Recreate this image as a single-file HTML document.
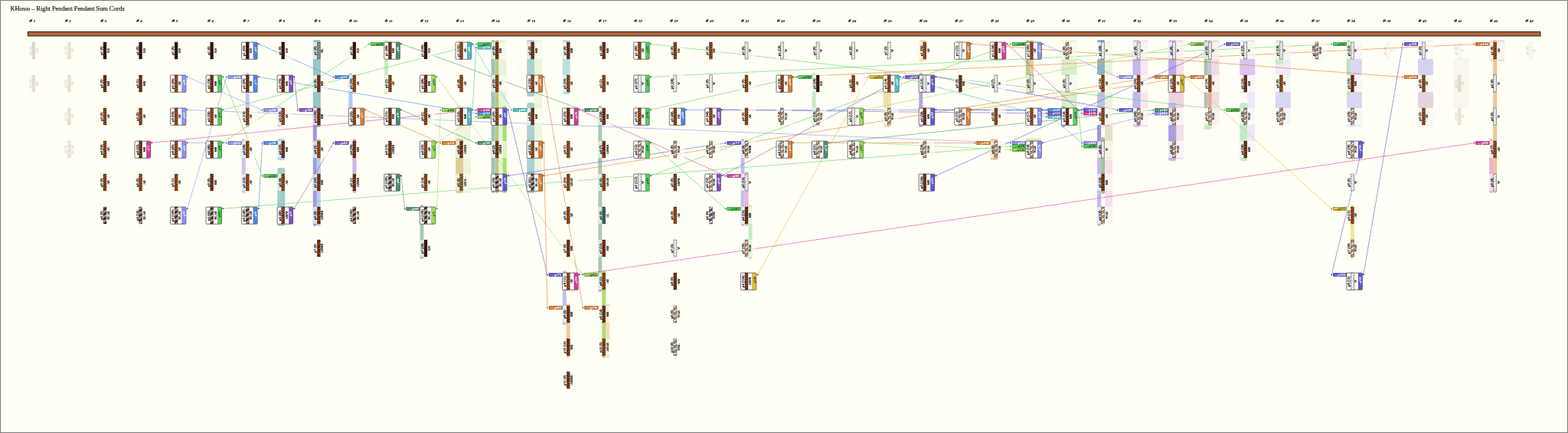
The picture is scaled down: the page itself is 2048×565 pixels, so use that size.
<!DOCTYPE html><html><head><meta charset="utf-8"><style>html,body{margin:0;padding:0;background:#fffff5;}svg{display:block}</style></head><body>
<svg width="2048" height="565" viewBox="0 0 2048 565" font-family="Liberation Serif, serif">
<defs>
<pattern id="pKB" patternUnits="userSpaceOnUse" width="4" height="6.2" patternTransform="skewY(-32)"><rect width="4" height="6.2" fill="#5e1c12"/><rect y="3.1" width="4" height="3.1" fill="#5e1c12"/><rect y="0" width="4" height="1.7" fill="#1a0806"/><rect y="3.1" width="4" height="1.7" fill="#1a0806"/></pattern>
<pattern id="pMB" patternUnits="userSpaceOnUse" width="4" height="6.2" patternTransform="skewY(-32)"><rect width="4" height="6.2" fill="#9a4418"/><rect y="3.1" width="4" height="3.1" fill="#9a4418"/><rect y="0" width="4" height="1.27" fill="#2a0c06"/><rect y="3.1" width="4" height="1.27" fill="#2a0c06"/></pattern>
<pattern id="pNB" patternUnits="userSpaceOnUse" width="4" height="6.2" patternTransform="skewY(-32)"><rect width="4" height="6.2" fill="#b8581c"/><rect y="3.1" width="4" height="3.1" fill="#b8581c"/><rect y="0" width="4" height="1.27" fill="#3a1606"/><rect y="3.1" width="4" height="1.27" fill="#3a1606"/></pattern>
<pattern id="pAB" patternUnits="userSpaceOnUse" width="4" height="6.2" patternTransform="skewY(-32)"><rect width="4" height="6.2" fill="#c4601c"/><rect y="3.1" width="4" height="3.1" fill="#c4601c"/><rect y="0" width="4" height="1.27" fill="#3a1606"/><rect y="3.1" width="4" height="1.27" fill="#3a1606"/></pattern>
<pattern id="pABAB" patternUnits="userSpaceOnUse" width="4" height="6.2" patternTransform="skewY(-32)"><rect width="4" height="6.2" fill="#c4601c"/><rect y="3.1" width="4" height="3.1" fill="#b0561a"/><rect y="0" width="4" height="1.27" fill="#3a1606"/><rect y="3.1" width="4" height="1.27" fill="#3a1606"/></pattern>
<pattern id="pW" patternUnits="userSpaceOnUse" width="4" height="6.2" patternTransform="skewY(-32)"><rect width="4" height="6.2" fill="#ffffff"/><rect y="3.1" width="4" height="3.1" fill="#ffffff"/><rect y="0" width="4" height="0.68" fill="#8a8a8a"/><rect y="3.1" width="4" height="0.68" fill="#8a8a8a"/></pattern>
<pattern id="pWAB" patternUnits="userSpaceOnUse" width="4" height="6.2" patternTransform="skewY(-32)"><rect width="4" height="6.2" fill="#ffffff"/><rect y="3.1" width="4" height="3.1" fill="#d88a58"/><rect y="0" width="4" height="0.85" fill="#555555"/><rect y="3.1" width="4" height="0.85" fill="#555555"/></pattern>
<pattern id="pWMB" patternUnits="userSpaceOnUse" width="4" height="6.2" patternTransform="skewY(-32)"><rect width="4" height="6.2" fill="#ffffff"/><rect y="3.1" width="4" height="3.1" fill="#b07050"/><rect y="0" width="4" height="0.77" fill="#444444"/><rect y="3.1" width="4" height="0.77" fill="#444444"/></pattern>
<pattern id="pWBL" patternUnits="userSpaceOnUse" width="4" height="6.2" patternTransform="skewY(-32)"><rect width="4" height="6.2" fill="#ffffff"/><rect y="3.1" width="4" height="3.1" fill="#9a9a9a"/><rect y="0" width="4" height="0.77" fill="#333333"/><rect y="3.1" width="4" height="0.77" fill="#333333"/></pattern>
<pattern id="pWPB" patternUnits="userSpaceOnUse" width="4" height="6.2" patternTransform="skewY(-32)"><rect width="4" height="6.2" fill="#ffffff"/><rect y="3.1" width="4" height="3.1" fill="#6a4a6a"/><rect y="0" width="4" height="0.77" fill="#333333"/><rect y="3.1" width="4" height="0.77" fill="#333333"/></pattern>
<pattern id="pBLAB" patternUnits="userSpaceOnUse" width="4" height="6.2" patternTransform="skewY(-32)"><rect width="4" height="6.2" fill="#a0aab6"/><rect y="3.1" width="4" height="3.1" fill="#262226"/><rect y="0" width="4" height="0.77" fill="#c4601c"/><rect y="3.1" width="4" height="0.77" fill="#c4601c"/></pattern>
<pattern id="pABMB" patternUnits="userSpaceOnUse" width="4" height="6.2" patternTransform="skewY(-32)"><rect width="4" height="6.2" fill="#c4601c"/><rect y="3.1" width="4" height="3.1" fill="#8a3414"/><rect y="0" width="4" height="1.27" fill="#2a0c06"/><rect y="3.1" width="4" height="1.27" fill="#2a0c06"/></pattern>
<pattern id="pABPB" patternUnits="userSpaceOnUse" width="4" height="6.2" patternTransform="skewY(-32)"><rect width="4" height="6.2" fill="#c4601c"/><rect y="3.1" width="4" height="3.1" fill="#8a5a6a"/><rect y="0" width="4" height="1.19" fill="#2a0c06"/><rect y="3.1" width="4" height="1.19" fill="#2a0c06"/></pattern>
<pattern id="pABGL" patternUnits="userSpaceOnUse" width="4" height="6.2" patternTransform="skewY(-32)"><rect width="4" height="6.2" fill="#c8641e"/><rect y="3.1" width="4" height="3.1" fill="#8a9a50"/><rect y="0" width="4" height="0.94" fill="#2a0c06"/><rect y="3.1" width="4" height="0.94" fill="#2a0c06"/></pattern>
<pattern id="pBL" patternUnits="userSpaceOnUse" width="4" height="6.2" patternTransform="skewY(-32)"><rect width="4" height="6.2" fill="#a4a4a4"/><rect y="3.1" width="4" height="3.1" fill="#a4a4a4"/><rect y="0" width="4" height="0.94" fill="#404040"/><rect y="3.1" width="4" height="0.94" fill="#404040"/></pattern>
<pattern id="pCL" patternUnits="userSpaceOnUse" width="4" height="6.2" patternTransform="skewY(-32)"><rect width="4" height="6.2" fill="#3a7a80"/><rect y="3.1" width="4" height="3.1" fill="#3a7a80"/><rect y="0" width="4" height="1.1" fill="#103038"/><rect y="3.1" width="4" height="1.1" fill="#103038"/></pattern>
<pattern id="pF" patternUnits="userSpaceOnUse" width="4" height="6.2" patternTransform="skewY(-32)"><rect width="4" height="6.2" fill="#c8a890"/><rect y="3.1" width="4" height="3.1" fill="#c8a890"/><rect y="0" width="4" height="0.85" fill="#a08070"/><rect y="3.1" width="4" height="0.85" fill="#a08070"/></pattern>
</defs>
<rect x="0.5" y="0.5" width="2047" height="564" fill="#fffff5" stroke="#7c7c7a" stroke-width="1"/>
<rect x="1.5" y="1.5" width="2045" height="562" fill="none" stroke="#ffffff" stroke-width="1"/>
<text x="13.4" y="13.7" font-size="8.3" fill="#111" stroke="#111" stroke-width="0.18">KH<tspan font-size="6.9">0500</tspan> – Right Pendant Pendant Sum Cords</text>
<text x="42.3" y="29.4" font-weight="bold" font-style="italic" text-anchor="middle" fill="#1a1a1a" stroke="#1a1a1a" stroke-width="0.15"><tspan font-size="7.0">#</tspan><tspan font-size="5.0" dx="1.7">1</tspan></text>
<text x="88.9" y="29.4" font-weight="bold" font-style="italic" text-anchor="middle" fill="#1a1a1a" stroke="#1a1a1a" stroke-width="0.15"><tspan font-size="7.0">#</tspan><tspan font-size="5.0" dx="1.7">2</tspan></text>
<text x="135.4" y="29.4" font-weight="bold" font-style="italic" text-anchor="middle" fill="#1a1a1a" stroke="#1a1a1a" stroke-width="0.15"><tspan font-size="7.0">#</tspan><tspan font-size="5.0" dx="1.7">3</tspan></text>
<text x="182.0" y="29.4" font-weight="bold" font-style="italic" text-anchor="middle" fill="#1a1a1a" stroke="#1a1a1a" stroke-width="0.15"><tspan font-size="7.0">#</tspan><tspan font-size="5.0" dx="1.7">4</tspan></text>
<text x="228.5" y="29.4" font-weight="bold" font-style="italic" text-anchor="middle" fill="#1a1a1a" stroke="#1a1a1a" stroke-width="0.15"><tspan font-size="7.0">#</tspan><tspan font-size="5.0" dx="1.7">5</tspan></text>
<text x="275.1" y="29.4" font-weight="bold" font-style="italic" text-anchor="middle" fill="#1a1a1a" stroke="#1a1a1a" stroke-width="0.15"><tspan font-size="7.0">#</tspan><tspan font-size="5.0" dx="1.7">6</tspan></text>
<text x="321.6" y="29.4" font-weight="bold" font-style="italic" text-anchor="middle" fill="#1a1a1a" stroke="#1a1a1a" stroke-width="0.15"><tspan font-size="7.0">#</tspan><tspan font-size="5.0" dx="1.7">7</tspan></text>
<text x="368.2" y="29.4" font-weight="bold" font-style="italic" text-anchor="middle" fill="#1a1a1a" stroke="#1a1a1a" stroke-width="0.15"><tspan font-size="7.0">#</tspan><tspan font-size="5.0" dx="1.7">8</tspan></text>
<text x="414.7" y="29.4" font-weight="bold" font-style="italic" text-anchor="middle" fill="#1a1a1a" stroke="#1a1a1a" stroke-width="0.15"><tspan font-size="7.0">#</tspan><tspan font-size="5.0" dx="1.7">9</tspan></text>
<text x="461.3" y="29.4" font-weight="bold" font-style="italic" text-anchor="middle" fill="#1a1a1a" stroke="#1a1a1a" stroke-width="0.15"><tspan font-size="7.0">#</tspan><tspan font-size="5.0" dx="1.7">10</tspan></text>
<text x="507.8" y="29.4" font-weight="bold" font-style="italic" text-anchor="middle" fill="#1a1a1a" stroke="#1a1a1a" stroke-width="0.15"><tspan font-size="7.0">#</tspan><tspan font-size="5.0" dx="1.7">11</tspan></text>
<text x="554.4" y="29.4" font-weight="bold" font-style="italic" text-anchor="middle" fill="#1a1a1a" stroke="#1a1a1a" stroke-width="0.15"><tspan font-size="7.0">#</tspan><tspan font-size="5.0" dx="1.7">12</tspan></text>
<text x="601.0" y="29.4" font-weight="bold" font-style="italic" text-anchor="middle" fill="#1a1a1a" stroke="#1a1a1a" stroke-width="0.15"><tspan font-size="7.0">#</tspan><tspan font-size="5.0" dx="1.7">13</tspan></text>
<text x="647.5" y="29.4" font-weight="bold" font-style="italic" text-anchor="middle" fill="#1a1a1a" stroke="#1a1a1a" stroke-width="0.15"><tspan font-size="7.0">#</tspan><tspan font-size="5.0" dx="1.7">14</tspan></text>
<text x="694.1" y="29.4" font-weight="bold" font-style="italic" text-anchor="middle" fill="#1a1a1a" stroke="#1a1a1a" stroke-width="0.15"><tspan font-size="7.0">#</tspan><tspan font-size="5.0" dx="1.7">15</tspan></text>
<text x="740.6" y="29.4" font-weight="bold" font-style="italic" text-anchor="middle" fill="#1a1a1a" stroke="#1a1a1a" stroke-width="0.15"><tspan font-size="7.0">#</tspan><tspan font-size="5.0" dx="1.7">16</tspan></text>
<text x="787.2" y="29.4" font-weight="bold" font-style="italic" text-anchor="middle" fill="#1a1a1a" stroke="#1a1a1a" stroke-width="0.15"><tspan font-size="7.0">#</tspan><tspan font-size="5.0" dx="1.7">17</tspan></text>
<text x="833.7" y="29.4" font-weight="bold" font-style="italic" text-anchor="middle" fill="#1a1a1a" stroke="#1a1a1a" stroke-width="0.15"><tspan font-size="7.0">#</tspan><tspan font-size="5.0" dx="1.7">18</tspan></text>
<text x="880.3" y="29.4" font-weight="bold" font-style="italic" text-anchor="middle" fill="#1a1a1a" stroke="#1a1a1a" stroke-width="0.15"><tspan font-size="7.0">#</tspan><tspan font-size="5.0" dx="1.7">19</tspan></text>
<text x="926.8" y="29.4" font-weight="bold" font-style="italic" text-anchor="middle" fill="#1a1a1a" stroke="#1a1a1a" stroke-width="0.15"><tspan font-size="7.0">#</tspan><tspan font-size="5.0" dx="1.7">20</tspan></text>
<text x="973.4" y="29.4" font-weight="bold" font-style="italic" text-anchor="middle" fill="#1a1a1a" stroke="#1a1a1a" stroke-width="0.15"><tspan font-size="7.0">#</tspan><tspan font-size="5.0" dx="1.7">21</tspan></text>
<text x="1020.0" y="29.4" font-weight="bold" font-style="italic" text-anchor="middle" fill="#1a1a1a" stroke="#1a1a1a" stroke-width="0.15"><tspan font-size="7.0">#</tspan><tspan font-size="5.0" dx="1.7">22</tspan></text>
<text x="1066.5" y="29.4" font-weight="bold" font-style="italic" text-anchor="middle" fill="#1a1a1a" stroke="#1a1a1a" stroke-width="0.15"><tspan font-size="7.0">#</tspan><tspan font-size="5.0" dx="1.7">23</tspan></text>
<text x="1113.1" y="29.4" font-weight="bold" font-style="italic" text-anchor="middle" fill="#1a1a1a" stroke="#1a1a1a" stroke-width="0.15"><tspan font-size="7.0">#</tspan><tspan font-size="5.0" dx="1.7">24</tspan></text>
<text x="1159.6" y="29.4" font-weight="bold" font-style="italic" text-anchor="middle" fill="#1a1a1a" stroke="#1a1a1a" stroke-width="0.15"><tspan font-size="7.0">#</tspan><tspan font-size="5.0" dx="1.7">25</tspan></text>
<text x="1206.2" y="29.4" font-weight="bold" font-style="italic" text-anchor="middle" fill="#1a1a1a" stroke="#1a1a1a" stroke-width="0.15"><tspan font-size="7.0">#</tspan><tspan font-size="5.0" dx="1.7">26</tspan></text>
<text x="1252.7" y="29.4" font-weight="bold" font-style="italic" text-anchor="middle" fill="#1a1a1a" stroke="#1a1a1a" stroke-width="0.15"><tspan font-size="7.0">#</tspan><tspan font-size="5.0" dx="1.7">27</tspan></text>
<text x="1299.3" y="29.4" font-weight="bold" font-style="italic" text-anchor="middle" fill="#1a1a1a" stroke="#1a1a1a" stroke-width="0.15"><tspan font-size="7.0">#</tspan><tspan font-size="5.0" dx="1.7">28</tspan></text>
<text x="1345.8" y="29.4" font-weight="bold" font-style="italic" text-anchor="middle" fill="#1a1a1a" stroke="#1a1a1a" stroke-width="0.15"><tspan font-size="7.0">#</tspan><tspan font-size="5.0" dx="1.7">29</tspan></text>
<text x="1392.4" y="29.4" font-weight="bold" font-style="italic" text-anchor="middle" fill="#1a1a1a" stroke="#1a1a1a" stroke-width="0.15"><tspan font-size="7.0">#</tspan><tspan font-size="5.0" dx="1.7">30</tspan></text>
<text x="1439.0" y="29.4" font-weight="bold" font-style="italic" text-anchor="middle" fill="#1a1a1a" stroke="#1a1a1a" stroke-width="0.15"><tspan font-size="7.0">#</tspan><tspan font-size="5.0" dx="1.7">31</tspan></text>
<text x="1485.5" y="29.4" font-weight="bold" font-style="italic" text-anchor="middle" fill="#1a1a1a" stroke="#1a1a1a" stroke-width="0.15"><tspan font-size="7.0">#</tspan><tspan font-size="5.0" dx="1.7">32</tspan></text>
<text x="1532.1" y="29.4" font-weight="bold" font-style="italic" text-anchor="middle" fill="#1a1a1a" stroke="#1a1a1a" stroke-width="0.15"><tspan font-size="7.0">#</tspan><tspan font-size="5.0" dx="1.7">33</tspan></text>
<text x="1578.6" y="29.4" font-weight="bold" font-style="italic" text-anchor="middle" fill="#1a1a1a" stroke="#1a1a1a" stroke-width="0.15"><tspan font-size="7.0">#</tspan><tspan font-size="5.0" dx="1.7">34</tspan></text>
<text x="1625.2" y="29.4" font-weight="bold" font-style="italic" text-anchor="middle" fill="#1a1a1a" stroke="#1a1a1a" stroke-width="0.15"><tspan font-size="7.0">#</tspan><tspan font-size="5.0" dx="1.7">35</tspan></text>
<text x="1671.7" y="29.4" font-weight="bold" font-style="italic" text-anchor="middle" fill="#1a1a1a" stroke="#1a1a1a" stroke-width="0.15"><tspan font-size="7.0">#</tspan><tspan font-size="5.0" dx="1.7">36</tspan></text>
<text x="1718.3" y="29.4" font-weight="bold" font-style="italic" text-anchor="middle" fill="#1a1a1a" stroke="#1a1a1a" stroke-width="0.15"><tspan font-size="7.0">#</tspan><tspan font-size="5.0" dx="1.7">37</tspan></text>
<text x="1764.8" y="29.4" font-weight="bold" font-style="italic" text-anchor="middle" fill="#1a1a1a" stroke="#1a1a1a" stroke-width="0.15"><tspan font-size="7.0">#</tspan><tspan font-size="5.0" dx="1.7">38</tspan></text>
<text x="1811.4" y="29.4" font-weight="bold" font-style="italic" text-anchor="middle" fill="#1a1a1a" stroke="#1a1a1a" stroke-width="0.15"><tspan font-size="7.0">#</tspan><tspan font-size="5.0" dx="1.7">39</tspan></text>
<text x="1857.9" y="29.4" font-weight="bold" font-style="italic" text-anchor="middle" fill="#1a1a1a" stroke="#1a1a1a" stroke-width="0.15"><tspan font-size="7.0">#</tspan><tspan font-size="5.0" dx="1.7">40</tspan></text>
<text x="1904.5" y="29.4" font-weight="bold" font-style="italic" text-anchor="middle" fill="#1a1a1a" stroke="#1a1a1a" stroke-width="0.15"><tspan font-size="7.0">#</tspan><tspan font-size="5.0" dx="1.7">41</tspan></text>
<text x="1951.1" y="29.4" font-weight="bold" font-style="italic" text-anchor="middle" fill="#1a1a1a" stroke="#1a1a1a" stroke-width="0.15"><tspan font-size="7.0">#</tspan><tspan font-size="5.0" dx="1.7">42</tspan></text>
<text x="1997.6" y="29.4" font-weight="bold" font-style="italic" text-anchor="middle" fill="#1a1a1a" stroke="#1a1a1a" stroke-width="0.15"><tspan font-size="7.0">#</tspan><tspan font-size="5.0" dx="1.7">43</tspan></text>
<rect x="36.5" y="41.5" width="1975.5" height="5.5" fill="#a9673e" stroke="#3a1c0c" stroke-width="1"/>
<rect x="320.7" y="95" width="5.0" height="71" rx="2.5" fill="#c6c6f3" fill-opacity="1"/>
<rect x="315.7" y="181" width="5.0" height="71" rx="2.5" fill="#c6c6f3" fill-opacity="1"/>
<rect x="362.3" y="138" width="5.0" height="28" rx="2.5" fill="#d2d2f6" fill-opacity="1"/>
<rect x="362.3" y="181" width="10.0" height="28" rx="2.5" fill="#b9d0f4" fill-opacity="1"/>
<rect x="362.3" y="219" width="10.0" height="76" rx="2.5" fill="#9dcfcb" fill-opacity="1"/>
<rect x="408.8" y="52" width="10.0" height="114" rx="2.5" fill="#96c8c8" fill-opacity="1"/>
<rect x="408.8" y="138" width="5.0" height="157" rx="2.5" fill="#a29ade" fill-opacity="1"/>
<rect x="413.8" y="181" width="5.0" height="114" rx="2.5" fill="#b9d0f2" fill-opacity="1"/>
<rect x="455.4" y="95" width="5.0" height="71" rx="2.5" fill="#b1c9f1" fill-opacity="1"/>
<rect x="460.4" y="181" width="5.0" height="71" rx="2.5" fill="#c9b4e9" fill-opacity="1"/>
<rect x="501.9" y="52" width="5.0" height="71" rx="2.5" fill="#c5ecc5" fill-opacity="1"/>
<rect x="548.5" y="267" width="5.0" height="71" rx="2.5" fill="#a9c9b9" fill-opacity="1"/>
<rect x="595.1" y="138" width="20.0" height="114" rx="2.5" fill="#eef6dc" fill-opacity="1"/>
<rect x="595.1" y="181" width="10.0" height="71" rx="2.5" fill="#d9cd99" fill-opacity="1"/>
<rect x="641.6" y="52" width="5.0" height="200" rx="2.5" fill="#9cc4bc" fill-opacity="1"/>
<rect x="646.6" y="52" width="5.0" height="200" rx="2.5" fill="#b9c981" fill-opacity="1"/>
<rect x="651.6" y="52" width="10.0" height="200" rx="2.5" fill="#eaf4d8" fill-opacity="1"/>
<rect x="656.6" y="138" width="5.0" height="114" rx="2.5" fill="#a9e071" fill-opacity="1"/>
<rect x="688.2" y="52" width="10.0" height="74" rx="2.5" fill="#a9d1cd" fill-opacity="1"/>
<rect x="688.2" y="134" width="10.0" height="118" rx="2.5" fill="#a9d1cd" fill-opacity="1"/>
<rect x="688.17" y="52" width="10.0" height="3.5" rx="2.5" fill="#b8c8f0" fill-opacity="1"/>
<rect x="698.2" y="52" width="10.0" height="200" rx="2.5" fill="#eef6dc" fill-opacity="1"/>
<rect x="734.7" y="52" width="10.0" height="71" rx="2.5" fill="#b9e1e1" fill-opacity="1"/>
<rect x="734.7" y="353" width="5.0" height="71" rx="2.5" fill="#c1c1f1" fill-opacity="1"/>
<rect x="739.7" y="396" width="5.0" height="71" rx="2.5" fill="#f5c9a1" fill-opacity="1"/>
<rect x="781.3" y="138" width="5.0" height="243" rx="2.5" fill="#a9c9b9" fill-opacity="1"/>
<rect x="786.3" y="353" width="5.0" height="114" rx="2.5" fill="#a9e071" fill-opacity="1"/>
<rect x="791.3" y="396" width="5.0" height="71" rx="2.5" fill="#f9d9b9" fill-opacity="1"/>
<rect x="967.5" y="181" width="5.0" height="114" rx="2.5" fill="#c1c1f1" fill-opacity="1"/>
<rect x="972.5" y="224" width="5.0" height="71" rx="2.5" fill="#f1b1d1" fill-opacity="1"/>
<rect x="977.5" y="267" width="5.0" height="71" rx="2.5" fill="#c1f1c1" fill-opacity="1"/>
<rect x="1060.6" y="95" width="5.0" height="71" rx="2.5" fill="#c5ecc5" fill-opacity="1"/>
<rect x="1153.7" y="95" width="10.0" height="71" rx="2.5" fill="#f1e1a9" fill-opacity="1"/>
<rect x="1200.3" y="52" width="10.0" height="28" rx="2.5" fill="#f1e1a9" fill-opacity="1"/>
<rect x="1200.3" y="95" width="5.0" height="71" rx="2.5" fill="#b9a1e1" fill-opacity="1"/>
<rect x="1293.4" y="181" width="10.0" height="28" rx="2.5" fill="#f5c9a1" fill-opacity="1"/>
<rect x="1339.9" y="52" width="5.0" height="71" rx="2.5" fill="#b9c981" fill-opacity="1"/>
<rect x="1344.9" y="52" width="5.0" height="71" rx="2.5" fill="#e1c9a9" fill-opacity="1"/>
<rect x="1386.5" y="52" width="20.0" height="114" rx="2.5" fill="#eef6dc" fill-opacity="1"/>
<rect x="1386.5" y="77" width="20.0" height="21" rx="2.5" fill="#dcefc8" fill-opacity="1"/>
<rect x="1386.5" y="120" width="20.0" height="21" rx="2.5" fill="#dcefc8" fill-opacity="1"/>
<rect x="1386.5" y="138" width="5.0" height="28" rx="2.5" fill="#81c1c9" fill-opacity="1"/>
<rect x="1433.1" y="52" width="10.0" height="28" rx="2.5" fill="#d0e4ee" fill-opacity="1"/>
<rect x="1433.1" y="77" width="10.0" height="21" rx="2.5" fill="#8fb5bd" fill-opacity="1"/>
<rect x="1433.1" y="120" width="10.0" height="21" rx="2.5" fill="#bcc4dc" fill-opacity="1"/>
<rect x="1443.1" y="54" width="10.0" height="116" rx="2.5" fill="#e9f4dd" fill-opacity="1"/>
<rect x="1433.1" y="160" width="5.0" height="135" rx="2.5" fill="#c5b8ec" fill-opacity="1"/>
<rect x="1433.1" y="163" width="5.0" height="23" rx="2.5" fill="#a393da" fill-opacity="1"/>
<rect x="1438.1" y="179" width="5.0" height="74" rx="2.5" fill="#93c993" fill-opacity="1"/>
<rect x="1443.1" y="160" width="10.0" height="47" rx="2.5" fill="#e6e2c4" fill-opacity="1"/>
<rect x="1443.1" y="208" width="10.0" height="84" rx="2.5" fill="#f4e1e9" fill-opacity="1"/>
<rect x="1479.6" y="52" width="10.0" height="114" rx="2.5" fill="#d2caf2" fill-opacity="1"/>
<rect x="1489.6" y="52" width="10.0" height="114" rx="2.5" fill="#f6e8ee" fill-opacity="1"/>
<rect x="1479.6" y="77" width="10.0" height="21" rx="2.5" fill="#c4b6ec" fill-opacity="1"/>
<rect x="1479.6" y="120" width="10.0" height="21" rx="2.5" fill="#c4b6ec" fill-opacity="1"/>
<rect x="1536.2" y="52" width="10.0" height="156" rx="2.5" fill="#f3e0ea" fill-opacity="1"/>
<rect x="1526.2" y="52" width="10.0" height="74" rx="2.5" fill="#cbbdee" fill-opacity="1"/>
<rect x="1526.2" y="77" width="10.0" height="21" rx="2.5" fill="#bea8e6" fill-opacity="1"/>
<rect x="1526.2" y="120" width="20.0" height="21" rx="2.5" fill="#eed3df" fill-opacity="1"/>
<rect x="1526.2" y="134" width="10.0" height="76" rx="2.5" fill="#bcbcea" fill-opacity="1"/>
<rect x="1526.2" y="163" width="10.0" height="22" rx="2.5" fill="#a9a1dd" fill-opacity="1"/>
<rect x="1572.7" y="52" width="5.0" height="47" rx="2.5" fill="#a3c3a3" fill-opacity="1"/>
<rect x="1577.7" y="52" width="5.0" height="47" rx="2.5" fill="#c3c3ea" fill-opacity="1"/>
<rect x="1582.7" y="52" width="10.0" height="111" rx="2.5" fill="#f2dce4" fill-opacity="1"/>
<rect x="1572.7" y="120" width="5.0" height="21" rx="2.5" fill="#bcbcbc" fill-opacity="1"/>
<rect x="1577.7" y="120" width="5.0" height="21" rx="2.5" fill="#dab396" fill-opacity="1"/>
<rect x="1572.7" y="160" width="10.0" height="9" rx="2.5" fill="#c8ecc0" fill-opacity="1"/>
<rect x="1619.3" y="52" width="20.0" height="70" rx="2.5" fill="#f2e6f2" fill-opacity="1"/>
<rect x="1619.3" y="77" width="20.0" height="21" rx="2.5" fill="#dcc5ee" fill-opacity="1"/>
<rect x="1629.3" y="118" width="10.0" height="82" rx="2.5" fill="#ece8f6" fill-opacity="1"/>
<rect x="1619.3" y="134" width="10.0" height="76" rx="2.5" fill="#c5ebcb" fill-opacity="1"/>
<rect x="1665.8" y="56" width="20.0" height="106" rx="2.5" fill="#eeeaf8" fill-opacity="1"/>
<rect x="1665.8" y="120" width="20.0" height="21" rx="2.5" fill="#dcd6f2" fill-opacity="1"/>
<rect x="1665.8" y="52" width="10.0" height="32" rx="2.5" fill="#c9edc9" fill-opacity="1"/>
<rect x="1712.4" y="54.7" width="20.09999999999991" height="22.89999999999999" rx="2.5" fill="#f2f2ee" fill-opacity="1"/>
<rect x="1758.9" y="54.7" width="20.0" height="111.3" rx="2.5" fill="#eeeaf8" fill-opacity="1"/>
<rect x="1758.9" y="77" width="20.0" height="21" rx="2.5" fill="#dcd6f2" fill-opacity="1"/>
<rect x="1758.9" y="120" width="20.0" height="21" rx="2.5" fill="#dcd6f2" fill-opacity="1"/>
<rect x="1758.9" y="52" width="5.0" height="73" rx="2.5" fill="#b9e3b9" fill-opacity="1"/>
<rect x="1763.9" y="267" width="5.0" height="71" rx="2.5" fill="#f3e3a3" fill-opacity="1"/>
<rect x="1852.0" y="52" width="20.0" height="112" rx="2.5" fill="#f0f0f8" fill-opacity="1"/>
<rect x="1852.0" y="77" width="20.0" height="21" rx="2.5" fill="#d6d2f2" fill-opacity="1"/>
<rect x="1852.0" y="120" width="20.0" height="21" rx="2.5" fill="#e4d4dc" fill-opacity="1"/>
<rect x="1898.6" y="76" width="20.0" height="65" rx="2.5" fill="#f9f6ee" fill-opacity="1"/>
<rect x="1945.2" y="52" width="20.0" height="28" rx="2.5" fill="#f2e2e2" fill-opacity="1"/>
<rect x="1950.2" y="52" width="5.0" height="200" rx="2.5" fill="#efc39a" fill-opacity="1"/>
<rect x="1945.2" y="181" width="5.0" height="71" rx="2.5" fill="#f0b0d0" fill-opacity="1"/>
<rect x="1433.0500000000002" y="52" width="10.0" height="3.5" rx="2.5" fill="#7ea6d8" fill-opacity="1"/>
<rect x="1339.9" y="180.5" width="20.0" height="5.5" rx="2.5" fill="#d0eec0" fill-opacity="1"/>
<line x1="198.1" y1="186.3" x2="621.8" y2="143.6" stroke="#d8399d" stroke-width="0.85" stroke-dasharray="1.8 0.7" stroke-opacity="0.95"/>
<line x1="244.6" y1="100.3" x2="342.5" y2="143.6" stroke="#8e8ef2" stroke-width="0.85" stroke-dasharray="1.8 0.7" stroke-opacity="0.95"/>
<line x1="244.6" y1="143.3" x2="1320.1" y2="186.6" stroke="#8e8ef2" stroke-width="0.85" stroke-dasharray="1.8 0.7" stroke-opacity="0.95"/>
<line x1="244.6" y1="186.3" x2="295.9" y2="186.6" stroke="#8e8ef2" stroke-width="0.85" stroke-dasharray="1.8 0.7" stroke-opacity="0.95"/>
<line x1="244.6" y1="272.3" x2="295.9" y2="100.6" stroke="#8e8ef2" stroke-width="0.85" stroke-dasharray="1.8 0.7" stroke-opacity="0.95"/>
<line x1="291.2" y1="100.3" x2="342.5" y2="229.6" stroke="#52d35a" stroke-width="0.85" stroke-dasharray="1.8 0.7" stroke-opacity="0.95"/>
<line x1="291.2" y1="143.3" x2="621.8" y2="57.6" stroke="#52d35a" stroke-width="0.85" stroke-dasharray="1.8 0.7" stroke-opacity="0.95"/>
<line x1="291.2" y1="186.3" x2="482.1" y2="57.6" stroke="#52d35a" stroke-width="0.85" stroke-dasharray="1.8 0.7" stroke-opacity="0.95"/>
<line x1="291.2" y1="272.3" x2="1320.1" y2="191.0" stroke="#52d35a" stroke-width="0.85" stroke-dasharray="1.8 0.7" stroke-opacity="0.95"/>
<line x1="337.7" y1="57.3" x2="435.6" y2="100.6" stroke="#4a86e8" stroke-width="0.85" stroke-dasharray="1.8 0.7" stroke-opacity="0.95"/>
<line x1="337.7" y1="100.3" x2="621.8" y2="148.0" stroke="#4a86e8" stroke-width="0.85" stroke-dasharray="1.8 0.7" stroke-opacity="0.95"/>
<line x1="337.7" y1="272.3" x2="342.5" y2="186.6" stroke="#4a86e8" stroke-width="0.85" stroke-dasharray="1.8 0.7" stroke-opacity="0.95"/>
<line x1="384.3" y1="100.3" x2="389.0" y2="143.6" stroke="#7d4fc1" stroke-width="0.85" stroke-dasharray="1.8 0.7" stroke-opacity="0.95"/>
<line x1="384.3" y1="272.3" x2="435.6" y2="186.6" stroke="#7d4fc1" stroke-width="0.85" stroke-dasharray="1.8 0.7" stroke-opacity="0.95"/>
<line x1="477.4" y1="143.3" x2="575.3" y2="186.6" stroke="#db7a2c" stroke-width="0.85" stroke-dasharray="1.8 0.7" stroke-opacity="0.95"/>
<line x1="524.0" y1="57.3" x2="761.5" y2="143.6" stroke="#438f6e" stroke-width="0.85" stroke-dasharray="1.8 0.7" stroke-opacity="0.95"/>
<line x1="524.0" y1="143.3" x2="621.8" y2="186.6" stroke="#438f6e" stroke-width="0.85" stroke-dasharray="1.8 0.7" stroke-opacity="0.95"/>
<line x1="524.0" y1="229.3" x2="528.7" y2="272.6" stroke="#438f6e" stroke-width="0.85" stroke-dasharray="1.8 0.7" stroke-opacity="0.95"/>
<line x1="570.5" y1="100.3" x2="761.5" y2="358.6" stroke="#9ade55" stroke-width="0.85" stroke-dasharray="1.8 0.7" stroke-opacity="0.95"/>
<line x1="570.5" y1="186.3" x2="621.8" y2="152.4" stroke="#9ade55" stroke-width="0.85" stroke-dasharray="1.8 0.7" stroke-opacity="0.95"/>
<line x1="570.5" y1="272.3" x2="575.3" y2="143.6" stroke="#9ade55" stroke-width="0.85" stroke-dasharray="1.8 0.7" stroke-opacity="0.95"/>
<line x1="617.1" y1="57.3" x2="668.4" y2="143.6" stroke="#45bfc9" stroke-width="0.85" stroke-dasharray="1.8 0.7" stroke-opacity="0.95"/>
<line x1="617.1" y1="143.3" x2="621.8" y2="62.0" stroke="#45bfc9" stroke-width="0.85" stroke-dasharray="1.8 0.7" stroke-opacity="0.95"/>
<line x1="663.6" y1="143.3" x2="714.9" y2="358.6" stroke="#5b55da" stroke-width="0.85" stroke-dasharray="1.8 0.7" stroke-opacity="0.95"/>
<line x1="663.6" y1="229.3" x2="947.7" y2="186.6" stroke="#5b55da" stroke-width="0.85" stroke-dasharray="1.8 0.7" stroke-opacity="0.95"/>
<line x1="710.2" y1="100.3" x2="761.5" y2="401.6" stroke="#db7a2c" stroke-width="0.85" stroke-dasharray="1.8 0.7" stroke-opacity="0.95"/>
<line x1="710.2" y1="186.3" x2="714.9" y2="401.6" stroke="#db7a2c" stroke-width="0.85" stroke-dasharray="1.8 0.7" stroke-opacity="0.95"/>
<line x1="710.2" y1="229.3" x2="1506.4" y2="100.6" stroke="#db7a2c" stroke-width="0.85" stroke-dasharray="1.8 0.7" stroke-opacity="0.95"/>
<line x1="756.7" y1="143.3" x2="947.7" y2="229.6" stroke="#d8399d" stroke-width="0.85" stroke-dasharray="1.8 0.7" stroke-opacity="0.95"/>
<line x1="756.7" y1="358.3" x2="1925.4" y2="186.6" stroke="#d8399d" stroke-width="0.85" stroke-dasharray="1.8 0.7" stroke-opacity="0.95"/>
<line x1="849.8" y1="57.3" x2="1599.5" y2="143.6" stroke="#52d35a" stroke-width="0.85" stroke-dasharray="1.8 0.7" stroke-opacity="0.95"/>
<line x1="849.8" y1="100.3" x2="1739.1" y2="57.6" stroke="#52d35a" stroke-width="0.85" stroke-dasharray="1.8 0.7" stroke-opacity="0.95"/>
<line x1="849.8" y1="143.3" x2="1040.8" y2="100.6" stroke="#52d35a" stroke-width="0.85" stroke-dasharray="1.8 0.7" stroke-opacity="0.95"/>
<line x1="849.8" y1="186.3" x2="947.7" y2="272.6" stroke="#52d35a" stroke-width="0.85" stroke-dasharray="1.8 0.7" stroke-opacity="0.95"/>
<line x1="849.8" y1="229.3" x2="1320.1" y2="57.6" stroke="#52d35a" stroke-width="0.85" stroke-dasharray="1.8 0.7" stroke-opacity="0.95"/>
<line x1="896.4" y1="143.3" x2="1366.7" y2="143.6" stroke="#4a86e8" stroke-width="0.85" stroke-dasharray="1.8 0.7" stroke-opacity="0.95"/>
<line x1="942.9" y1="143.3" x2="1366.7" y2="148.0" stroke="#7d4fc1" stroke-width="0.85" stroke-dasharray="1.8 0.7" stroke-opacity="0.95"/>
<line x1="942.9" y1="229.3" x2="1180.5" y2="100.6" stroke="#7d4fc1" stroke-width="0.85" stroke-dasharray="1.8 0.7" stroke-opacity="0.95"/>
<line x1="989.5" y1="358.3" x2="1133.9" y2="100.6" stroke="#e6c12e" stroke-width="0.85" stroke-dasharray="1.8 0.7" stroke-opacity="0.95"/>
<line x1="1036.1" y1="100.3" x2="1925.4" y2="57.6" stroke="#db7a2c" stroke-width="0.85" stroke-dasharray="1.8 0.7" stroke-opacity="0.95"/>
<line x1="1036.1" y1="186.3" x2="1273.6" y2="186.6" stroke="#db7a2c" stroke-width="0.85" stroke-dasharray="1.8 0.7" stroke-opacity="0.95"/>
<line x1="1082.6" y1="186.3" x2="1506.4" y2="143.6" stroke="#438f6e" stroke-width="0.85" stroke-dasharray="1.8 0.7" stroke-opacity="0.95"/>
<line x1="1129.2" y1="143.3" x2="1552.9" y2="57.6" stroke="#9ade55" stroke-width="0.85" stroke-dasharray="1.8 0.7" stroke-opacity="0.95"/>
<line x1="1129.2" y1="186.3" x2="1320.1" y2="195.4" stroke="#9ade55" stroke-width="0.85" stroke-dasharray="1.8 0.7" stroke-opacity="0.95"/>
<line x1="1175.7" y1="100.3" x2="1366.7" y2="152.4" stroke="#45bfc9" stroke-width="0.85" stroke-dasharray="1.8 0.7" stroke-opacity="0.95"/>
<line x1="1222.3" y1="100.3" x2="1459.8" y2="143.6" stroke="#5b55da" stroke-width="0.85" stroke-dasharray="1.8 0.7" stroke-opacity="0.95"/>
<line x1="1222.3" y1="143.3" x2="1413.3" y2="143.6" stroke="#5b55da" stroke-width="0.85" stroke-dasharray="1.8 0.7" stroke-opacity="0.95"/>
<line x1="1222.3" y1="229.3" x2="1599.5" y2="57.6" stroke="#5b55da" stroke-width="0.85" stroke-dasharray="1.8 0.7" stroke-opacity="0.95"/>
<line x1="1268.8" y1="57.3" x2="1832.2" y2="100.6" stroke="#db7a2c" stroke-width="0.85" stroke-dasharray="1.8 0.7" stroke-opacity="0.95"/>
<line x1="1268.8" y1="143.3" x2="1552.9" y2="100.6" stroke="#db7a2c" stroke-width="0.85" stroke-dasharray="1.8 0.7" stroke-opacity="0.95"/>
<line x1="1315.4" y1="57.3" x2="1413.3" y2="148.0" stroke="#d8399d" stroke-width="0.85" stroke-dasharray="1.8 0.7" stroke-opacity="0.95"/>
<line x1="1361.9" y1="57.3" x2="1459.8" y2="100.6" stroke="#8e8ef2" stroke-width="0.85" stroke-dasharray="1.8 0.7" stroke-opacity="0.95"/>
<line x1="1361.9" y1="143.3" x2="1413.3" y2="186.6" stroke="#8e8ef2" stroke-width="0.85" stroke-dasharray="1.8 0.7" stroke-opacity="0.95"/>
<line x1="1361.9" y1="186.3" x2="1506.4" y2="148.0" stroke="#8e8ef2" stroke-width="0.85" stroke-dasharray="1.8 0.7" stroke-opacity="0.95"/>
<line x1="1408.5" y1="143.3" x2="1413.3" y2="191.0" stroke="#52d35a" stroke-width="0.85" stroke-dasharray="1.8 0.7" stroke-opacity="0.95"/>
<line x1="1548.2" y1="100.3" x2="1739.1" y2="272.6" stroke="#e6c12e" stroke-width="0.85" stroke-dasharray="1.8 0.7" stroke-opacity="0.95"/>
<line x1="1780.9" y1="186.3" x2="1739.1" y2="358.6" stroke="#5b55da" stroke-width="0.85" stroke-dasharray="1.8 0.7" stroke-opacity="0.95"/>
<line x1="1780.9" y1="358.3" x2="1832.2" y2="57.6" stroke="#5b55da" stroke-width="0.85" stroke-dasharray="1.8 0.7" stroke-opacity="0.95"/>
<g opacity="0.16"><rect x="36.4" y="55" width="20" height="22" fill="#fffff5" fill-opacity="0.62"/><rect x="41.9" y="55" width="4" height="22" fill="url(#pKB)" stroke="#2a1208" stroke-width="0.3"/><text transform="translate(40.8,66.2) rotate(-90)" font-size="4.6" font-weight="bold" text-anchor="middle" fill="#2a2a2a" stroke="#2a2a2a" stroke-width="0.18">p1 (0)</text><text transform="translate(49.8,66) rotate(-90)" font-size="4.1" font-weight="bold" text-anchor="middle" fill="#111" stroke="#111" stroke-width="0.1">KB</text></g>
<g opacity="0.16"><rect x="36.4" y="98" width="20" height="22" fill="#fffff5" fill-opacity="0.62"/><rect x="41.9" y="98" width="4" height="22" fill="url(#pMB)" stroke="#2a1208" stroke-width="0.3"/><text transform="translate(40.8,109.2) rotate(-90)" font-size="4.6" font-weight="bold" text-anchor="middle" fill="#2a2a2a" stroke="#2a2a2a" stroke-width="0.18">p2 (0)</text><text transform="translate(49.8,109) rotate(-90)" font-size="4.1" font-weight="bold" text-anchor="middle" fill="#111" stroke="#111" stroke-width="0.1">MB</text></g>
<g opacity="0.16"><rect x="83.0" y="55" width="20" height="22" fill="#fffff5" fill-opacity="0.62"/><rect x="88.5" y="55" width="4" height="22" fill="url(#pAB)" stroke="#2a1208" stroke-width="0.3"/><text transform="translate(87.4,66.2) rotate(-90)" font-size="4.6" font-weight="bold" text-anchor="middle" fill="#2a2a2a" stroke="#2a2a2a" stroke-width="0.18">p1 (0)</text><text transform="translate(96.4,66) rotate(-90)" font-size="4.1" font-weight="bold" text-anchor="middle" fill="#111" stroke="#111" stroke-width="0.1">AB</text></g>
<g opacity="0.16"><rect x="83.0" y="98" width="20" height="22" fill="#fffff5" fill-opacity="0.62"/><rect x="88.5" y="98" width="4" height="22" fill="url(#pAB)" stroke="#2a1208" stroke-width="0.3"/><text transform="translate(87.4,109.2) rotate(-90)" font-size="4.6" font-weight="bold" text-anchor="middle" fill="#2a2a2a" stroke="#2a2a2a" stroke-width="0.18">p2 (0)</text><text transform="translate(96.4,109) rotate(-90)" font-size="4.1" font-weight="bold" text-anchor="middle" fill="#111" stroke="#111" stroke-width="0.1">AB</text></g>
<g opacity="0.16"><rect x="83.0" y="141" width="20" height="22" fill="#fffff5" fill-opacity="0.62"/><rect x="88.5" y="141" width="4" height="22" fill="url(#pAB)" stroke="#2a1208" stroke-width="0.3"/><text transform="translate(87.4,152.2) rotate(-90)" font-size="4.6" font-weight="bold" text-anchor="middle" fill="#2a2a2a" stroke="#2a2a2a" stroke-width="0.18">p3 (0)</text><text transform="translate(96.4,152) rotate(-90)" font-size="4.1" font-weight="bold" text-anchor="middle" fill="#111" stroke="#111" stroke-width="0.1">AB</text></g>
<g opacity="0.16"><rect x="83.0" y="184" width="20" height="22" fill="#fffff5" fill-opacity="0.62"/><rect x="88.5" y="184" width="4" height="22" fill="url(#pBLAB)" stroke="#2a1208" stroke-width="0.3"/><text transform="translate(87.4,195.2) rotate(-90)" font-size="4.6" font-weight="bold" text-anchor="middle" fill="#2a2a2a" stroke="#2a2a2a" stroke-width="0.18">p4 (0)</text><text transform="translate(96.4,195) rotate(-90)" font-size="4.1" font-weight="bold" text-anchor="middle" fill="#111" stroke="#111" stroke-width="0.1">BLAB</text></g>
<rect x="129.5" y="55" width="20" height="22" fill="#fffff5" fill-opacity="0.62"/><rect x="135.0" y="55" width="4" height="22" fill="url(#pKB)" stroke="#2a1208" stroke-width="0.3"/><text transform="translate(133.9,66.2) rotate(-90)" font-size="4.6" font-weight="bold" text-anchor="middle" fill="#2a2a2a" stroke="#2a2a2a" stroke-width="0.18">p1 (0)</text><text transform="translate(142.9,66) rotate(-90)" font-size="4.1" font-weight="bold" text-anchor="middle" fill="#111" stroke="#111" stroke-width="0.1">KB</text>
<rect x="129.5" y="98" width="20" height="22" fill="#fffff5" fill-opacity="0.62"/><rect x="135.0" y="98" width="4" height="22" fill="url(#pMB)" stroke="#2a1208" stroke-width="0.3"/><text transform="translate(133.9,109.2) rotate(-90)" font-size="4.6" font-weight="bold" text-anchor="middle" fill="#2a2a2a" stroke="#2a2a2a" stroke-width="0.18">p2 (0)</text><text transform="translate(142.9,109) rotate(-90)" font-size="4.1" font-weight="bold" text-anchor="middle" fill="#111" stroke="#111" stroke-width="0.1">MB</text>
<rect x="129.5" y="141" width="20" height="22" fill="#fffff5" fill-opacity="0.62"/><rect x="135.0" y="141" width="4" height="22" fill="url(#pAB)" stroke="#2a1208" stroke-width="0.3"/><text transform="translate(133.9,152.2) rotate(-90)" font-size="4.6" font-weight="bold" text-anchor="middle" fill="#2a2a2a" stroke="#2a2a2a" stroke-width="0.18">p3 (0)</text><text transform="translate(142.9,152) rotate(-90)" font-size="4.1" font-weight="bold" text-anchor="middle" fill="#111" stroke="#111" stroke-width="0.1">AB</text>
<rect x="129.5" y="184" width="20" height="22" fill="#fffff5" fill-opacity="0.62"/><rect x="135.0" y="184" width="4" height="22" fill="url(#pAB)" stroke="#2a1208" stroke-width="0.3"/><text transform="translate(133.9,195.2) rotate(-90)" font-size="4.6" font-weight="bold" text-anchor="middle" fill="#2a2a2a" stroke="#2a2a2a" stroke-width="0.18">p4 (58)</text><text transform="translate(142.9,195) rotate(-90)" font-size="4.1" font-weight="bold" text-anchor="middle" fill="#111" stroke="#111" stroke-width="0.1">AB</text>
<rect x="129.5" y="227" width="20" height="22" fill="#fffff5" fill-opacity="0.62"/><rect x="135.0" y="227" width="4" height="22" fill="url(#pAB)" stroke="#2a1208" stroke-width="0.3"/><text transform="translate(133.9,238.2) rotate(-90)" font-size="4.6" font-weight="bold" text-anchor="middle" fill="#2a2a2a" stroke="#2a2a2a" stroke-width="0.18">p5 (0)</text><text transform="translate(142.9,238) rotate(-90)" font-size="4.1" font-weight="bold" text-anchor="middle" fill="#111" stroke="#111" stroke-width="0.1">AB</text>
<rect x="129.5" y="270" width="20" height="22" fill="#fffff5" fill-opacity="0.62"/><rect x="135.0" y="270" width="4" height="22" fill="url(#pBLAB)" stroke="#2a1208" stroke-width="0.3"/><text transform="translate(133.9,281.2) rotate(-90)" font-size="4.6" font-weight="bold" text-anchor="middle" fill="#2a2a2a" stroke="#2a2a2a" stroke-width="0.18">p6 (0)</text><text transform="translate(142.9,281) rotate(-90)" font-size="4.1" font-weight="bold" text-anchor="middle" fill="#111" stroke="#111" stroke-width="0.1">BLAB</text>
<rect x="176.1" y="55" width="20" height="22" fill="#fffff5" fill-opacity="0.62"/><rect x="181.6" y="55" width="4" height="22" fill="url(#pKB)" stroke="#2a1208" stroke-width="0.3"/><text transform="translate(180.5,66.2) rotate(-90)" font-size="4.6" font-weight="bold" text-anchor="middle" fill="#2a2a2a" stroke="#2a2a2a" stroke-width="0.18">p1 (0)</text><text transform="translate(189.5,66) rotate(-90)" font-size="4.1" font-weight="bold" text-anchor="middle" fill="#111" stroke="#111" stroke-width="0.1">KB</text>
<rect x="176.1" y="98" width="20" height="22" fill="#fffff5" fill-opacity="0.62"/><rect x="181.6" y="98" width="4" height="22" fill="url(#pMB)" stroke="#2a1208" stroke-width="0.3"/><text transform="translate(180.5,109.2) rotate(-90)" font-size="4.6" font-weight="bold" text-anchor="middle" fill="#2a2a2a" stroke="#2a2a2a" stroke-width="0.18">p2 (1)</text><text transform="translate(189.5,109) rotate(-90)" font-size="4.1" font-weight="bold" text-anchor="middle" fill="#111" stroke="#111" stroke-width="0.1">MB</text>
<rect x="176.1" y="141" width="20" height="22" fill="#fffff5" fill-opacity="0.62"/><rect x="181.6" y="141" width="4" height="22" fill="url(#pAB)" stroke="#2a1208" stroke-width="0.3"/><text transform="translate(180.5,152.2) rotate(-90)" font-size="4.6" font-weight="bold" text-anchor="middle" fill="#2a2a2a" stroke="#2a2a2a" stroke-width="0.18">p3 (0)</text><text transform="translate(189.5,152) rotate(-90)" font-size="4.1" font-weight="bold" text-anchor="middle" fill="#111" stroke="#111" stroke-width="0.1">AB</text>
<rect x="176.0" y="184.1" width="20.4" height="22.2" rx="0.8" fill="#fff" stroke="#505050" stroke-width="0.8"/><rect x="191.3" y="184.6" width="5.0" height="21.2" fill="#d8399d" stroke="#6c1c4e" stroke-width="0.35"/><text transform="translate(195.1,195) rotate(-90)" font-size="3.8" font-weight="bold" text-anchor="middle" fill="#fff">→p75</text><path d="M196.87 186.30L198.06 185.10L199.26 186.30L198.06 187.50Z" fill="#81225e"/><rect x="181.6" y="184" width="4" height="22" fill="url(#pMB)" stroke="#2a1208" stroke-width="0.3"/><text transform="translate(180.5,195.2) rotate(-90)" font-size="4.6" font-weight="bold" text-anchor="middle" fill="#2a2a2a" stroke="#2a2a2a" stroke-width="0.18">p4 (22)</text><text transform="translate(189.5,195) rotate(-90)" font-size="4.1" font-weight="bold" text-anchor="middle" fill="#111" stroke="#111" stroke-width="0.1">MB</text>
<rect x="176.1" y="227" width="20" height="22" fill="#fffff5" fill-opacity="0.62"/><rect x="181.6" y="227" width="4" height="22" fill="url(#pAB)" stroke="#2a1208" stroke-width="0.3"/><text transform="translate(180.5,238.2) rotate(-90)" font-size="4.6" font-weight="bold" text-anchor="middle" fill="#2a2a2a" stroke="#2a2a2a" stroke-width="0.18">p5 (0)</text><text transform="translate(189.5,238) rotate(-90)" font-size="4.1" font-weight="bold" text-anchor="middle" fill="#111" stroke="#111" stroke-width="0.1">AB</text>
<rect x="176.1" y="270" width="20" height="22" fill="#fffff5" fill-opacity="0.62"/><rect x="181.6" y="270" width="4" height="22" fill="url(#pBLAB)" stroke="#2a1208" stroke-width="0.3"/><text transform="translate(180.5,281.2) rotate(-90)" font-size="4.6" font-weight="bold" text-anchor="middle" fill="#2a2a2a" stroke="#2a2a2a" stroke-width="0.18">p6 (10)</text><text transform="translate(189.5,281) rotate(-90)" font-size="4.1" font-weight="bold" text-anchor="middle" fill="#111" stroke="#111" stroke-width="0.1">BLAB</text>
<rect x="222.6" y="55" width="20" height="22" fill="#fffff5" fill-opacity="0.62"/><rect x="228.1" y="55" width="4" height="22" fill="url(#pKB)" stroke="#2a1208" stroke-width="0.3"/><text transform="translate(227.0,66.2) rotate(-90)" font-size="4.6" font-weight="bold" text-anchor="middle" fill="#2a2a2a" stroke="#2a2a2a" stroke-width="0.18">p1 (0)</text><text transform="translate(236.0,66) rotate(-90)" font-size="4.1" font-weight="bold" text-anchor="middle" fill="#111" stroke="#111" stroke-width="0.1">KB</text>
<rect x="222.5" y="98.1" width="20.4" height="22.2" rx="0.8" fill="#fff" stroke="#505050" stroke-width="0.8"/><rect x="237.8" y="98.6" width="5.0" height="21.2" fill="#8e8ef2" stroke="#474779" stroke-width="0.35"/><text transform="translate(241.6,109) rotate(-90)" font-size="3.8" font-weight="bold" text-anchor="middle" fill="#fff">→p39</text><path d="M243.42 100.30L244.62 99.10L245.82 100.30L244.62 101.50Z" fill="#555591"/><rect x="228.1" y="98" width="4" height="22" fill="url(#pAB)" stroke="#2a1208" stroke-width="0.3"/><text transform="translate(227.0,109.2) rotate(-90)" font-size="4.6" font-weight="bold" text-anchor="middle" fill="#2a2a2a" stroke="#2a2a2a" stroke-width="0.18">p2 (43)</text><text transform="translate(236.0,109) rotate(-90)" font-size="4.1" font-weight="bold" text-anchor="middle" fill="#111" stroke="#111" stroke-width="0.1">AB</text>
<rect x="222.5" y="141.1" width="20.4" height="22.2" rx="0.8" fill="#fff" stroke="#505050" stroke-width="0.8"/><rect x="237.8" y="141.6" width="5.0" height="21.2" fill="#8e8ef2" stroke="#474779" stroke-width="0.35"/><text transform="translate(241.6,152) rotate(-90)" font-size="3.8" font-weight="bold" text-anchor="middle" fill="#fff">→p163</text><path d="M243.42 143.30L244.62 142.10L245.82 143.30L244.62 144.50Z" fill="#555591"/><rect x="228.1" y="141" width="4" height="22" fill="url(#pAB)" stroke="#2a1208" stroke-width="0.3"/><text transform="translate(227.0,152.2) rotate(-90)" font-size="4.6" font-weight="bold" text-anchor="middle" fill="#2a2a2a" stroke="#2a2a2a" stroke-width="0.18">p3 (58)</text><text transform="translate(236.0,152) rotate(-90)" font-size="4.1" font-weight="bold" text-anchor="middle" fill="#111" stroke="#111" stroke-width="0.1">AB</text>
<rect x="222.5" y="184.1" width="20.4" height="22.2" rx="0.8" fill="#fff" stroke="#505050" stroke-width="0.8"/><rect x="237.8" y="184.6" width="5.0" height="21.2" fill="#8e8ef2" stroke="#474779" stroke-width="0.35"/><text transform="translate(241.6,195) rotate(-90)" font-size="3.8" font-weight="bold" text-anchor="middle" fill="#fff">→p34</text><path d="M243.42 186.30L244.62 185.10L245.82 186.30L244.62 187.50Z" fill="#555591"/><rect x="228.1" y="184" width="4" height="22" fill="url(#pAB)" stroke="#2a1208" stroke-width="0.3"/><text transform="translate(227.0,195.2) rotate(-90)" font-size="4.6" font-weight="bold" text-anchor="middle" fill="#2a2a2a" stroke="#2a2a2a" stroke-width="0.18">p4 (45)</text><text transform="translate(236.0,195) rotate(-90)" font-size="4.1" font-weight="bold" text-anchor="middle" fill="#111" stroke="#111" stroke-width="0.1">AB</text>
<rect x="222.6" y="227" width="20" height="22" fill="#fffff5" fill-opacity="0.62"/><rect x="228.1" y="227" width="4" height="22" fill="url(#pAB)" stroke="#2a1208" stroke-width="0.3"/><text transform="translate(227.0,238.2) rotate(-90)" font-size="4.6" font-weight="bold" text-anchor="middle" fill="#2a2a2a" stroke="#2a2a2a" stroke-width="0.18">p5 (1)</text><text transform="translate(236.0,238) rotate(-90)" font-size="4.1" font-weight="bold" text-anchor="middle" fill="#111" stroke="#111" stroke-width="0.1">AB</text>
<rect x="222.5" y="270.1" width="20.4" height="22.2" rx="0.8" fill="#fff" stroke="#505050" stroke-width="0.8"/><rect x="237.8" y="270.6" width="5.0" height="21.2" fill="#8e8ef2" stroke="#474779" stroke-width="0.35"/><text transform="translate(241.6,281) rotate(-90)" font-size="3.8" font-weight="bold" text-anchor="middle" fill="#fff">→p32</text><path d="M243.42 272.30L244.62 271.10L245.82 272.30L244.62 273.50Z" fill="#555591"/><rect x="228.1" y="270" width="4" height="22" fill="url(#pBLAB)" stroke="#2a1208" stroke-width="0.3"/><text transform="translate(227.0,281.2) rotate(-90)" font-size="4.6" font-weight="bold" text-anchor="middle" fill="#2a2a2a" stroke="#2a2a2a" stroke-width="0.18">p6 (100)</text><text transform="translate(236.0,281) rotate(-90)" font-size="4.1" font-weight="bold" text-anchor="middle" fill="#111" stroke="#111" stroke-width="0.1">BLAB</text>
<rect x="269.2" y="55" width="20" height="22" fill="#fffff5" fill-opacity="0.62"/><rect x="274.7" y="55" width="4" height="22" fill="url(#pKB)" stroke="#2a1208" stroke-width="0.3"/><text transform="translate(273.6,66.2) rotate(-90)" font-size="4.6" font-weight="bold" text-anchor="middle" fill="#2a2a2a" stroke="#2a2a2a" stroke-width="0.18">p1 (0)</text><text transform="translate(282.6,66) rotate(-90)" font-size="4.1" font-weight="bold" text-anchor="middle" fill="#111" stroke="#111" stroke-width="0.1">KB</text>
<rect x="269.1" y="98.1" width="20.4" height="22.2" rx="0.8" fill="#fff" stroke="#505050" stroke-width="0.8"/><rect x="284.4" y="98.6" width="5.0" height="21.2" fill="#52d35a" stroke="#29692d" stroke-width="0.35"/><text transform="translate(288.2,109) rotate(-90)" font-size="3.8" font-weight="bold" text-anchor="middle" fill="#1a3a10">→p41</text><path d="M289.98 100.30L291.18 99.10L292.38 100.30L291.18 101.50Z" fill="#317e36"/><rect x="274.7" y="98" width="4" height="22" fill="url(#pMB)" stroke="#2a1208" stroke-width="0.3"/><text transform="translate(273.6,109.2) rotate(-90)" font-size="4.6" font-weight="bold" text-anchor="middle" fill="#2a2a2a" stroke="#2a2a2a" stroke-width="0.18">p2 (74)</text><text transform="translate(282.6,109) rotate(-90)" font-size="4.1" font-weight="bold" text-anchor="middle" fill="#111" stroke="#111" stroke-width="0.1">MB</text>
<rect x="269.1" y="141.1" width="20.4" height="22.2" rx="0.8" fill="#fff" stroke="#505050" stroke-width="0.8"/><rect x="284.4" y="141.6" width="5.0" height="21.2" fill="#52d35a" stroke="#29692d" stroke-width="0.35"/><text transform="translate(288.2,152) rotate(-90)" font-size="3.8" font-weight="bold" text-anchor="middle" fill="#1a3a10">→p73</text><path d="M289.98 143.30L291.18 142.10L292.38 143.30L291.18 144.50Z" fill="#317e36"/><rect x="274.7" y="141" width="4" height="22" fill="url(#pAB)" stroke="#2a1208" stroke-width="0.3"/><text transform="translate(273.6,152.2) rotate(-90)" font-size="4.6" font-weight="bold" text-anchor="middle" fill="#2a2a2a" stroke="#2a2a2a" stroke-width="0.18">p3 (28)</text><text transform="translate(282.6,152) rotate(-90)" font-size="4.1" font-weight="bold" text-anchor="middle" fill="#111" stroke="#111" stroke-width="0.1">AB</text>
<rect x="269.1" y="184.1" width="20.4" height="22.2" rx="0.8" fill="#fff" stroke="#505050" stroke-width="0.8"/><rect x="284.4" y="184.6" width="5.0" height="21.2" fill="#52d35a" stroke="#29692d" stroke-width="0.35"/><text transform="translate(288.2,195) rotate(-90)" font-size="3.8" font-weight="bold" text-anchor="middle" fill="#1a3a10">→p56</text><path d="M289.98 186.30L291.18 185.10L292.38 186.30L291.18 187.50Z" fill="#317e36"/><rect x="274.7" y="184" width="4" height="22" fill="url(#pMB)" stroke="#2a1208" stroke-width="0.3"/><text transform="translate(273.6,195.2) rotate(-90)" font-size="4.6" font-weight="bold" text-anchor="middle" fill="#2a2a2a" stroke="#2a2a2a" stroke-width="0.18">p4 (49)</text><text transform="translate(282.6,195) rotate(-90)" font-size="4.1" font-weight="bold" text-anchor="middle" fill="#111" stroke="#111" stroke-width="0.1">MB</text>
<rect x="269.2" y="227" width="20" height="22" fill="#fffff5" fill-opacity="0.62"/><rect x="274.7" y="227" width="4" height="22" fill="url(#pMB)" stroke="#2a1208" stroke-width="0.3"/><text transform="translate(273.6,238.2) rotate(-90)" font-size="4.6" font-weight="bold" text-anchor="middle" fill="#2a2a2a" stroke="#2a2a2a" stroke-width="0.18">p5 (0)</text><text transform="translate(282.6,238) rotate(-90)" font-size="4.1" font-weight="bold" text-anchor="middle" fill="#111" stroke="#111" stroke-width="0.1">MB</text>
<rect x="269.1" y="270.1" width="20.4" height="22.2" rx="0.8" fill="#fff" stroke="#505050" stroke-width="0.8"/><rect x="284.4" y="270.6" width="5.0" height="21.2" fill="#52d35a" stroke="#29692d" stroke-width="0.35"/><text transform="translate(288.2,281) rotate(-90)" font-size="3.8" font-weight="bold" text-anchor="middle" fill="#1a3a10">→p163</text><path d="M289.98 272.30L291.18 271.10L292.38 272.30L291.18 273.50Z" fill="#317e36"/><rect x="274.7" y="270" width="4" height="22" fill="url(#pBLAB)" stroke="#2a1208" stroke-width="0.3"/><text transform="translate(273.6,281.2) rotate(-90)" font-size="4.6" font-weight="bold" text-anchor="middle" fill="#2a2a2a" stroke="#2a2a2a" stroke-width="0.18">p6 (60)</text><text transform="translate(282.6,281) rotate(-90)" font-size="4.1" font-weight="bold" text-anchor="middle" fill="#111" stroke="#111" stroke-width="0.1">BLAB</text>
<rect x="315.6" y="55.1" width="20.4" height="22.2" rx="0.8" fill="#fff" stroke="#505050" stroke-width="0.8"/><rect x="330.9" y="55.6" width="5.0" height="21.2" fill="#4a86e8" stroke="#254374" stroke-width="0.35"/><text transform="translate(334.7,66) rotate(-90)" font-size="3.8" font-weight="bold" text-anchor="middle" fill="#fff">→p51</text><path d="M336.53 57.30L337.73 56.10L338.93 57.30L337.73 58.50Z" fill="#2c508b"/><rect x="321.2" y="55" width="4" height="22" fill="url(#pKB)" stroke="#2a1208" stroke-width="0.3"/><text transform="translate(320.1,66.2) rotate(-90)" font-size="4.6" font-weight="bold" text-anchor="middle" fill="#2a2a2a" stroke="#2a2a2a" stroke-width="0.18">p1 (63)</text><text transform="translate(329.1,66) rotate(-90)" font-size="4.1" font-weight="bold" text-anchor="middle" fill="#111" stroke="#111" stroke-width="0.1">KB</text>
<rect x="315.6" y="98.1" width="20.4" height="22.2" rx="0.8" fill="#fff" stroke="#505050" stroke-width="0.8"/><rect x="330.9" y="98.6" width="5.0" height="21.2" fill="#4a86e8" stroke="#254374" stroke-width="0.35"/><text transform="translate(334.7,109) rotate(-90)" font-size="3.8" font-weight="bold" text-anchor="middle" fill="#fff">→p75</text><path d="M336.53 100.30L337.73 99.10L338.93 100.30L337.73 101.50Z" fill="#2c508b"/><rect x="321.2" y="98" width="4" height="22" fill="url(#pMB)" stroke="#2a1208" stroke-width="0.3"/><text transform="translate(320.1,109.2) rotate(-90)" font-size="4.6" font-weight="bold" text-anchor="middle" fill="#2a2a2a" stroke="#2a2a2a" stroke-width="0.18">p2 (90)</text><text transform="translate(329.1,109) rotate(-90)" font-size="4.1" font-weight="bold" text-anchor="middle" fill="#111" stroke="#111" stroke-width="0.1">MB</text>
<rect x="315.7" y="141" width="20" height="22" fill="#fffff5" fill-opacity="0.62"/><rect x="321.2" y="141" width="4" height="22" fill="url(#pAB)" stroke="#2a1208" stroke-width="0.3"/><text transform="translate(320.1,152.2) rotate(-90)" font-size="4.6" font-weight="bold" text-anchor="middle" fill="#2a2a2a" stroke="#2a2a2a" stroke-width="0.18">p3 (18)</text><text transform="translate(329.1,152) rotate(-90)" font-size="4.1" font-weight="bold" text-anchor="middle" fill="#111" stroke="#111" stroke-width="0.1">AB</text>
<rect x="315.7" y="184" width="20" height="22" fill="#fffff5" fill-opacity="0.62"/><rect x="321.2" y="184" width="4" height="22" fill="url(#pAB)" stroke="#2a1208" stroke-width="0.3"/><text transform="translate(320.1,195.2) rotate(-90)" font-size="4.6" font-weight="bold" text-anchor="middle" fill="#2a2a2a" stroke="#2a2a2a" stroke-width="0.18">p4 (38)</text><text transform="translate(329.1,195) rotate(-90)" font-size="4.1" font-weight="bold" text-anchor="middle" fill="#111" stroke="#111" stroke-width="0.1">AB</text>
<rect x="315.7" y="227" width="20" height="22" fill="#fffff5" fill-opacity="0.62"/><rect x="321.2" y="227" width="4" height="22" fill="url(#pAB)" stroke="#2a1208" stroke-width="0.3"/><text transform="translate(320.1,238.2) rotate(-90)" font-size="4.6" font-weight="bold" text-anchor="middle" fill="#2a2a2a" stroke="#2a2a2a" stroke-width="0.18">p5 (15)</text><text transform="translate(329.1,238) rotate(-90)" font-size="4.1" font-weight="bold" text-anchor="middle" fill="#111" stroke="#111" stroke-width="0.1">AB</text>
<rect x="315.6" y="270.1" width="20.4" height="22.2" rx="0.8" fill="#fff" stroke="#505050" stroke-width="0.8"/><rect x="330.9" y="270.6" width="5.0" height="21.2" fill="#4a86e8" stroke="#254374" stroke-width="0.35"/><text transform="translate(334.7,281) rotate(-90)" font-size="3.8" font-weight="bold" text-anchor="middle" fill="#fff">→p40</text><path d="M336.53 272.30L337.73 271.10L338.93 272.30L337.73 273.50Z" fill="#2c508b"/><rect x="321.2" y="270" width="4" height="22" fill="url(#pBLAB)" stroke="#2a1208" stroke-width="0.3"/><text transform="translate(320.1,281.2) rotate(-90)" font-size="4.6" font-weight="bold" text-anchor="middle" fill="#2a2a2a" stroke="#2a2a2a" stroke-width="0.18">p6 (140)</text><text transform="translate(329.1,281) rotate(-90)" font-size="4.1" font-weight="bold" text-anchor="middle" fill="#111" stroke="#111" stroke-width="0.1">BLAB</text>
<rect x="362.3" y="55" width="20" height="22" fill="#fffff5" fill-opacity="0.62"/><rect x="367.8" y="55" width="4" height="22" fill="url(#pKB)" stroke="#2a1208" stroke-width="0.3"/><text transform="translate(366.7,66.2) rotate(-90)" font-size="4.6" font-weight="bold" text-anchor="middle" fill="#2a2a2a" stroke="#2a2a2a" stroke-width="0.18">p1 (0)</text><text transform="translate(375.7,66) rotate(-90)" font-size="4.1" font-weight="bold" text-anchor="middle" fill="#111" stroke="#111" stroke-width="0.1">KB</text>
<rect x="362.2" y="98.1" width="20.4" height="22.2" rx="0.8" fill="#fff" stroke="#505050" stroke-width="0.8"/><rect x="377.5" y="98.6" width="5.0" height="21.2" fill="#7d4fc1" stroke="#3e2760" stroke-width="0.35"/><text transform="translate(381.3,109) rotate(-90)" font-size="3.8" font-weight="bold" text-anchor="middle" fill="#fff">→p45</text><path d="M383.08 100.30L384.28 99.10L385.48 100.30L384.28 101.50Z" fill="#4b2f73"/><rect x="367.8" y="98" width="4" height="22" fill="url(#pMB)" stroke="#2a1208" stroke-width="0.3"/><text transform="translate(366.7,109.2) rotate(-90)" font-size="4.6" font-weight="bold" text-anchor="middle" fill="#2a2a2a" stroke="#2a2a2a" stroke-width="0.18">p2 (73)</text><text transform="translate(375.7,109) rotate(-90)" font-size="4.1" font-weight="bold" text-anchor="middle" fill="#111" stroke="#111" stroke-width="0.1">MB</text>
<rect x="362.3" y="141" width="20" height="22" fill="#fffff5" fill-opacity="0.62"/><rect x="367.8" y="141" width="4" height="22" fill="url(#pAB)" stroke="#2a1208" stroke-width="0.3"/><text transform="translate(366.7,152.2) rotate(-90)" font-size="4.6" font-weight="bold" text-anchor="middle" fill="#2a2a2a" stroke="#2a2a2a" stroke-width="0.18">p3 (18)</text><text transform="translate(375.7,152) rotate(-90)" font-size="4.1" font-weight="bold" text-anchor="middle" fill="#111" stroke="#111" stroke-width="0.1">AB</text>
<rect x="362.3" y="184" width="20" height="22" fill="#fffff5" fill-opacity="0.62"/><rect x="367.8" y="184" width="4" height="22" fill="url(#pMB)" stroke="#2a1208" stroke-width="0.3"/><text transform="translate(366.7,195.2) rotate(-90)" font-size="4.6" font-weight="bold" text-anchor="middle" fill="#2a2a2a" stroke="#2a2a2a" stroke-width="0.18">p4 (25)</text><text transform="translate(375.7,195) rotate(-90)" font-size="4.1" font-weight="bold" text-anchor="middle" fill="#111" stroke="#111" stroke-width="0.1">MB</text>
<rect x="362.3" y="227" width="20" height="22" fill="#fffff5" fill-opacity="0.62"/><rect x="367.8" y="227" width="4" height="22" fill="url(#pAB)" stroke="#2a1208" stroke-width="0.3"/><text transform="translate(366.7,238.2) rotate(-90)" font-size="4.6" font-weight="bold" text-anchor="middle" fill="#2a2a2a" stroke="#2a2a2a" stroke-width="0.18">p5 (4)</text><text transform="translate(375.7,238) rotate(-90)" font-size="4.1" font-weight="bold" text-anchor="middle" fill="#111" stroke="#111" stroke-width="0.1">AB</text>
<rect x="362.2" y="270.1" width="20.4" height="22.2" rx="0.8" fill="#fff" stroke="#505050" stroke-width="0.8"/><rect x="377.5" y="270.6" width="5.0" height="21.2" fill="#7d4fc1" stroke="#3e2760" stroke-width="0.35"/><text transform="translate(381.3,281) rotate(-90)" font-size="3.8" font-weight="bold" text-anchor="middle" fill="#fff">→p53</text><path d="M383.08 272.30L384.28 271.10L385.48 272.30L384.28 273.50Z" fill="#4b2f73"/><rect x="367.8" y="270" width="4" height="22" fill="url(#pABPB)" stroke="#2a1208" stroke-width="0.3"/><text transform="translate(366.7,281.2) rotate(-90)" font-size="4.6" font-weight="bold" text-anchor="middle" fill="#2a2a2a" stroke="#2a2a2a" stroke-width="0.18">p6 (40)</text><text transform="translate(375.7,281) rotate(-90)" font-size="4.1" font-weight="bold" text-anchor="middle" fill="#111" stroke="#111" stroke-width="0.1">ABPB</text>
<rect x="408.8" y="55" width="20" height="22" fill="#fffff5" fill-opacity="0.62"/><rect x="414.3" y="55" width="4" height="22" fill="url(#pBL)" stroke="#2a1208" stroke-width="0.3"/><text transform="translate(413.2,66.2) rotate(-90)" font-size="4.6" font-weight="bold" text-anchor="middle" fill="#2a2a2a" stroke="#2a2a2a" stroke-width="0.18">p1 (0)</text><text transform="translate(422.2,66) rotate(-90)" font-size="4.1" font-weight="bold" text-anchor="middle" fill="#111" stroke="#111" stroke-width="0.1">BL</text>
<rect x="408.8" y="98" width="20" height="22" fill="#fffff5" fill-opacity="0.62"/><rect x="414.3" y="98" width="4" height="22" fill="url(#pMB)" stroke="#2a1208" stroke-width="0.3"/><text transform="translate(413.2,109.2) rotate(-90)" font-size="4.6" font-weight="bold" text-anchor="middle" fill="#2a2a2a" stroke="#2a2a2a" stroke-width="0.18">p2 (0)</text><text transform="translate(422.2,109) rotate(-90)" font-size="4.1" font-weight="bold" text-anchor="middle" fill="#111" stroke="#111" stroke-width="0.1">MB</text>
<rect x="408.8" y="141" width="20" height="22" fill="#fffff5" fill-opacity="0.62"/><rect x="414.3" y="141" width="4" height="22" fill="url(#pMB)" stroke="#2a1208" stroke-width="0.3"/><text transform="translate(413.2,152.2) rotate(-90)" font-size="4.6" font-weight="bold" text-anchor="middle" fill="#2a2a2a" stroke="#2a2a2a" stroke-width="0.18">p3 (100)</text><text transform="translate(422.2,152) rotate(-90)" font-size="4.1" font-weight="bold" text-anchor="middle" fill="#111" stroke="#111" stroke-width="0.1">MB</text>
<rect x="408.8" y="184" width="20" height="22" fill="#fffff5" fill-opacity="0.62"/><rect x="414.3" y="184" width="4" height="22" fill="url(#pAB)" stroke="#2a1208" stroke-width="0.3"/><text transform="translate(413.2,195.2) rotate(-90)" font-size="4.6" font-weight="bold" text-anchor="middle" fill="#2a2a2a" stroke="#2a2a2a" stroke-width="0.18">p4 (3)</text><text transform="translate(422.2,195) rotate(-90)" font-size="4.1" font-weight="bold" text-anchor="middle" fill="#111" stroke="#111" stroke-width="0.1">AB</text>
<rect x="408.8" y="227" width="20" height="22" fill="#fffff5" fill-opacity="0.62"/><rect x="414.3" y="227" width="4" height="22" fill="url(#pMB)" stroke="#2a1208" stroke-width="0.3"/><text transform="translate(413.2,238.2) rotate(-90)" font-size="4.6" font-weight="bold" text-anchor="middle" fill="#2a2a2a" stroke="#2a2a2a" stroke-width="0.18">p5 (32)</text><text transform="translate(422.2,238) rotate(-90)" font-size="4.1" font-weight="bold" text-anchor="middle" fill="#111" stroke="#111" stroke-width="0.1">MB</text>
<rect x="408.8" y="270" width="20" height="22" fill="#fffff5" fill-opacity="0.62"/><rect x="414.3" y="270" width="4" height="22" fill="url(#pABMB)" stroke="#2a1208" stroke-width="0.3"/><text transform="translate(413.2,281.2) rotate(-90)" font-size="4.6" font-weight="bold" text-anchor="middle" fill="#2a2a2a" stroke="#2a2a2a" stroke-width="0.18">p6 (8)</text><text transform="translate(422.2,281) rotate(-90)" font-size="4.1" font-weight="bold" text-anchor="middle" fill="#111" stroke="#111" stroke-width="0.1">ABMB</text>
<rect x="408.8" y="313" width="20" height="22" fill="#fffff5" fill-opacity="0.62"/><rect x="414.3" y="313" width="4" height="22" fill="url(#pABMB)" stroke="#2a1208" stroke-width="0.3"/><text transform="translate(413.2,324.2) rotate(-90)" font-size="4.6" font-weight="bold" text-anchor="middle" fill="#2a2a2a" stroke="#2a2a2a" stroke-width="0.18">p7 (0)</text><text transform="translate(422.2,324) rotate(-90)" font-size="4.1" font-weight="bold" text-anchor="middle" fill="#111" stroke="#111" stroke-width="0.1">ABMB</text>
<rect x="455.4" y="55" width="20" height="22" fill="#fffff5" fill-opacity="0.62"/><rect x="460.9" y="55" width="4" height="22" fill="url(#pKB)" stroke="#2a1208" stroke-width="0.3"/><text transform="translate(459.8,66.2) rotate(-90)" font-size="4.6" font-weight="bold" text-anchor="middle" fill="#2a2a2a" stroke="#2a2a2a" stroke-width="0.18">p1 (0)</text><text transform="translate(468.8,66) rotate(-90)" font-size="4.1" font-weight="bold" text-anchor="middle" fill="#111" stroke="#111" stroke-width="0.1">KB</text>
<rect x="455.4" y="98" width="20" height="22" fill="#fffff5" fill-opacity="0.62"/><rect x="460.9" y="98" width="4" height="22" fill="url(#pAB)" stroke="#2a1208" stroke-width="0.3"/><text transform="translate(459.8,109.2) rotate(-90)" font-size="4.6" font-weight="bold" text-anchor="middle" fill="#2a2a2a" stroke="#2a2a2a" stroke-width="0.18">p2 (33)</text><text transform="translate(468.8,109) rotate(-90)" font-size="4.1" font-weight="bold" text-anchor="middle" fill="#111" stroke="#111" stroke-width="0.1">AB</text>
<rect x="455.3" y="141.1" width="20.4" height="22.2" rx="0.8" fill="#fff" stroke="#505050" stroke-width="0.8"/><rect x="470.6" y="141.6" width="5.0" height="21.2" fill="#db7a2c" stroke="#6d3d16" stroke-width="0.35"/><text transform="translate(474.4,152) rotate(-90)" font-size="3.8" font-weight="bold" text-anchor="middle" fill="#fff">→p71</text><path d="M476.19 143.30L477.39 142.10L478.59 143.30L477.39 144.50Z" fill="#83491a"/><rect x="460.9" y="141" width="4" height="22" fill="url(#pAB)" stroke="#2a1208" stroke-width="0.3"/><text transform="translate(459.8,152.2) rotate(-90)" font-size="4.6" font-weight="bold" text-anchor="middle" fill="#2a2a2a" stroke="#2a2a2a" stroke-width="0.18">p3 (32)</text><text transform="translate(468.8,152) rotate(-90)" font-size="4.1" font-weight="bold" text-anchor="middle" fill="#111" stroke="#111" stroke-width="0.1">AB</text>
<rect x="455.4" y="184" width="20" height="22" fill="#fffff5" fill-opacity="0.62"/><rect x="460.9" y="184" width="4" height="22" fill="url(#pMB)" stroke="#2a1208" stroke-width="0.3"/><text transform="translate(459.8,195.2) rotate(-90)" font-size="4.6" font-weight="bold" text-anchor="middle" fill="#2a2a2a" stroke="#2a2a2a" stroke-width="0.18">p4 (39)</text><text transform="translate(468.8,195) rotate(-90)" font-size="4.1" font-weight="bold" text-anchor="middle" fill="#111" stroke="#111" stroke-width="0.1">MB</text>
<rect x="455.4" y="227" width="20" height="22" fill="#fffff5" fill-opacity="0.62"/><rect x="460.9" y="227" width="4" height="22" fill="url(#pABMB)" stroke="#2a1208" stroke-width="0.3"/><text transform="translate(459.8,238.2) rotate(-90)" font-size="4.6" font-weight="bold" text-anchor="middle" fill="#2a2a2a" stroke="#2a2a2a" stroke-width="0.18">p5 (1)</text><text transform="translate(468.8,238) rotate(-90)" font-size="4.1" font-weight="bold" text-anchor="middle" fill="#111" stroke="#111" stroke-width="0.1">ABMB</text>
<rect x="455.4" y="270" width="20" height="22" fill="#fffff5" fill-opacity="0.62"/><rect x="460.9" y="270" width="4" height="22" fill="url(#pBLAB)" stroke="#2a1208" stroke-width="0.3"/><text transform="translate(459.8,281.2) rotate(-90)" font-size="4.6" font-weight="bold" text-anchor="middle" fill="#2a2a2a" stroke="#2a2a2a" stroke-width="0.18">p6 (100)</text><text transform="translate(468.8,281) rotate(-90)" font-size="4.1" font-weight="bold" text-anchor="middle" fill="#111" stroke="#111" stroke-width="0.1">BLAB</text>
<rect x="501.8" y="55.1" width="20.4" height="22.2" rx="0.8" fill="#fff" stroke="#505050" stroke-width="0.8"/><rect x="517.1" y="55.6" width="5.0" height="21.2" fill="#438f6e" stroke="#214737" stroke-width="0.35"/><text transform="translate(521.0,66) rotate(-90)" font-size="3.8" font-weight="bold" text-anchor="middle" fill="#fff">→p96</text><path d="M522.75 57.30L523.95 56.10L525.15 57.30L523.95 58.50Z" fill="#285542"/><rect x="507.4" y="55" width="4" height="22" fill="url(#pMB)" stroke="#2a1208" stroke-width="0.3"/><text transform="translate(506.3,66.2) rotate(-90)" font-size="4.6" font-weight="bold" text-anchor="middle" fill="#2a2a2a" stroke="#2a2a2a" stroke-width="0.18">p1 (44)</text><text transform="translate(515.4,66) rotate(-90)" font-size="4.1" font-weight="bold" text-anchor="middle" fill="#111" stroke="#111" stroke-width="0.1">MB</text>
<rect x="501.9" y="98" width="20" height="22" fill="#fffff5" fill-opacity="0.62"/><rect x="507.4" y="98" width="4" height="22" fill="url(#pAB)" stroke="#2a1208" stroke-width="0.3"/><text transform="translate(506.3,109.2) rotate(-90)" font-size="4.6" font-weight="bold" text-anchor="middle" fill="#2a2a2a" stroke="#2a2a2a" stroke-width="0.18">p2 (1)</text><text transform="translate(515.4,109) rotate(-90)" font-size="4.1" font-weight="bold" text-anchor="middle" fill="#111" stroke="#111" stroke-width="0.1">AB</text>
<rect x="501.8" y="141.1" width="20.4" height="22.2" rx="0.8" fill="#fff" stroke="#505050" stroke-width="0.8"/><rect x="517.1" y="141.6" width="5.0" height="21.2" fill="#438f6e" stroke="#214737" stroke-width="0.35"/><text transform="translate(521.0,152) rotate(-90)" font-size="3.8" font-weight="bold" text-anchor="middle" fill="#fff">→p76</text><path d="M522.75 143.30L523.95 142.10L525.15 143.30L523.95 144.50Z" fill="#285542"/><rect x="507.4" y="141" width="4" height="22" fill="url(#pMB)" stroke="#2a1208" stroke-width="0.3"/><text transform="translate(506.3,152.2) rotate(-90)" font-size="4.6" font-weight="bold" text-anchor="middle" fill="#2a2a2a" stroke="#2a2a2a" stroke-width="0.18">p3 (11)</text><text transform="translate(515.4,152) rotate(-90)" font-size="4.1" font-weight="bold" text-anchor="middle" fill="#111" stroke="#111" stroke-width="0.1">MB</text>
<rect x="501.9" y="184" width="20" height="22" fill="#fffff5" fill-opacity="0.62"/><rect x="507.4" y="184" width="4" height="22" fill="url(#pABMB)" stroke="#2a1208" stroke-width="0.3"/><text transform="translate(506.3,195.2) rotate(-90)" font-size="4.6" font-weight="bold" text-anchor="middle" fill="#2a2a2a" stroke="#2a2a2a" stroke-width="0.18">p4 (15)</text><text transform="translate(515.4,195) rotate(-90)" font-size="4.1" font-weight="bold" text-anchor="middle" fill="#111" stroke="#111" stroke-width="0.1">ABMB</text>
<rect x="501.8" y="227.1" width="20.4" height="22.2" rx="0.8" fill="#fff" stroke="#505050" stroke-width="0.8"/><rect x="517.1" y="227.6" width="5.0" height="21.2" fill="#438f6e" stroke="#214737" stroke-width="0.35"/><text transform="translate(521.0,238) rotate(-90)" font-size="3.8" font-weight="bold" text-anchor="middle" fill="#fff">→p66</text><path d="M522.75 229.30L523.95 228.10L525.15 229.30L523.95 230.50Z" fill="#285542"/><rect x="507.4" y="227" width="4" height="22" fill="url(#pBLAB)" stroke="#2a1208" stroke-width="0.3"/><text transform="translate(506.3,238.2) rotate(-90)" font-size="4.6" font-weight="bold" text-anchor="middle" fill="#2a2a2a" stroke="#2a2a2a" stroke-width="0.18">p5 (100)</text><text transform="translate(515.4,238) rotate(-90)" font-size="4.1" font-weight="bold" text-anchor="middle" fill="#111" stroke="#111" stroke-width="0.1">BLAB</text>
<rect x="548.5" y="55" width="20" height="22" fill="#fffff5" fill-opacity="0.62"/><rect x="554.0" y="55" width="4" height="22" fill="url(#pKB)" stroke="#2a1208" stroke-width="0.3"/><text transform="translate(552.9,66.2) rotate(-90)" font-size="4.6" font-weight="bold" text-anchor="middle" fill="#2a2a2a" stroke="#2a2a2a" stroke-width="0.18">p1 (100)</text><text transform="translate(561.9,66) rotate(-90)" font-size="4.1" font-weight="bold" text-anchor="middle" fill="#111" stroke="#111" stroke-width="0.1">KB</text>
<rect x="548.4" y="98.1" width="20.4" height="22.2" rx="0.8" fill="#fff" stroke="#505050" stroke-width="0.8"/><rect x="563.7" y="98.6" width="5.0" height="21.2" fill="#9ade55" stroke="#4d6f2a" stroke-width="0.35"/><text transform="translate(567.5,109) rotate(-90)" font-size="3.8" font-weight="bold" text-anchor="middle" fill="#1a3a10">→p101</text><path d="M569.30 100.30L570.50 99.10L571.71 100.30L570.50 101.50Z" fill="#5c8533"/><rect x="554.0" y="98" width="4" height="22" fill="url(#pMB)" stroke="#2a1208" stroke-width="0.3"/><text transform="translate(552.9,109.2) rotate(-90)" font-size="4.6" font-weight="bold" text-anchor="middle" fill="#2a2a2a" stroke="#2a2a2a" stroke-width="0.18">p2 (48)</text><text transform="translate(561.9,109) rotate(-90)" font-size="4.1" font-weight="bold" text-anchor="middle" fill="#111" stroke="#111" stroke-width="0.1">MB</text>
<rect x="548.5" y="141" width="20" height="22" fill="#fffff5" fill-opacity="0.62"/><rect x="554.0" y="141" width="4" height="22" fill="url(#pAB)" stroke="#2a1208" stroke-width="0.3"/><text transform="translate(552.9,152.2) rotate(-90)" font-size="4.6" font-weight="bold" text-anchor="middle" fill="#2a2a2a" stroke="#2a2a2a" stroke-width="0.18">p3 (1)</text><text transform="translate(561.9,152) rotate(-90)" font-size="4.1" font-weight="bold" text-anchor="middle" fill="#111" stroke="#111" stroke-width="0.1">AB</text>
<rect x="548.4" y="184.1" width="20.4" height="22.2" rx="0.8" fill="#fff" stroke="#505050" stroke-width="0.8"/><rect x="563.7" y="184.6" width="5.0" height="21.2" fill="#9ade55" stroke="#4d6f2a" stroke-width="0.35"/><text transform="translate(567.5,195) rotate(-90)" font-size="3.8" font-weight="bold" text-anchor="middle" fill="#1a3a10">→p75</text><path d="M569.30 186.30L570.50 185.10L571.71 186.30L570.50 187.50Z" fill="#5c8533"/><rect x="554.0" y="184" width="4" height="22" fill="url(#pAB)" stroke="#2a1208" stroke-width="0.3"/><text transform="translate(552.9,195.2) rotate(-90)" font-size="4.6" font-weight="bold" text-anchor="middle" fill="#2a2a2a" stroke="#2a2a2a" stroke-width="0.18">p4 (33)</text><text transform="translate(561.9,195) rotate(-90)" font-size="4.1" font-weight="bold" text-anchor="middle" fill="#111" stroke="#111" stroke-width="0.1">AB</text>
<rect x="548.5" y="227" width="20" height="22" fill="#fffff5" fill-opacity="0.62"/><rect x="554.0" y="227" width="4" height="22" fill="url(#pAB)" stroke="#2a1208" stroke-width="0.3"/><text transform="translate(552.9,238.2) rotate(-90)" font-size="4.6" font-weight="bold" text-anchor="middle" fill="#2a2a2a" stroke="#2a2a2a" stroke-width="0.18">p5 (14)</text><text transform="translate(561.9,238) rotate(-90)" font-size="4.1" font-weight="bold" text-anchor="middle" fill="#111" stroke="#111" stroke-width="0.1">AB</text>
<rect x="548.4" y="270.1" width="20.4" height="22.2" rx="0.8" fill="#fff" stroke="#505050" stroke-width="0.8"/><rect x="563.7" y="270.6" width="5.0" height="21.2" fill="#9ade55" stroke="#4d6f2a" stroke-width="0.35"/><text transform="translate(567.5,281) rotate(-90)" font-size="3.8" font-weight="bold" text-anchor="middle" fill="#1a3a10">→p70</text><path d="M569.30 272.30L570.50 271.10L571.71 272.30L570.50 273.50Z" fill="#5c8533"/><rect x="554.0" y="270" width="4" height="22" fill="url(#pBLAB)" stroke="#2a1208" stroke-width="0.3"/><text transform="translate(552.9,281.2) rotate(-90)" font-size="4.6" font-weight="bold" text-anchor="middle" fill="#2a2a2a" stroke="#2a2a2a" stroke-width="0.18">p6 (100)</text><text transform="translate(561.9,281) rotate(-90)" font-size="4.1" font-weight="bold" text-anchor="middle" fill="#111" stroke="#111" stroke-width="0.1">BLAB</text>
<rect x="548.5" y="313" width="20" height="22" fill="#fffff5" fill-opacity="0.62"/><rect x="554.0" y="313" width="4" height="22" fill="url(#pKB)" stroke="#2a1208" stroke-width="0.3"/><text transform="translate(552.9,324.2) rotate(-90)" font-size="4.6" font-weight="bold" text-anchor="middle" fill="#2a2a2a" stroke="#2a2a2a" stroke-width="0.18">p7 (28)</text><text transform="translate(561.9,324) rotate(-90)" font-size="4.1" font-weight="bold" text-anchor="middle" fill="#111" stroke="#111" stroke-width="0.1">KB</text>
<rect x="595.0" y="55.1" width="20.4" height="22.2" rx="0.8" fill="#fff" stroke="#505050" stroke-width="0.8"/><rect x="610.3" y="55.6" width="5.0" height="21.2" fill="#45bfc9" stroke="#225f64" stroke-width="0.35"/><text transform="translate(614.1,66) rotate(-90)" font-size="3.8" font-weight="bold" text-anchor="middle" fill="#fff">→p80</text><path d="M615.86 57.30L617.06 56.10L618.26 57.30L617.06 58.50Z" fill="#297278"/><rect x="600.6" y="55" width="4" height="22" fill="url(#pAB)" stroke="#2a1208" stroke-width="0.3"/><text transform="translate(599.5,66.2) rotate(-90)" font-size="4.6" font-weight="bold" text-anchor="middle" fill="#2a2a2a" stroke="#2a2a2a" stroke-width="0.18">p1 (132)</text><text transform="translate(608.5,66) rotate(-90)" font-size="4.1" font-weight="bold" text-anchor="middle" fill="#111" stroke="#111" stroke-width="0.1">AB</text>
<rect x="595.1" y="98" width="20" height="22" fill="#fffff5" fill-opacity="0.62"/><rect x="600.6" y="98" width="4" height="22" fill="url(#pAB)" stroke="#2a1208" stroke-width="0.3"/><text transform="translate(599.5,109.2) rotate(-90)" font-size="4.6" font-weight="bold" text-anchor="middle" fill="#2a2a2a" stroke="#2a2a2a" stroke-width="0.18">p2 (4)</text><text transform="translate(608.5,109) rotate(-90)" font-size="4.1" font-weight="bold" text-anchor="middle" fill="#111" stroke="#111" stroke-width="0.1">AB</text>
<rect x="595.0" y="141.1" width="20.4" height="22.2" rx="0.8" fill="#fff" stroke="#505050" stroke-width="0.8"/><rect x="610.3" y="141.6" width="5.0" height="21.2" fill="#45bfc9" stroke="#225f64" stroke-width="0.35"/><text transform="translate(614.1,152) rotate(-90)" font-size="3.8" font-weight="bold" text-anchor="middle" fill="#fff">→p73</text><path d="M615.86 143.30L617.06 142.10L618.26 143.30L617.06 144.50Z" fill="#297278"/><rect x="600.6" y="141" width="4" height="22" fill="url(#pMB)" stroke="#2a1208" stroke-width="0.3"/><text transform="translate(599.5,152.2) rotate(-90)" font-size="4.6" font-weight="bold" text-anchor="middle" fill="#2a2a2a" stroke="#2a2a2a" stroke-width="0.18">p3 (16)</text><text transform="translate(608.5,152) rotate(-90)" font-size="4.1" font-weight="bold" text-anchor="middle" fill="#111" stroke="#111" stroke-width="0.1">MB</text>
<rect x="595.1" y="184" width="20" height="22" fill="#fffff5" fill-opacity="0.62"/><rect x="600.6" y="184" width="4" height="22" fill="url(#pABMB)" stroke="#2a1208" stroke-width="0.3"/><text transform="translate(599.5,195.2) rotate(-90)" font-size="4.6" font-weight="bold" text-anchor="middle" fill="#2a2a2a" stroke="#2a2a2a" stroke-width="0.18">p4 (4)</text><text transform="translate(608.5,195) rotate(-90)" font-size="4.1" font-weight="bold" text-anchor="middle" fill="#111" stroke="#111" stroke-width="0.1">ABMB</text>
<rect x="595.1" y="227" width="20" height="22" fill="#fffff5" fill-opacity="0.62"/><rect x="600.6" y="227" width="4" height="22" fill="url(#pABGL)" stroke="#2a1208" stroke-width="0.3"/><text transform="translate(599.5,238.2) rotate(-90)" font-size="4.6" font-weight="bold" text-anchor="middle" fill="#2a2a2a" stroke="#2a2a2a" stroke-width="0.18">p5 (8)</text><text transform="translate(608.5,238) rotate(-90)" font-size="4.1" font-weight="bold" text-anchor="middle" fill="#111" stroke="#111" stroke-width="0.1">ABGL</text>
<rect x="641.6" y="55" width="20" height="22" fill="#fffff5" fill-opacity="0.62"/><rect x="647.1" y="55" width="4" height="22" fill="url(#pMB)" stroke="#2a1208" stroke-width="0.3"/><text transform="translate(646.0,66.2) rotate(-90)" font-size="4.6" font-weight="bold" text-anchor="middle" fill="#2a2a2a" stroke="#2a2a2a" stroke-width="0.18">p1 (0)</text><text transform="translate(655.0,66) rotate(-90)" font-size="4.1" font-weight="bold" text-anchor="middle" fill="#111" stroke="#111" stroke-width="0.1">MB</text>
<rect x="641.6" y="98" width="20" height="22" fill="#fffff5" fill-opacity="0.62"/><rect x="647.1" y="98" width="4" height="22" fill="url(#pAB)" stroke="#2a1208" stroke-width="0.3"/><text transform="translate(646.0,109.2) rotate(-90)" font-size="4.6" font-weight="bold" text-anchor="middle" fill="#2a2a2a" stroke="#2a2a2a" stroke-width="0.18">p2 (0)</text><text transform="translate(655.0,109) rotate(-90)" font-size="4.1" font-weight="bold" text-anchor="middle" fill="#111" stroke="#111" stroke-width="0.1">AB</text>
<rect x="641.5" y="141.1" width="20.4" height="22.2" rx="0.8" fill="#fff" stroke="#505050" stroke-width="0.8"/><rect x="656.8" y="141.6" width="5.0" height="21.2" fill="#5b55da" stroke="#2d2a6d" stroke-width="0.35"/><text transform="translate(660.6,152) rotate(-90)" font-size="3.8" font-weight="bold" text-anchor="middle" fill="#fff">→p90</text><path d="M662.41 143.30L663.62 142.10L664.82 143.30L663.62 144.50Z" fill="#363382"/><rect x="647.1" y="141" width="4" height="22" fill="url(#pAB)" stroke="#2a1208" stroke-width="0.3"/><text transform="translate(646.0,152.2) rotate(-90)" font-size="4.6" font-weight="bold" text-anchor="middle" fill="#2a2a2a" stroke="#2a2a2a" stroke-width="0.18">p3 (20)</text><text transform="translate(655.0,152) rotate(-90)" font-size="4.1" font-weight="bold" text-anchor="middle" fill="#111" stroke="#111" stroke-width="0.1">AB</text>
<rect x="641.6" y="184" width="20" height="22" fill="#fffff5" fill-opacity="0.62"/><rect x="647.1" y="184" width="4" height="22" fill="url(#pABMB)" stroke="#2a1208" stroke-width="0.3"/><text transform="translate(646.0,195.2) rotate(-90)" font-size="4.6" font-weight="bold" text-anchor="middle" fill="#2a2a2a" stroke="#2a2a2a" stroke-width="0.18">p4 (2)</text><text transform="translate(655.0,195) rotate(-90)" font-size="4.1" font-weight="bold" text-anchor="middle" fill="#111" stroke="#111" stroke-width="0.1">ABMB</text>
<rect x="641.5" y="227.1" width="20.4" height="22.2" rx="0.8" fill="#fff" stroke="#505050" stroke-width="0.8"/><rect x="656.8" y="227.6" width="5.0" height="21.2" fill="#5b55da" stroke="#2d2a6d" stroke-width="0.35"/><text transform="translate(660.6,238) rotate(-90)" font-size="3.8" font-weight="bold" text-anchor="middle" fill="#fff">→p128</text><path d="M662.41 229.30L663.62 228.10L664.82 229.30L663.62 230.50Z" fill="#363382"/><rect x="647.1" y="227" width="4" height="22" fill="url(#pBLAB)" stroke="#2a1208" stroke-width="0.3"/><text transform="translate(646.0,238.2) rotate(-90)" font-size="4.6" font-weight="bold" text-anchor="middle" fill="#2a2a2a" stroke="#2a2a2a" stroke-width="0.18">p5 (29)</text><text transform="translate(655.0,238) rotate(-90)" font-size="4.1" font-weight="bold" text-anchor="middle" fill="#111" stroke="#111" stroke-width="0.1">BLAB</text>
<rect x="688.2" y="55" width="20" height="22" fill="#fffff5" fill-opacity="0.62"/><rect x="693.7" y="55" width="4" height="22" fill="url(#pMB)" stroke="#2a1208" stroke-width="0.3"/><text transform="translate(692.6,66.2) rotate(-90)" font-size="4.6" font-weight="bold" text-anchor="middle" fill="#2a2a2a" stroke="#2a2a2a" stroke-width="0.18">p1 (0)</text><text transform="translate(701.6,66) rotate(-90)" font-size="4.1" font-weight="bold" text-anchor="middle" fill="#111" stroke="#111" stroke-width="0.1">MB</text>
<rect x="688.1" y="98.1" width="20.4" height="22.2" rx="0.8" fill="#fff" stroke="#505050" stroke-width="0.8"/><rect x="703.4" y="98.6" width="5.0" height="21.2" fill="#db7a2c" stroke="#6d3d16" stroke-width="0.35"/><text transform="translate(707.2,109) rotate(-90)" font-size="3.8" font-weight="bold" text-anchor="middle" fill="#fff">→p102</text><path d="M708.97 100.30L710.17 99.10L711.37 100.30L710.17 101.50Z" fill="#83491a"/><rect x="693.7" y="98" width="4" height="22" fill="url(#pAB)" stroke="#2a1208" stroke-width="0.3"/><text transform="translate(692.6,109.2) rotate(-90)" font-size="4.6" font-weight="bold" text-anchor="middle" fill="#2a2a2a" stroke="#2a2a2a" stroke-width="0.18">p2 (19)</text><text transform="translate(701.6,109) rotate(-90)" font-size="4.1" font-weight="bold" text-anchor="middle" fill="#111" stroke="#111" stroke-width="0.1">AB</text>
<rect x="688.2" y="141" width="20" height="22" fill="#fffff5" fill-opacity="0.62"/><rect x="693.7" y="141" width="4" height="22" fill="url(#pMB)" stroke="#2a1208" stroke-width="0.3"/><text transform="translate(692.6,152.2) rotate(-90)" font-size="4.6" font-weight="bold" text-anchor="middle" fill="#2a2a2a" stroke="#2a2a2a" stroke-width="0.18">p3 (9)</text><text transform="translate(701.6,152) rotate(-90)" font-size="4.1" font-weight="bold" text-anchor="middle" fill="#111" stroke="#111" stroke-width="0.1">MB</text>
<rect x="688.1" y="184.1" width="20.4" height="22.2" rx="0.8" fill="#fff" stroke="#505050" stroke-width="0.8"/><rect x="703.4" y="184.6" width="5.0" height="21.2" fill="#db7a2c" stroke="#6d3d16" stroke-width="0.35"/><text transform="translate(707.2,195) rotate(-90)" font-size="3.8" font-weight="bold" text-anchor="middle" fill="#fff">→p91</text><path d="M708.97 186.30L710.17 185.10L711.37 186.30L710.17 187.50Z" fill="#83491a"/><rect x="693.7" y="184" width="4" height="22" fill="url(#pAB)" stroke="#2a1208" stroke-width="0.3"/><text transform="translate(692.6,195.2) rotate(-90)" font-size="4.6" font-weight="bold" text-anchor="middle" fill="#2a2a2a" stroke="#2a2a2a" stroke-width="0.18">p4 (16)</text><text transform="translate(701.6,195) rotate(-90)" font-size="4.1" font-weight="bold" text-anchor="middle" fill="#111" stroke="#111" stroke-width="0.1">AB</text>
<rect x="688.1" y="227.1" width="20.4" height="22.2" rx="0.8" fill="#fff" stroke="#505050" stroke-width="0.8"/><rect x="703.4" y="227.6" width="5.0" height="21.2" fill="#db7a2c" stroke="#6d3d16" stroke-width="0.35"/><text transform="translate(707.2,238) rotate(-90)" font-size="3.8" font-weight="bold" text-anchor="middle" fill="#fff">→p177</text><path d="M708.97 229.30L710.17 228.10L711.37 229.30L710.17 230.50Z" fill="#83491a"/><rect x="693.7" y="227" width="4" height="22" fill="url(#pBLAB)" stroke="#2a1208" stroke-width="0.3"/><text transform="translate(692.6,238.2) rotate(-90)" font-size="4.6" font-weight="bold" text-anchor="middle" fill="#2a2a2a" stroke="#2a2a2a" stroke-width="0.18">p5 (61)</text><text transform="translate(701.6,238) rotate(-90)" font-size="4.1" font-weight="bold" text-anchor="middle" fill="#111" stroke="#111" stroke-width="0.1">BLAB</text>
<rect x="734.7" y="55" width="20" height="22" fill="#fffff5" fill-opacity="0.62"/><rect x="740.2" y="55" width="4" height="22" fill="url(#pMB)" stroke="#2a1208" stroke-width="0.3"/><text transform="translate(739.1,66.2) rotate(-90)" font-size="4.6" font-weight="bold" text-anchor="middle" fill="#2a2a2a" stroke="#2a2a2a" stroke-width="0.18">p1 (0)</text><text transform="translate(748.1,66) rotate(-90)" font-size="4.1" font-weight="bold" text-anchor="middle" fill="#111" stroke="#111" stroke-width="0.1">MB</text>
<rect x="734.7" y="98" width="20" height="22" fill="#fffff5" fill-opacity="0.62"/><rect x="740.2" y="98" width="4" height="22" fill="url(#pAB)" stroke="#2a1208" stroke-width="0.3"/><text transform="translate(739.1,109.2) rotate(-90)" font-size="4.6" font-weight="bold" text-anchor="middle" fill="#2a2a2a" stroke="#2a2a2a" stroke-width="0.18">p2 (23)</text><text transform="translate(748.1,109) rotate(-90)" font-size="4.1" font-weight="bold" text-anchor="middle" fill="#111" stroke="#111" stroke-width="0.1">AB</text>
<rect x="734.6" y="141.1" width="20.4" height="22.2" rx="0.8" fill="#fff" stroke="#505050" stroke-width="0.8"/><rect x="749.9" y="141.6" width="5.0" height="21.2" fill="#d8399d" stroke="#6c1c4e" stroke-width="0.35"/><text transform="translate(753.7,152) rotate(-90)" font-size="3.8" font-weight="bold" text-anchor="middle" fill="#fff">→p129</text><path d="M755.52 143.30L756.73 142.10L757.93 143.30L756.73 144.50Z" fill="#81225e"/><rect x="740.2" y="141" width="4" height="22" fill="url(#pMB)" stroke="#2a1208" stroke-width="0.3"/><text transform="translate(739.1,152.2) rotate(-90)" font-size="4.6" font-weight="bold" text-anchor="middle" fill="#2a2a2a" stroke="#2a2a2a" stroke-width="0.18">p3 (23)</text><text transform="translate(748.1,152) rotate(-90)" font-size="4.1" font-weight="bold" text-anchor="middle" fill="#111" stroke="#111" stroke-width="0.1">MB</text>
<rect x="734.7" y="184" width="20" height="22" fill="#fffff5" fill-opacity="0.62"/><rect x="740.2" y="184" width="4" height="22" fill="url(#pAB)" stroke="#2a1208" stroke-width="0.3"/><text transform="translate(739.1,195.2) rotate(-90)" font-size="4.6" font-weight="bold" text-anchor="middle" fill="#2a2a2a" stroke="#2a2a2a" stroke-width="0.18">p4 (1)</text><text transform="translate(748.1,195) rotate(-90)" font-size="4.1" font-weight="bold" text-anchor="middle" fill="#111" stroke="#111" stroke-width="0.1">AB</text>
<rect x="734.7" y="227" width="20" height="22" fill="#fffff5" fill-opacity="0.62"/><rect x="740.2" y="227" width="4" height="22" fill="url(#pABAB)" stroke="#2a1208" stroke-width="0.3"/><text transform="translate(739.1,238.2) rotate(-90)" font-size="4.6" font-weight="bold" text-anchor="middle" fill="#2a2a2a" stroke="#2a2a2a" stroke-width="0.18">p5 (93)</text><text transform="translate(748.1,238) rotate(-90)" font-size="4.1" font-weight="bold" text-anchor="middle" fill="#111" stroke="#111" stroke-width="0.1">ABAB</text>
<rect x="734.7" y="270" width="20" height="22" fill="#fffff5" fill-opacity="0.62"/><rect x="740.2" y="270" width="4" height="22" fill="url(#pAB)" stroke="#2a1208" stroke-width="0.3"/><text transform="translate(739.1,281.2) rotate(-90)" font-size="4.6" font-weight="bold" text-anchor="middle" fill="#2a2a2a" stroke="#2a2a2a" stroke-width="0.18">p6 (0)</text><text transform="translate(748.1,281) rotate(-90)" font-size="4.1" font-weight="bold" text-anchor="middle" fill="#111" stroke="#111" stroke-width="0.1">AB</text>
<rect x="734.7" y="313" width="20" height="22" fill="#fffff5" fill-opacity="0.62"/><rect x="740.2" y="313" width="4" height="22" fill="url(#pMB)" stroke="#2a1208" stroke-width="0.3"/><text transform="translate(739.1,324.2) rotate(-90)" font-size="4.6" font-weight="bold" text-anchor="middle" fill="#2a2a2a" stroke="#2a2a2a" stroke-width="0.18">p7 (0)</text><text transform="translate(748.1,324) rotate(-90)" font-size="4.1" font-weight="bold" text-anchor="middle" fill="#111" stroke="#111" stroke-width="0.1">MB</text>
<rect x="734.6" y="356.1" width="20.4" height="22.2" rx="0.8" fill="#fff" stroke="#505050" stroke-width="0.8"/><rect x="749.9" y="356.6" width="5.0" height="21.2" fill="#d8399d" stroke="#6c1c4e" stroke-width="0.35"/><text transform="translate(753.7,367) rotate(-90)" font-size="3.8" font-weight="bold" text-anchor="middle" fill="#fff">→p209</text><path d="M755.52 358.30L756.73 357.10L757.93 358.30L756.73 359.50Z" fill="#81225e"/><rect x="740.2" y="356" width="4" height="22" fill="url(#pAB)" stroke="#2a1208" stroke-width="0.3"/><text transform="translate(739.1,367.2) rotate(-90)" font-size="4.6" font-weight="bold" text-anchor="middle" fill="#2a2a2a" stroke="#2a2a2a" stroke-width="0.18">p8 (11)</text><text transform="translate(748.1,367) rotate(-90)" font-size="4.1" font-weight="bold" text-anchor="middle" fill="#111" stroke="#111" stroke-width="0.1">AB</text>
<rect x="734.7" y="399" width="20" height="22" fill="#fffff5" fill-opacity="0.62"/><rect x="740.2" y="399" width="4" height="22" fill="url(#pMB)" stroke="#2a1208" stroke-width="0.3"/><text transform="translate(739.1,410.2) rotate(-90)" font-size="4.6" font-weight="bold" text-anchor="middle" fill="#2a2a2a" stroke="#2a2a2a" stroke-width="0.18">p9 (8)</text><text transform="translate(748.1,410) rotate(-90)" font-size="4.1" font-weight="bold" text-anchor="middle" fill="#111" stroke="#111" stroke-width="0.1">MB</text>
<rect x="734.7" y="442" width="20" height="22" fill="#fffff5" fill-opacity="0.62"/><rect x="740.2" y="442" width="4" height="22" fill="url(#pMB)" stroke="#2a1208" stroke-width="0.3"/><text transform="translate(739.1,453.2) rotate(-90)" font-size="4.6" font-weight="bold" text-anchor="middle" fill="#2a2a2a" stroke="#2a2a2a" stroke-width="0.18">p10 (10)</text><text transform="translate(748.1,453) rotate(-90)" font-size="4.1" font-weight="bold" text-anchor="middle" fill="#111" stroke="#111" stroke-width="0.1">MB</text>
<rect x="734.7" y="485" width="20" height="22" fill="#fffff5" fill-opacity="0.62"/><rect x="740.2" y="485" width="4" height="22" fill="url(#pABMB)" stroke="#2a1208" stroke-width="0.3"/><text transform="translate(739.1,496.2) rotate(-90)" font-size="4.6" font-weight="bold" text-anchor="middle" fill="#2a2a2a" stroke="#2a2a2a" stroke-width="0.18">p11 (0)</text><text transform="translate(748.1,496) rotate(-90)" font-size="4.1" font-weight="bold" text-anchor="middle" fill="#111" stroke="#111" stroke-width="0.1">ABMB</text>
<rect x="781.3" y="55" width="20" height="22" fill="#fffff5" fill-opacity="0.62"/><rect x="786.8" y="55" width="4" height="22" fill="url(#pMB)" stroke="#2a1208" stroke-width="0.3"/><text transform="translate(785.7,66.2) rotate(-90)" font-size="4.6" font-weight="bold" text-anchor="middle" fill="#2a2a2a" stroke="#2a2a2a" stroke-width="0.18">p1 (44)</text><text transform="translate(794.7,66) rotate(-90)" font-size="4.1" font-weight="bold" text-anchor="middle" fill="#111" stroke="#111" stroke-width="0.1">MB</text>
<rect x="781.3" y="98" width="20" height="22" fill="#fffff5" fill-opacity="0.62"/><rect x="786.8" y="98" width="4" height="22" fill="url(#pAB)" stroke="#2a1208" stroke-width="0.3"/><text transform="translate(785.7,109.2) rotate(-90)" font-size="4.6" font-weight="bold" text-anchor="middle" fill="#2a2a2a" stroke="#2a2a2a" stroke-width="0.18">p2 (1)</text><text transform="translate(794.7,109) rotate(-90)" font-size="4.1" font-weight="bold" text-anchor="middle" fill="#111" stroke="#111" stroke-width="0.1">AB</text>
<rect x="781.3" y="141" width="20" height="22" fill="#fffff5" fill-opacity="0.62"/><rect x="786.8" y="141" width="4" height="22" fill="url(#pMB)" stroke="#2a1208" stroke-width="0.3"/><text transform="translate(785.7,152.2) rotate(-90)" font-size="4.6" font-weight="bold" text-anchor="middle" fill="#2a2a2a" stroke="#2a2a2a" stroke-width="0.18">p3 (24)</text><text transform="translate(794.7,152) rotate(-90)" font-size="4.1" font-weight="bold" text-anchor="middle" fill="#111" stroke="#111" stroke-width="0.1">MB</text>
<rect x="781.3" y="184" width="20" height="22" fill="#fffff5" fill-opacity="0.62"/><rect x="786.8" y="184" width="4" height="22" fill="url(#pABMB)" stroke="#2a1208" stroke-width="0.3"/><text transform="translate(785.7,195.2) rotate(-90)" font-size="4.6" font-weight="bold" text-anchor="middle" fill="#2a2a2a" stroke="#2a2a2a" stroke-width="0.18">p4 (7)</text><text transform="translate(794.7,195) rotate(-90)" font-size="4.1" font-weight="bold" text-anchor="middle" fill="#111" stroke="#111" stroke-width="0.1">ABMB</text>
<rect x="781.3" y="227" width="20" height="22" fill="#fffff5" fill-opacity="0.62"/><rect x="786.8" y="227" width="4" height="22" fill="url(#pABAB)" stroke="#2a1208" stroke-width="0.3"/><text transform="translate(785.7,238.2) rotate(-90)" font-size="4.6" font-weight="bold" text-anchor="middle" fill="#2a2a2a" stroke="#2a2a2a" stroke-width="0.18">p5 (0)</text><text transform="translate(794.7,238) rotate(-90)" font-size="4.1" font-weight="bold" text-anchor="middle" fill="#111" stroke="#111" stroke-width="0.1">ABAB</text>
<rect x="781.3" y="270" width="20" height="22" fill="#fffff5" fill-opacity="0.62"/><rect x="786.8" y="270" width="4" height="22" fill="url(#pCL)" stroke="#2a1208" stroke-width="0.3"/><text transform="translate(785.7,281.2) rotate(-90)" font-size="4.6" font-weight="bold" text-anchor="middle" fill="#2a2a2a" stroke="#2a2a2a" stroke-width="0.18">p6 (0)</text><text transform="translate(794.7,281) rotate(-90)" font-size="4.1" font-weight="bold" text-anchor="middle" fill="#111" stroke="#111" stroke-width="0.1">CL</text>
<rect x="781.3" y="313" width="20" height="22" fill="#fffff5" fill-opacity="0.62"/><rect x="786.8" y="313" width="4" height="22" fill="url(#pMB)" stroke="#2a1208" stroke-width="0.3"/><text transform="translate(785.7,324.2) rotate(-90)" font-size="4.6" font-weight="bold" text-anchor="middle" fill="#2a2a2a" stroke="#2a2a2a" stroke-width="0.18">p7 (12)</text><text transform="translate(794.7,324) rotate(-90)" font-size="4.1" font-weight="bold" text-anchor="middle" fill="#111" stroke="#111" stroke-width="0.1">MB</text>
<rect x="781.3" y="356" width="20" height="22" fill="#fffff5" fill-opacity="0.62"/><rect x="786.8" y="356" width="4" height="22" fill="url(#pAB)" stroke="#2a1208" stroke-width="0.3"/><text transform="translate(785.7,367.2) rotate(-90)" font-size="4.6" font-weight="bold" text-anchor="middle" fill="#2a2a2a" stroke="#2a2a2a" stroke-width="0.18">p8 (1)</text><text transform="translate(794.7,367) rotate(-90)" font-size="4.1" font-weight="bold" text-anchor="middle" fill="#111" stroke="#111" stroke-width="0.1">AB</text>
<rect x="781.3" y="399" width="20" height="22" fill="#fffff5" fill-opacity="0.62"/><rect x="786.8" y="399" width="4" height="22" fill="url(#pMB)" stroke="#2a1208" stroke-width="0.3"/><text transform="translate(785.7,410.2) rotate(-90)" font-size="4.6" font-weight="bold" text-anchor="middle" fill="#2a2a2a" stroke="#2a2a2a" stroke-width="0.18">p9 (14)</text><text transform="translate(794.7,410) rotate(-90)" font-size="4.1" font-weight="bold" text-anchor="middle" fill="#111" stroke="#111" stroke-width="0.1">MB</text>
<rect x="781.3" y="442" width="20" height="22" fill="#fffff5" fill-opacity="0.62"/><rect x="786.8" y="442" width="4" height="22" fill="url(#pABAB)" stroke="#2a1208" stroke-width="0.3"/><text transform="translate(785.7,453.2) rotate(-90)" font-size="4.6" font-weight="bold" text-anchor="middle" fill="#2a2a2a" stroke="#2a2a2a" stroke-width="0.18">p10 (5)</text><text transform="translate(794.7,453) rotate(-90)" font-size="4.1" font-weight="bold" text-anchor="middle" fill="#111" stroke="#111" stroke-width="0.1">ABAB</text>
<rect x="827.7" y="55.1" width="20.4" height="22.2" rx="0.8" fill="#fff" stroke="#505050" stroke-width="0.8"/><rect x="843.0" y="55.6" width="5.0" height="21.2" fill="#52d35a" stroke="#29692d" stroke-width="0.35"/><text transform="translate(846.8,66) rotate(-90)" font-size="3.8" font-weight="bold" text-anchor="middle" fill="#1a3a10">→p185</text><path d="M848.63 57.30L849.83 56.10L851.03 57.30L849.83 58.50Z" fill="#317e36"/><rect x="833.3" y="55" width="4" height="22" fill="url(#pAB)" stroke="#2a1208" stroke-width="0.3"/><text transform="translate(832.2,66.2) rotate(-90)" font-size="4.6" font-weight="bold" text-anchor="middle" fill="#2a2a2a" stroke="#2a2a2a" stroke-width="0.18">p1 (40)</text><text transform="translate(841.2,66) rotate(-90)" font-size="4.1" font-weight="bold" text-anchor="middle" fill="#111" stroke="#111" stroke-width="0.1">AB</text>
<rect x="827.7" y="98.1" width="20.4" height="22.2" rx="0.8" fill="#fff" stroke="#505050" stroke-width="0.8"/><rect x="843.0" y="98.6" width="5.0" height="21.2" fill="#52d35a" stroke="#29692d" stroke-width="0.35"/><text transform="translate(846.8,109) rotate(-90)" font-size="3.8" font-weight="bold" text-anchor="middle" fill="#1a3a10">→p191</text><path d="M848.63 100.30L849.83 99.10L851.03 100.30L849.83 101.50Z" fill="#317e36"/><rect x="833.3" y="98" width="4" height="22" fill="url(#pW)" stroke="#3a3a3a" stroke-width="0.45"/><text transform="translate(832.2,109.2) rotate(-90)" font-size="4.6" font-weight="bold" text-anchor="middle" fill="#2a2a2a" stroke="#2a2a2a" stroke-width="0.18">p2 (27)</text><text transform="translate(841.2,109) rotate(-90)" font-size="4.1" font-weight="bold" text-anchor="middle" fill="#111" stroke="#111" stroke-width="0.1">W</text>
<rect x="827.7" y="141.1" width="20.4" height="22.2" rx="0.8" fill="#fff" stroke="#505050" stroke-width="0.8"/><rect x="843.0" y="141.6" width="5.0" height="21.2" fill="#52d35a" stroke="#29692d" stroke-width="0.35"/><text transform="translate(846.8,152) rotate(-90)" font-size="3.8" font-weight="bold" text-anchor="middle" fill="#1a3a10">→p138</text><path d="M848.63 143.30L849.83 142.10L851.03 143.30L849.83 144.50Z" fill="#317e36"/><rect x="833.3" y="141" width="4" height="22" fill="url(#pAB)" stroke="#2a1208" stroke-width="0.3"/><text transform="translate(832.2,152.2) rotate(-90)" font-size="4.6" font-weight="bold" text-anchor="middle" fill="#2a2a2a" stroke="#2a2a2a" stroke-width="0.18">p3 (18)</text><text transform="translate(841.2,152) rotate(-90)" font-size="4.1" font-weight="bold" text-anchor="middle" fill="#111" stroke="#111" stroke-width="0.1">AB</text>
<rect x="827.7" y="184.1" width="20.4" height="22.2" rx="0.8" fill="#fff" stroke="#505050" stroke-width="0.8"/><rect x="843.0" y="184.6" width="5.0" height="21.2" fill="#52d35a" stroke="#29692d" stroke-width="0.35"/><text transform="translate(846.8,195) rotate(-90)" font-size="3.8" font-weight="bold" text-anchor="middle" fill="#1a3a10">→p130</text><path d="M848.63 186.30L849.83 185.10L851.03 186.30L849.83 187.50Z" fill="#317e36"/><rect x="833.3" y="184" width="4" height="22" fill="url(#pWAB)" stroke="#3a3a3a" stroke-width="0.45"/><text transform="translate(832.2,195.2) rotate(-90)" font-size="4.6" font-weight="bold" text-anchor="middle" fill="#2a2a2a" stroke="#2a2a2a" stroke-width="0.18">p4 (12)</text><text transform="translate(841.2,195) rotate(-90)" font-size="4.1" font-weight="bold" text-anchor="middle" fill="#111" stroke="#111" stroke-width="0.1">WAB</text>
<rect x="827.7" y="227.1" width="20.4" height="22.2" rx="0.8" fill="#fff" stroke="#505050" stroke-width="0.8"/><rect x="843.0" y="227.6" width="5.0" height="21.2" fill="#52d35a" stroke="#29692d" stroke-width="0.35"/><text transform="translate(846.8,238) rotate(-90)" font-size="3.8" font-weight="bold" text-anchor="middle" fill="#1a3a10">→p160</text><path d="M848.63 229.30L849.83 228.10L851.03 229.30L849.83 230.50Z" fill="#317e36"/><rect x="833.3" y="227" width="4" height="22" fill="url(#pW)" stroke="#3a3a3a" stroke-width="0.45"/><text transform="translate(832.2,238.2) rotate(-90)" font-size="4.6" font-weight="bold" text-anchor="middle" fill="#2a2a2a" stroke="#2a2a2a" stroke-width="0.18">p5 (112)</text><text transform="translate(841.2,238) rotate(-90)" font-size="4.1" font-weight="bold" text-anchor="middle" fill="#111" stroke="#111" stroke-width="0.1">W</text>
<rect x="874.4" y="55" width="20" height="22" fill="#fffff5" fill-opacity="0.62"/><rect x="879.9" y="55" width="4" height="22" fill="url(#pNB)" stroke="#2a1208" stroke-width="0.3"/><text transform="translate(878.8,66.2) rotate(-90)" font-size="4.6" font-weight="bold" text-anchor="middle" fill="#2a2a2a" stroke="#2a2a2a" stroke-width="0.18">p1 (0)</text><text transform="translate(887.8,66) rotate(-90)" font-size="4.1" font-weight="bold" text-anchor="middle" fill="#111" stroke="#111" stroke-width="0.1">NB</text>
<rect x="874.4" y="98" width="20" height="22" fill="#fffff5" fill-opacity="0.62"/><rect x="879.9" y="98" width="4" height="22" fill="url(#pW)" stroke="#3a3a3a" stroke-width="0.45"/><text transform="translate(878.8,109.2) rotate(-90)" font-size="4.6" font-weight="bold" text-anchor="middle" fill="#2a2a2a" stroke="#2a2a2a" stroke-width="0.18">p2 (28)</text><text transform="translate(887.8,109) rotate(-90)" font-size="4.1" font-weight="bold" text-anchor="middle" fill="#111" stroke="#111" stroke-width="0.1">W</text>
<rect x="874.3" y="141.1" width="20.4" height="22.2" rx="0.8" fill="#fff" stroke="#505050" stroke-width="0.8"/><rect x="889.6" y="141.6" width="5.0" height="21.2" fill="#4a86e8" stroke="#254374" stroke-width="0.35"/><text transform="translate(893.4,152) rotate(-90)" font-size="3.8" font-weight="bold" text-anchor="middle" fill="#fff">→p166</text><path d="M895.19 143.30L896.39 142.10L897.59 143.30L896.39 144.50Z" fill="#2c508b"/><rect x="879.9" y="141" width="4" height="22" fill="url(#pNB)" stroke="#2a1208" stroke-width="0.3"/><text transform="translate(878.8,152.2) rotate(-90)" font-size="4.6" font-weight="bold" text-anchor="middle" fill="#2a2a2a" stroke="#2a2a2a" stroke-width="0.18">p3 (44)</text><text transform="translate(887.8,152) rotate(-90)" font-size="4.1" font-weight="bold" text-anchor="middle" fill="#111" stroke="#111" stroke-width="0.1">NB</text>
<rect x="874.4" y="184" width="20" height="22" fill="#fffff5" fill-opacity="0.62"/><rect x="879.9" y="184" width="4" height="22" fill="url(#pWAB)" stroke="#3a3a3a" stroke-width="0.45"/><text transform="translate(878.8,195.2) rotate(-90)" font-size="4.6" font-weight="bold" text-anchor="middle" fill="#2a2a2a" stroke="#2a2a2a" stroke-width="0.18">p4 (0)</text><text transform="translate(887.8,195) rotate(-90)" font-size="4.1" font-weight="bold" text-anchor="middle" fill="#111" stroke="#111" stroke-width="0.1">WAB</text>
<rect x="874.4" y="227" width="20" height="22" fill="#fffff5" fill-opacity="0.62"/><rect x="879.9" y="227" width="4" height="22" fill="url(#pABPB)" stroke="#2a1208" stroke-width="0.3"/><text transform="translate(878.8,238.2) rotate(-90)" font-size="4.6" font-weight="bold" text-anchor="middle" fill="#2a2a2a" stroke="#2a2a2a" stroke-width="0.18">p5 (0)</text><text transform="translate(887.8,238) rotate(-90)" font-size="4.1" font-weight="bold" text-anchor="middle" fill="#111" stroke="#111" stroke-width="0.1">ABPB</text>
<rect x="874.4" y="270" width="20" height="22" fill="#fffff5" fill-opacity="0.62"/><rect x="879.9" y="270" width="4" height="22" fill="url(#pAB)" stroke="#2a1208" stroke-width="0.3"/><text transform="translate(878.8,281.2) rotate(-90)" font-size="4.6" font-weight="bold" text-anchor="middle" fill="#2a2a2a" stroke="#2a2a2a" stroke-width="0.18">p6 (0)</text><text transform="translate(887.8,281) rotate(-90)" font-size="4.1" font-weight="bold" text-anchor="middle" fill="#111" stroke="#111" stroke-width="0.1">AB</text>
<rect x="874.4" y="313" width="20" height="22" fill="#fffff5" fill-opacity="0.62"/><rect x="879.9" y="313" width="4" height="22" fill="url(#pW)" stroke="#3a3a3a" stroke-width="0.45"/><text transform="translate(878.8,324.2) rotate(-90)" font-size="4.6" font-weight="bold" text-anchor="middle" fill="#2a2a2a" stroke="#2a2a2a" stroke-width="0.18">p7 (3)</text><text transform="translate(887.8,324) rotate(-90)" font-size="4.1" font-weight="bold" text-anchor="middle" fill="#111" stroke="#111" stroke-width="0.1">W</text>
<rect x="874.4" y="356" width="20" height="22" fill="#fffff5" fill-opacity="0.62"/><rect x="879.9" y="356" width="4" height="22" fill="url(#pMB)" stroke="#2a1208" stroke-width="0.3"/><text transform="translate(878.8,367.2) rotate(-90)" font-size="4.6" font-weight="bold" text-anchor="middle" fill="#2a2a2a" stroke="#2a2a2a" stroke-width="0.18">p8 (0)</text><text transform="translate(887.8,367) rotate(-90)" font-size="4.1" font-weight="bold" text-anchor="middle" fill="#111" stroke="#111" stroke-width="0.1">MB</text>
<rect x="874.4" y="399" width="20" height="22" fill="#fffff5" fill-opacity="0.62"/><rect x="879.9" y="399" width="4" height="22" fill="url(#pWAB)" stroke="#3a3a3a" stroke-width="0.45"/><text transform="translate(878.8,410.2) rotate(-90)" font-size="4.6" font-weight="bold" text-anchor="middle" fill="#2a2a2a" stroke="#2a2a2a" stroke-width="0.18">p9 (0)</text><text transform="translate(887.8,410) rotate(-90)" font-size="4.1" font-weight="bold" text-anchor="middle" fill="#111" stroke="#111" stroke-width="0.1">WAB</text>
<rect x="874.4" y="442" width="20" height="22" fill="#fffff5" fill-opacity="0.62"/><rect x="879.9" y="442" width="4" height="22" fill="url(#pWBL)" stroke="#3a3a3a" stroke-width="0.45"/><text transform="translate(878.8,453.2) rotate(-90)" font-size="4.6" font-weight="bold" text-anchor="middle" fill="#2a2a2a" stroke="#2a2a2a" stroke-width="0.18">p10 (0)</text><text transform="translate(887.8,453) rotate(-90)" font-size="4.1" font-weight="bold" text-anchor="middle" fill="#111" stroke="#111" stroke-width="0.1">WBL</text>
<rect x="920.9" y="55" width="20" height="22" fill="#fffff5" fill-opacity="0.62"/><rect x="926.4" y="55" width="4" height="22" fill="url(#pNB)" stroke="#2a1208" stroke-width="0.3"/><text transform="translate(925.3,66.2) rotate(-90)" font-size="4.6" font-weight="bold" text-anchor="middle" fill="#2a2a2a" stroke="#2a2a2a" stroke-width="0.18">p1 (0)</text><text transform="translate(934.3,66) rotate(-90)" font-size="4.1" font-weight="bold" text-anchor="middle" fill="#111" stroke="#111" stroke-width="0.1">NB</text>
<rect x="920.9" y="98" width="20" height="22" fill="#fffff5" fill-opacity="0.62"/><rect x="926.4" y="98" width="4" height="22" fill="url(#pW)" stroke="#3a3a3a" stroke-width="0.45"/><text transform="translate(925.3,109.2) rotate(-90)" font-size="4.6" font-weight="bold" text-anchor="middle" fill="#2a2a2a" stroke="#2a2a2a" stroke-width="0.18">p2 (0)</text><text transform="translate(934.3,109) rotate(-90)" font-size="4.1" font-weight="bold" text-anchor="middle" fill="#111" stroke="#111" stroke-width="0.1">W</text>
<rect x="920.8" y="141.1" width="20.4" height="22.2" rx="0.8" fill="#fff" stroke="#505050" stroke-width="0.8"/><rect x="936.1" y="141.6" width="5.0" height="21.2" fill="#7d4fc1" stroke="#3e2760" stroke-width="0.35"/><text transform="translate(939.9,152) rotate(-90)" font-size="3.8" font-weight="bold" text-anchor="middle" fill="#fff">→p166</text><path d="M941.74 143.30L942.94 142.10L944.14 143.30L942.94 144.50Z" fill="#4b2f73"/><rect x="926.4" y="141" width="4" height="22" fill="url(#pAB)" stroke="#2a1208" stroke-width="0.3"/><text transform="translate(925.3,152.2) rotate(-90)" font-size="4.6" font-weight="bold" text-anchor="middle" fill="#2a2a2a" stroke="#2a2a2a" stroke-width="0.18">p3 (64)</text><text transform="translate(934.3,152) rotate(-90)" font-size="4.1" font-weight="bold" text-anchor="middle" fill="#111" stroke="#111" stroke-width="0.1">AB</text>
<rect x="920.9" y="184" width="20" height="22" fill="#fffff5" fill-opacity="0.62"/><rect x="926.4" y="184" width="4" height="22" fill="url(#pWAB)" stroke="#3a3a3a" stroke-width="0.45"/><text transform="translate(925.3,195.2) rotate(-90)" font-size="4.6" font-weight="bold" text-anchor="middle" fill="#2a2a2a" stroke="#2a2a2a" stroke-width="0.18">p4 (3)</text><text transform="translate(934.3,195) rotate(-90)" font-size="4.1" font-weight="bold" text-anchor="middle" fill="#111" stroke="#111" stroke-width="0.1">WAB</text>
<rect x="920.8" y="227.1" width="20.4" height="22.2" rx="0.8" fill="#fff" stroke="#505050" stroke-width="0.8"/><rect x="936.1" y="227.6" width="5.0" height="21.2" fill="#7d4fc1" stroke="#3e2760" stroke-width="0.35"/><text transform="translate(939.9,238) rotate(-90)" font-size="3.8" font-weight="bold" text-anchor="middle" fill="#fff">→p149</text><path d="M941.74 229.30L942.94 228.10L944.14 229.30L942.94 230.50Z" fill="#4b2f73"/><rect x="926.4" y="227" width="4" height="22" fill="url(#pWAB)" stroke="#3a3a3a" stroke-width="0.45"/><text transform="translate(925.3,238.2) rotate(-90)" font-size="4.6" font-weight="bold" text-anchor="middle" fill="#2a2a2a" stroke="#2a2a2a" stroke-width="0.18">p5 (15)</text><text transform="translate(934.3,238) rotate(-90)" font-size="4.1" font-weight="bold" text-anchor="middle" fill="#111" stroke="#111" stroke-width="0.1">WAB</text>
<rect x="920.9" y="270" width="20" height="22" fill="#fffff5" fill-opacity="0.62"/><rect x="926.4" y="270" width="4" height="22" fill="url(#pWPB)" stroke="#3a3a3a" stroke-width="0.45"/><text transform="translate(925.3,281.2) rotate(-90)" font-size="4.6" font-weight="bold" text-anchor="middle" fill="#2a2a2a" stroke="#2a2a2a" stroke-width="0.18">p6 (0)</text><text transform="translate(934.3,281) rotate(-90)" font-size="4.1" font-weight="bold" text-anchor="middle" fill="#111" stroke="#111" stroke-width="0.1">WPB</text>
<rect x="967.5" y="55" width="20" height="22" fill="#fffff5" fill-opacity="0.62"/><rect x="973.0" y="55" width="4" height="22" fill="url(#pW)" stroke="#3a3a3a" stroke-width="0.45"/><text transform="translate(971.9,66.2) rotate(-90)" font-size="4.6" font-weight="bold" text-anchor="middle" fill="#2a2a2a" stroke="#2a2a2a" stroke-width="0.18">p1 (0)</text><text transform="translate(980.9,66) rotate(-90)" font-size="4.1" font-weight="bold" text-anchor="middle" fill="#111" stroke="#111" stroke-width="0.1">W</text>
<rect x="967.5" y="98" width="20" height="22" fill="#fffff5" fill-opacity="0.62"/><rect x="973.0" y="98" width="4" height="22" fill="url(#pAB)" stroke="#2a1208" stroke-width="0.3"/><text transform="translate(971.9,109.2) rotate(-90)" font-size="4.6" font-weight="bold" text-anchor="middle" fill="#2a2a2a" stroke="#2a2a2a" stroke-width="0.18">p2 (0)</text><text transform="translate(980.9,109) rotate(-90)" font-size="4.1" font-weight="bold" text-anchor="middle" fill="#111" stroke="#111" stroke-width="0.1">AB</text>
<rect x="967.5" y="141" width="20" height="22" fill="#fffff5" fill-opacity="0.62"/><rect x="973.0" y="141" width="4" height="22" fill="url(#pAB)" stroke="#2a1208" stroke-width="0.3"/><text transform="translate(971.9,152.2) rotate(-90)" font-size="4.6" font-weight="bold" text-anchor="middle" fill="#2a2a2a" stroke="#2a2a2a" stroke-width="0.18">p3 (0)</text><text transform="translate(980.9,152) rotate(-90)" font-size="4.1" font-weight="bold" text-anchor="middle" fill="#111" stroke="#111" stroke-width="0.1">AB</text>
<rect x="967.5" y="184" width="20" height="22" fill="#fffff5" fill-opacity="0.62"/><rect x="973.0" y="184" width="4" height="22" fill="url(#pWMB)" stroke="#3a3a3a" stroke-width="0.45"/><text transform="translate(971.9,195.2) rotate(-90)" font-size="4.6" font-weight="bold" text-anchor="middle" fill="#2a2a2a" stroke="#2a2a2a" stroke-width="0.18">p4 (4)</text><text transform="translate(980.9,195) rotate(-90)" font-size="4.1" font-weight="bold" text-anchor="middle" fill="#111" stroke="#111" stroke-width="0.1">WMB</text>
<rect x="967.5" y="227" width="20" height="22" fill="#fffff5" fill-opacity="0.62"/><rect x="973.0" y="227" width="4" height="22" fill="url(#pW)" stroke="#3a3a3a" stroke-width="0.45"/><text transform="translate(971.9,238.2) rotate(-90)" font-size="4.6" font-weight="bold" text-anchor="middle" fill="#2a2a2a" stroke="#2a2a2a" stroke-width="0.18">p5 (13)</text><text transform="translate(980.9,238) rotate(-90)" font-size="4.1" font-weight="bold" text-anchor="middle" fill="#111" stroke="#111" stroke-width="0.1">W</text>
<rect x="967.5" y="270" width="20" height="22" fill="#fffff5" fill-opacity="0.62"/><rect x="973.0" y="270" width="4" height="22" fill="url(#pMB)" stroke="#2a1208" stroke-width="0.3"/><text transform="translate(971.9,281.2) rotate(-90)" font-size="4.6" font-weight="bold" text-anchor="middle" fill="#2a2a2a" stroke="#2a2a2a" stroke-width="0.18">p6 (12)</text><text transform="translate(980.9,281) rotate(-90)" font-size="4.1" font-weight="bold" text-anchor="middle" fill="#111" stroke="#111" stroke-width="0.1">MB</text>
<rect x="967.5" y="313" width="20" height="22" fill="#fffff5" fill-opacity="0.62"/><rect x="973.0" y="313" width="4" height="22" fill="url(#pWAB)" stroke="#3a3a3a" stroke-width="0.45"/><text transform="translate(971.9,324.2) rotate(-90)" font-size="4.6" font-weight="bold" text-anchor="middle" fill="#2a2a2a" stroke="#2a2a2a" stroke-width="0.18">p7 (29)</text><text transform="translate(980.9,324) rotate(-90)" font-size="4.1" font-weight="bold" text-anchor="middle" fill="#111" stroke="#111" stroke-width="0.1">WAB</text>
<rect x="967.4" y="356.1" width="20.4" height="22.2" rx="0.8" fill="#fff" stroke="#505050" stroke-width="0.8"/><rect x="982.7" y="356.6" width="5.0" height="21.2" fill="#e6c12e" stroke="#736017" stroke-width="0.35"/><text transform="translate(986.5,367) rotate(-90)" font-size="3.8" font-weight="bold" text-anchor="middle" fill="#1a3a10">→p146</text><path d="M988.30 358.30L989.50 357.10L990.70 358.30L989.50 359.50Z" fill="#8a731b"/><rect x="973.0" y="356" width="4" height="22" fill="url(#pABPB)" stroke="#2a1208" stroke-width="0.3"/><text transform="translate(971.9,367.2) rotate(-90)" font-size="4.6" font-weight="bold" text-anchor="middle" fill="#2a2a2a" stroke="#2a2a2a" stroke-width="0.18">p8 (124)</text><text transform="translate(980.9,367) rotate(-90)" font-size="4.1" font-weight="bold" text-anchor="middle" fill="#111" stroke="#111" stroke-width="0.1">ABPB</text>
<rect x="1014.1" y="55" width="20" height="22" fill="#fffff5" fill-opacity="0.62"/><rect x="1019.6" y="55" width="4" height="22" fill="url(#pW)" stroke="#3a3a3a" stroke-width="0.45"/><text transform="translate(1018.5,66.2) rotate(-90)" font-size="4.6" font-weight="bold" text-anchor="middle" fill="#2a2a2a" stroke="#2a2a2a" stroke-width="0.18">p1 (18)</text><text transform="translate(1027.5,66) rotate(-90)" font-size="4.1" font-weight="bold" text-anchor="middle" fill="#111" stroke="#111" stroke-width="0.1">W</text>
<rect x="1014.0" y="98.1" width="20.4" height="22.2" rx="0.8" fill="#fff" stroke="#505050" stroke-width="0.8"/><rect x="1029.3" y="98.6" width="5.0" height="21.2" fill="#db7a2c" stroke="#6d3d16" stroke-width="0.35"/><text transform="translate(1033.1,109) rotate(-90)" font-size="3.8" font-weight="bold" text-anchor="middle" fill="#fff">→p206</text><path d="M1034.86 100.30L1036.05 99.10L1037.25 100.30L1036.05 101.50Z" fill="#83491a"/><rect x="1019.6" y="98" width="4" height="22" fill="url(#pAB)" stroke="#2a1208" stroke-width="0.3"/><text transform="translate(1018.5,109.2) rotate(-90)" font-size="4.6" font-weight="bold" text-anchor="middle" fill="#2a2a2a" stroke="#2a2a2a" stroke-width="0.18">p2 (19)</text><text transform="translate(1027.5,109) rotate(-90)" font-size="4.1" font-weight="bold" text-anchor="middle" fill="#111" stroke="#111" stroke-width="0.1">AB</text>
<rect x="1014.1" y="141" width="20" height="22" fill="#fffff5" fill-opacity="0.62"/><rect x="1019.6" y="141" width="4" height="22" fill="url(#pWAB)" stroke="#3a3a3a" stroke-width="0.45"/><text transform="translate(1018.5,152.2) rotate(-90)" font-size="4.6" font-weight="bold" text-anchor="middle" fill="#2a2a2a" stroke="#2a2a2a" stroke-width="0.18">p3 (14)</text><text transform="translate(1027.5,152) rotate(-90)" font-size="4.1" font-weight="bold" text-anchor="middle" fill="#111" stroke="#111" stroke-width="0.1">WAB</text>
<rect x="1014.0" y="184.1" width="20.4" height="22.2" rx="0.8" fill="#fff" stroke="#505050" stroke-width="0.8"/><rect x="1029.3" y="184.6" width="5.0" height="21.2" fill="#db7a2c" stroke="#6d3d16" stroke-width="0.35"/><text transform="translate(1033.1,195) rotate(-90)" font-size="3.8" font-weight="bold" text-anchor="middle" fill="#fff">→p159</text><path d="M1034.86 186.30L1036.05 185.10L1037.25 186.30L1036.05 187.50Z" fill="#83491a"/><rect x="1019.6" y="184" width="4" height="22" fill="url(#pWAB)" stroke="#3a3a3a" stroke-width="0.45"/><text transform="translate(1018.5,195.2) rotate(-90)" font-size="4.6" font-weight="bold" text-anchor="middle" fill="#2a2a2a" stroke="#2a2a2a" stroke-width="0.18">p4 (121)</text><text transform="translate(1027.5,195) rotate(-90)" font-size="4.1" font-weight="bold" text-anchor="middle" fill="#111" stroke="#111" stroke-width="0.1">WAB</text>
<rect x="1060.6" y="55" width="20" height="22" fill="#fffff5" fill-opacity="0.62"/><rect x="1066.1" y="55" width="4" height="22" fill="url(#pW)" stroke="#3a3a3a" stroke-width="0.45"/><text transform="translate(1065.0,66.2) rotate(-90)" font-size="4.6" font-weight="bold" text-anchor="middle" fill="#2a2a2a" stroke="#2a2a2a" stroke-width="0.18">p1 (0)</text><text transform="translate(1074.0,66) rotate(-90)" font-size="4.1" font-weight="bold" text-anchor="middle" fill="#111" stroke="#111" stroke-width="0.1">W</text>
<rect x="1060.6" y="98" width="20" height="22" fill="#fffff5" fill-opacity="0.62"/><rect x="1066.1" y="98" width="4" height="22" fill="url(#pKB)" stroke="#2a1208" stroke-width="0.3"/><text transform="translate(1065.0,109.2) rotate(-90)" font-size="4.6" font-weight="bold" text-anchor="middle" fill="#2a2a2a" stroke="#2a2a2a" stroke-width="0.18">p2 (28)</text><text transform="translate(1074.0,109) rotate(-90)" font-size="4.1" font-weight="bold" text-anchor="middle" fill="#111" stroke="#111" stroke-width="0.1">KB</text>
<rect x="1060.6" y="141" width="20" height="22" fill="#fffff5" fill-opacity="0.62"/><rect x="1066.1" y="141" width="4" height="22" fill="url(#pWAB)" stroke="#3a3a3a" stroke-width="0.45"/><text transform="translate(1065.0,152.2) rotate(-90)" font-size="4.6" font-weight="bold" text-anchor="middle" fill="#2a2a2a" stroke="#2a2a2a" stroke-width="0.18">p3 (18)</text><text transform="translate(1074.0,152) rotate(-90)" font-size="4.1" font-weight="bold" text-anchor="middle" fill="#111" stroke="#111" stroke-width="0.1">WAB</text>
<rect x="1060.5" y="184.1" width="20.4" height="22.2" rx="0.8" fill="#fff" stroke="#505050" stroke-width="0.8"/><rect x="1075.8" y="184.6" width="5.0" height="21.2" fill="#438f6e" stroke="#214737" stroke-width="0.35"/><text transform="translate(1079.6,195) rotate(-90)" font-size="3.8" font-weight="bold" text-anchor="middle" fill="#fff">→p178</text><path d="M1081.41 186.30L1082.61 185.10L1083.81 186.30L1082.61 187.50Z" fill="#285542"/><rect x="1066.1" y="184" width="4" height="22" fill="url(#pWAB)" stroke="#3a3a3a" stroke-width="0.45"/><text transform="translate(1065.0,195.2) rotate(-90)" font-size="4.6" font-weight="bold" text-anchor="middle" fill="#2a2a2a" stroke="#2a2a2a" stroke-width="0.18">p4 (21)</text><text transform="translate(1074.0,195) rotate(-90)" font-size="4.1" font-weight="bold" text-anchor="middle" fill="#111" stroke="#111" stroke-width="0.1">WAB</text>
<rect x="1107.2" y="55" width="20" height="22" fill="#fffff5" fill-opacity="0.62"/><rect x="1112.7" y="55" width="4" height="22" fill="url(#pW)" stroke="#3a3a3a" stroke-width="0.45"/><text transform="translate(1111.6,66.2) rotate(-90)" font-size="4.6" font-weight="bold" text-anchor="middle" fill="#2a2a2a" stroke="#2a2a2a" stroke-width="0.18">p1 (0)</text><text transform="translate(1120.6,66) rotate(-90)" font-size="4.1" font-weight="bold" text-anchor="middle" fill="#111" stroke="#111" stroke-width="0.1">W</text>
<rect x="1107.2" y="98" width="20" height="22" fill="#fffff5" fill-opacity="0.62"/><rect x="1112.7" y="98" width="4" height="22" fill="url(#pAB)" stroke="#2a1208" stroke-width="0.3"/><text transform="translate(1111.6,109.2) rotate(-90)" font-size="4.6" font-weight="bold" text-anchor="middle" fill="#2a2a2a" stroke="#2a2a2a" stroke-width="0.18">p2 (0)</text><text transform="translate(1120.6,109) rotate(-90)" font-size="4.1" font-weight="bold" text-anchor="middle" fill="#111" stroke="#111" stroke-width="0.1">AB</text>
<rect x="1107.1" y="141.1" width="20.4" height="22.2" rx="0.8" fill="#fff" stroke="#505050" stroke-width="0.8"/><rect x="1122.4" y="141.6" width="5.0" height="21.2" fill="#9ade55" stroke="#4d6f2a" stroke-width="0.35"/><text transform="translate(1126.2,152) rotate(-90)" font-size="3.8" font-weight="bold" text-anchor="middle" fill="#1a3a10">→p180</text><path d="M1127.97 143.30L1129.17 142.10L1130.37 143.30L1129.17 144.50Z" fill="#5c8533"/><rect x="1112.7" y="141" width="4" height="22" fill="url(#pW)" stroke="#3a3a3a" stroke-width="0.45"/><text transform="translate(1111.6,152.2) rotate(-90)" font-size="4.6" font-weight="bold" text-anchor="middle" fill="#2a2a2a" stroke="#2a2a2a" stroke-width="0.18">p3 (17)</text><text transform="translate(1120.6,152) rotate(-90)" font-size="4.1" font-weight="bold" text-anchor="middle" fill="#111" stroke="#111" stroke-width="0.1">W</text>
<rect x="1107.1" y="184.1" width="20.4" height="22.2" rx="0.8" fill="#fff" stroke="#505050" stroke-width="0.8"/><rect x="1122.4" y="184.6" width="5.0" height="21.2" fill="#9ade55" stroke="#4d6f2a" stroke-width="0.35"/><text transform="translate(1126.2,195) rotate(-90)" font-size="3.8" font-weight="bold" text-anchor="middle" fill="#1a3a10">→p163</text><path d="M1127.97 186.30L1129.17 185.10L1130.37 186.30L1129.17 187.50Z" fill="#5c8533"/><rect x="1112.7" y="184" width="4" height="22" fill="url(#pWAB)" stroke="#3a3a3a" stroke-width="0.45"/><text transform="translate(1111.6,195.2) rotate(-90)" font-size="4.6" font-weight="bold" text-anchor="middle" fill="#2a2a2a" stroke="#2a2a2a" stroke-width="0.18">p4 (84)</text><text transform="translate(1120.6,195) rotate(-90)" font-size="4.1" font-weight="bold" text-anchor="middle" fill="#111" stroke="#111" stroke-width="0.1">WAB</text>
<rect x="1153.7" y="55" width="20" height="22" fill="#fffff5" fill-opacity="0.62"/><rect x="1159.2" y="55" width="4" height="22" fill="url(#pW)" stroke="#3a3a3a" stroke-width="0.45"/><text transform="translate(1158.1,66.2) rotate(-90)" font-size="4.6" font-weight="bold" text-anchor="middle" fill="#2a2a2a" stroke="#2a2a2a" stroke-width="0.18">p1 (2)</text><text transform="translate(1167.1,66) rotate(-90)" font-size="4.1" font-weight="bold" text-anchor="middle" fill="#111" stroke="#111" stroke-width="0.1">W</text>
<rect x="1153.6" y="98.1" width="20.4" height="22.2" rx="0.8" fill="#fff" stroke="#505050" stroke-width="0.8"/><rect x="1168.9" y="98.6" width="5.0" height="21.2" fill="#45bfc9" stroke="#225f64" stroke-width="0.35"/><text transform="translate(1172.7,109) rotate(-90)" font-size="3.8" font-weight="bold" text-anchor="middle" fill="#fff">→p166</text><path d="M1174.52 100.30L1175.72 99.10L1176.92 100.30L1175.72 101.50Z" fill="#297278"/><rect x="1159.2" y="98" width="4" height="22" fill="url(#pAB)" stroke="#2a1208" stroke-width="0.3"/><text transform="translate(1158.1,109.2) rotate(-90)" font-size="4.6" font-weight="bold" text-anchor="middle" fill="#2a2a2a" stroke="#2a2a2a" stroke-width="0.18">p2 (14)</text><text transform="translate(1167.1,109) rotate(-90)" font-size="4.1" font-weight="bold" text-anchor="middle" fill="#111" stroke="#111" stroke-width="0.1">AB</text>
<rect x="1153.7" y="141" width="20" height="22" fill="#fffff5" fill-opacity="0.62"/><rect x="1159.2" y="141" width="4" height="22" fill="url(#pWAB)" stroke="#3a3a3a" stroke-width="0.45"/><text transform="translate(1158.1,152.2) rotate(-90)" font-size="4.6" font-weight="bold" text-anchor="middle" fill="#2a2a2a" stroke="#2a2a2a" stroke-width="0.18">p3 (8)</text><text transform="translate(1167.1,152) rotate(-90)" font-size="4.1" font-weight="bold" text-anchor="middle" fill="#111" stroke="#111" stroke-width="0.1">WAB</text>
<rect x="1200.3" y="55" width="20" height="22" fill="#fffff5" fill-opacity="0.62"/><rect x="1205.8" y="55" width="4" height="22" fill="url(#pAB)" stroke="#2a1208" stroke-width="0.3"/><text transform="translate(1204.7,66.2) rotate(-90)" font-size="4.6" font-weight="bold" text-anchor="middle" fill="#2a2a2a" stroke="#2a2a2a" stroke-width="0.18">p1 (96)</text><text transform="translate(1213.7,66) rotate(-90)" font-size="4.1" font-weight="bold" text-anchor="middle" fill="#111" stroke="#111" stroke-width="0.1">AB</text>
<rect x="1200.2" y="98.1" width="20.4" height="22.2" rx="0.8" fill="#fff" stroke="#505050" stroke-width="0.8"/><rect x="1215.5" y="98.6" width="5.0" height="21.2" fill="#5b55da" stroke="#2d2a6d" stroke-width="0.35"/><text transform="translate(1219.3,109) rotate(-90)" font-size="3.8" font-weight="bold" text-anchor="middle" fill="#fff">→p175</text><path d="M1221.08 100.30L1222.28 99.10L1223.48 100.30L1222.28 101.50Z" fill="#363382"/><rect x="1205.8" y="98" width="4" height="22" fill="url(#pW)" stroke="#3a3a3a" stroke-width="0.45"/><text transform="translate(1204.7,109.2) rotate(-90)" font-size="4.6" font-weight="bold" text-anchor="middle" fill="#2a2a2a" stroke="#2a2a2a" stroke-width="0.18">p2 (15)</text><text transform="translate(1213.7,109) rotate(-90)" font-size="4.1" font-weight="bold" text-anchor="middle" fill="#111" stroke="#111" stroke-width="0.1">W</text>
<rect x="1200.2" y="141.1" width="20.4" height="22.2" rx="0.8" fill="#fff" stroke="#505050" stroke-width="0.8"/><rect x="1215.5" y="141.6" width="5.0" height="21.2" fill="#5b55da" stroke="#2d2a6d" stroke-width="0.35"/><text transform="translate(1219.3,152) rotate(-90)" font-size="3.8" font-weight="bold" text-anchor="middle" fill="#fff">→p169</text><path d="M1221.08 143.30L1222.28 142.10L1223.48 143.30L1222.28 144.50Z" fill="#363382"/><rect x="1205.8" y="141" width="4" height="22" fill="url(#pMB)" stroke="#2a1208" stroke-width="0.3"/><text transform="translate(1204.7,152.2) rotate(-90)" font-size="4.6" font-weight="bold" text-anchor="middle" fill="#2a2a2a" stroke="#2a2a2a" stroke-width="0.18">p3 (34)</text><text transform="translate(1213.7,152) rotate(-90)" font-size="4.1" font-weight="bold" text-anchor="middle" fill="#111" stroke="#111" stroke-width="0.1">MB</text>
<rect x="1200.3" y="184" width="20" height="22" fill="#fffff5" fill-opacity="0.62"/><rect x="1205.8" y="184" width="4" height="22" fill="url(#pWAB)" stroke="#3a3a3a" stroke-width="0.45"/><text transform="translate(1204.7,195.2) rotate(-90)" font-size="4.6" font-weight="bold" text-anchor="middle" fill="#2a2a2a" stroke="#2a2a2a" stroke-width="0.18">p4 (19)</text><text transform="translate(1213.7,195) rotate(-90)" font-size="4.1" font-weight="bold" text-anchor="middle" fill="#111" stroke="#111" stroke-width="0.1">WAB</text>
<rect x="1200.2" y="227.1" width="20.4" height="22.2" rx="0.8" fill="#fff" stroke="#505050" stroke-width="0.8"/><rect x="1215.5" y="227.6" width="5.0" height="21.2" fill="#5b55da" stroke="#2d2a6d" stroke-width="0.35"/><text transform="translate(1219.3,238) rotate(-90)" font-size="3.8" font-weight="bold" text-anchor="middle" fill="#fff">→p183</text><path d="M1221.08 229.30L1222.28 228.10L1223.48 229.30L1222.28 230.50Z" fill="#363382"/><rect x="1205.8" y="227" width="4" height="22" fill="url(#pMB)" stroke="#2a1208" stroke-width="0.3"/><text transform="translate(1204.7,238.2) rotate(-90)" font-size="4.6" font-weight="bold" text-anchor="middle" fill="#2a2a2a" stroke="#2a2a2a" stroke-width="0.18">p5 (154)</text><text transform="translate(1213.7,238) rotate(-90)" font-size="4.1" font-weight="bold" text-anchor="middle" fill="#111" stroke="#111" stroke-width="0.1">MB</text>
<rect x="1246.7" y="55.1" width="20.4" height="22.2" rx="0.8" fill="#fff" stroke="#505050" stroke-width="0.8"/><rect x="1262.0" y="55.6" width="5.0" height="21.2" fill="#db7a2c" stroke="#6d3d16" stroke-width="0.35"/><text transform="translate(1265.8,66) rotate(-90)" font-size="3.8" font-weight="bold" text-anchor="middle" fill="#fff">→p201</text><path d="M1267.63 57.30L1268.83 56.10L1270.03 57.30L1268.83 58.50Z" fill="#83491a"/><rect x="1252.3" y="55" width="4" height="22" fill="url(#pW)" stroke="#3a3a3a" stroke-width="0.45"/><text transform="translate(1251.2,66.2) rotate(-90)" font-size="4.6" font-weight="bold" text-anchor="middle" fill="#2a2a2a" stroke="#2a2a2a" stroke-width="0.18">p1 (11)</text><text transform="translate(1260.2,66) rotate(-90)" font-size="4.1" font-weight="bold" text-anchor="middle" fill="#111" stroke="#111" stroke-width="0.1">W</text>
<rect x="1246.8" y="98" width="20" height="22" fill="#fffff5" fill-opacity="0.62"/><rect x="1252.3" y="98" width="4" height="22" fill="url(#pMB)" stroke="#2a1208" stroke-width="0.3"/><text transform="translate(1251.2,109.2) rotate(-90)" font-size="4.6" font-weight="bold" text-anchor="middle" fill="#2a2a2a" stroke="#2a2a2a" stroke-width="0.18">p2 (3)</text><text transform="translate(1260.2,109) rotate(-90)" font-size="4.1" font-weight="bold" text-anchor="middle" fill="#111" stroke="#111" stroke-width="0.1">MB</text>
<rect x="1246.7" y="141.1" width="20.4" height="22.2" rx="0.8" fill="#fff" stroke="#505050" stroke-width="0.8"/><rect x="1262.0" y="141.6" width="5.0" height="21.2" fill="#db7a2c" stroke="#6d3d16" stroke-width="0.35"/><text transform="translate(1265.8,152) rotate(-90)" font-size="3.8" font-weight="bold" text-anchor="middle" fill="#fff">→p181</text><path d="M1267.63 143.30L1268.83 142.10L1270.03 143.30L1268.83 144.50Z" fill="#83491a"/><rect x="1252.3" y="141" width="4" height="22" fill="url(#pWAB)" stroke="#3a3a3a" stroke-width="0.45"/><text transform="translate(1251.2,152.2) rotate(-90)" font-size="4.6" font-weight="bold" text-anchor="middle" fill="#2a2a2a" stroke="#2a2a2a" stroke-width="0.18">p3 (15)</text><text transform="translate(1260.2,152) rotate(-90)" font-size="4.1" font-weight="bold" text-anchor="middle" fill="#111" stroke="#111" stroke-width="0.1">WAB</text>
<rect x="1293.3" y="55.1" width="20.4" height="22.2" rx="0.8" fill="#fff" stroke="#505050" stroke-width="0.8"/><rect x="1308.6" y="55.6" width="5.0" height="21.2" fill="#d8399d" stroke="#6c1c4e" stroke-width="0.35"/><text transform="translate(1312.4,66) rotate(-90)" font-size="3.8" font-weight="bold" text-anchor="middle" fill="#fff">→p169</text><path d="M1314.18 57.30L1315.38 56.10L1316.59 57.30L1315.38 58.50Z" fill="#81225e"/><rect x="1298.9" y="55" width="4" height="22" fill="url(#pMB)" stroke="#2a1208" stroke-width="0.3"/><text transform="translate(1297.8,66.2) rotate(-90)" font-size="4.6" font-weight="bold" text-anchor="middle" fill="#2a2a2a" stroke="#2a2a2a" stroke-width="0.18">p1 (134)</text><text transform="translate(1306.8,66) rotate(-90)" font-size="4.1" font-weight="bold" text-anchor="middle" fill="#111" stroke="#111" stroke-width="0.1">MB</text>
<rect x="1293.4" y="98" width="20" height="22" fill="#fffff5" fill-opacity="0.62"/><rect x="1298.9" y="98" width="4" height="22" fill="url(#pW)" stroke="#3a3a3a" stroke-width="0.45"/><text transform="translate(1297.8,109.2) rotate(-90)" font-size="4.6" font-weight="bold" text-anchor="middle" fill="#2a2a2a" stroke="#2a2a2a" stroke-width="0.18">p2 (7)</text><text transform="translate(1306.8,109) rotate(-90)" font-size="4.1" font-weight="bold" text-anchor="middle" fill="#111" stroke="#111" stroke-width="0.1">W</text>
<rect x="1293.4" y="141" width="20" height="22" fill="#fffff5" fill-opacity="0.62"/><rect x="1298.9" y="141" width="4" height="22" fill="url(#pAB)" stroke="#2a1208" stroke-width="0.3"/><text transform="translate(1297.8,152.2) rotate(-90)" font-size="4.6" font-weight="bold" text-anchor="middle" fill="#2a2a2a" stroke="#2a2a2a" stroke-width="0.18">p3 (0)</text><text transform="translate(1306.8,152) rotate(-90)" font-size="4.1" font-weight="bold" text-anchor="middle" fill="#111" stroke="#111" stroke-width="0.1">AB</text>
<rect x="1293.4" y="184" width="20" height="22" fill="#fffff5" fill-opacity="0.62"/><rect x="1298.9" y="184" width="4" height="22" fill="url(#pWAB)" stroke="#3a3a3a" stroke-width="0.45"/><text transform="translate(1297.8,195.2) rotate(-90)" font-size="4.6" font-weight="bold" text-anchor="middle" fill="#2a2a2a" stroke="#2a2a2a" stroke-width="0.18">p4 (6)</text><text transform="translate(1306.8,195) rotate(-90)" font-size="4.1" font-weight="bold" text-anchor="middle" fill="#111" stroke="#111" stroke-width="0.1">WAB</text>
<rect x="1339.8" y="55.1" width="20.4" height="22.2" rx="0.8" fill="#fff" stroke="#505050" stroke-width="0.8"/><rect x="1355.1" y="55.6" width="5.0" height="21.2" fill="#8e8ef2" stroke="#474779" stroke-width="0.35"/><text transform="translate(1358.9,66) rotate(-90)" font-size="3.8" font-weight="bold" text-anchor="middle" fill="#fff">→p174</text><path d="M1360.74 57.30L1361.94 56.10L1363.14 57.30L1361.94 58.50Z" fill="#555591"/><rect x="1345.4" y="55" width="4" height="22" fill="url(#pAB)" stroke="#2a1208" stroke-width="0.3"/><text transform="translate(1344.3,66.2) rotate(-90)" font-size="4.6" font-weight="bold" text-anchor="middle" fill="#2a2a2a" stroke="#2a2a2a" stroke-width="0.18">p1 (100)</text><text transform="translate(1353.3,66) rotate(-90)" font-size="4.1" font-weight="bold" text-anchor="middle" fill="#111" stroke="#111" stroke-width="0.1">AB</text>
<rect x="1339.9" y="98" width="20" height="22" fill="#fffff5" fill-opacity="0.62"/><rect x="1345.4" y="98" width="4" height="22" fill="url(#pW)" stroke="#3a3a3a" stroke-width="0.45"/><text transform="translate(1344.3,109.2) rotate(-90)" font-size="4.6" font-weight="bold" text-anchor="middle" fill="#2a2a2a" stroke="#2a2a2a" stroke-width="0.18">p2 (2)</text><text transform="translate(1353.3,109) rotate(-90)" font-size="4.1" font-weight="bold" text-anchor="middle" fill="#111" stroke="#111" stroke-width="0.1">W</text>
<rect x="1339.8" y="141.1" width="20.4" height="22.2" rx="0.8" fill="#fff" stroke="#505050" stroke-width="0.8"/><rect x="1355.1" y="141.6" width="5.0" height="21.2" fill="#8e8ef2" stroke="#474779" stroke-width="0.35"/><text transform="translate(1358.9,152) rotate(-90)" font-size="3.8" font-weight="bold" text-anchor="middle" fill="#fff">→p170</text><path d="M1360.74 143.30L1361.94 142.10L1363.14 143.30L1361.94 144.50Z" fill="#555591"/><rect x="1345.4" y="141" width="4" height="22" fill="url(#pAB)" stroke="#2a1208" stroke-width="0.3"/><text transform="translate(1344.3,152.2) rotate(-90)" font-size="4.6" font-weight="bold" text-anchor="middle" fill="#2a2a2a" stroke="#2a2a2a" stroke-width="0.18">p3 (17)</text><text transform="translate(1353.3,152) rotate(-90)" font-size="4.1" font-weight="bold" text-anchor="middle" fill="#111" stroke="#111" stroke-width="0.1">AB</text>
<rect x="1339.8" y="184.1" width="20.4" height="22.2" rx="0.8" fill="#fff" stroke="#505050" stroke-width="0.8"/><rect x="1355.1" y="184.6" width="5.0" height="21.2" fill="#8e8ef2" stroke="#474779" stroke-width="0.35"/><text transform="translate(1358.9,195) rotate(-90)" font-size="3.8" font-weight="bold" text-anchor="middle" fill="#fff">→p178</text><path d="M1360.74 186.30L1361.94 185.10L1363.14 186.30L1361.94 187.50Z" fill="#555591"/><rect x="1345.4" y="184" width="4" height="22" fill="url(#pWAB)" stroke="#3a3a3a" stroke-width="0.45"/><text transform="translate(1344.3,195.2) rotate(-90)" font-size="4.6" font-weight="bold" text-anchor="middle" fill="#2a2a2a" stroke="#2a2a2a" stroke-width="0.18">p4 (14)</text><text transform="translate(1353.3,195) rotate(-90)" font-size="4.1" font-weight="bold" text-anchor="middle" fill="#111" stroke="#111" stroke-width="0.1">WAB</text>
<rect x="1386.5" y="55" width="20" height="22" fill="#fffff5" fill-opacity="0.62"/><rect x="1392.0" y="55" width="4" height="22" fill="url(#pWAB)" stroke="#3a3a3a" stroke-width="0.45"/><text transform="translate(1390.9,66.2) rotate(-90)" font-size="4.6" font-weight="bold" text-anchor="middle" fill="#2a2a2a" stroke="#2a2a2a" stroke-width="0.18">p1 (0)</text><text transform="translate(1399.9,66) rotate(-90)" font-size="4.1" font-weight="bold" text-anchor="middle" fill="#111" stroke="#111" stroke-width="0.1">WAB</text>
<rect x="1386.5" y="98" width="20" height="22" fill="#fffff5" fill-opacity="0.62"/><rect x="1392.0" y="98" width="4" height="22" fill="url(#pW)" stroke="#3a3a3a" stroke-width="0.45"/><text transform="translate(1390.9,109.2) rotate(-90)" font-size="4.6" font-weight="bold" text-anchor="middle" fill="#2a2a2a" stroke="#2a2a2a" stroke-width="0.18">p2 (0)</text><text transform="translate(1399.9,109) rotate(-90)" font-size="4.1" font-weight="bold" text-anchor="middle" fill="#111" stroke="#111" stroke-width="0.1">W</text>
<rect x="1386.4" y="141.1" width="20.4" height="22.2" rx="0.8" fill="#fff" stroke="#505050" stroke-width="0.8"/><rect x="1401.7" y="141.6" width="5.0" height="21.2" fill="#52d35a" stroke="#29692d" stroke-width="0.35"/><text transform="translate(1405.5,152) rotate(-90)" font-size="3.8" font-weight="bold" text-anchor="middle" fill="#1a3a10">→p170</text><path d="M1407.30 143.30L1408.50 142.10L1409.70 143.30L1408.50 144.50Z" fill="#317e36"/><rect x="1392.0" y="141" width="4" height="22" fill="url(#pMB)" stroke="#2a1208" stroke-width="0.3"/><text transform="translate(1390.9,152.2) rotate(-90)" font-size="4.6" font-weight="bold" text-anchor="middle" fill="#2a2a2a" stroke="#2a2a2a" stroke-width="0.18">p3 (14)</text><text transform="translate(1399.9,152) rotate(-90)" font-size="4.1" font-weight="bold" text-anchor="middle" fill="#111" stroke="#111" stroke-width="0.1">MB</text>
<rect x="1433.1" y="55" width="20" height="22" fill="#fffff5" fill-opacity="0.62"/><rect x="1438.6" y="55" width="4" height="22" fill="url(#pW)" stroke="#3a3a3a" stroke-width="0.45"/><text transform="translate(1437.5,66.2) rotate(-90)" font-size="4.6" font-weight="bold" text-anchor="middle" fill="#2a2a2a" stroke="#2a2a2a" stroke-width="0.18">p1 (38)</text><text transform="translate(1446.5,66) rotate(-90)" font-size="4.1" font-weight="bold" text-anchor="middle" fill="#111" stroke="#111" stroke-width="0.1">W</text>
<rect x="1433.1" y="98" width="20" height="22" fill="#fffff5" fill-opacity="0.62"/><rect x="1438.6" y="98" width="4" height="22" fill="url(#pAB)" stroke="#2a1208" stroke-width="0.3"/><text transform="translate(1437.5,109.2) rotate(-90)" font-size="4.6" font-weight="bold" text-anchor="middle" fill="#2a2a2a" stroke="#2a2a2a" stroke-width="0.18">p2 (16)</text><text transform="translate(1446.5,109) rotate(-90)" font-size="4.1" font-weight="bold" text-anchor="middle" fill="#111" stroke="#111" stroke-width="0.1">AB</text>
<rect x="1433.1" y="141" width="20" height="22" fill="#fffff5" fill-opacity="0.62"/><rect x="1438.6" y="141" width="4" height="22" fill="url(#pAB)" stroke="#2a1208" stroke-width="0.3"/><text transform="translate(1437.5,152.2) rotate(-90)" font-size="4.6" font-weight="bold" text-anchor="middle" fill="#2a2a2a" stroke="#2a2a2a" stroke-width="0.18">p3 (0)</text><text transform="translate(1446.5,152) rotate(-90)" font-size="4.1" font-weight="bold" text-anchor="middle" fill="#111" stroke="#111" stroke-width="0.1">AB</text>
<rect x="1433.1" y="184" width="20" height="22" fill="#fffff5" fill-opacity="0.62"/><rect x="1438.6" y="184" width="4" height="22" fill="url(#pW)" stroke="#3a3a3a" stroke-width="0.45"/><text transform="translate(1437.5,195.2) rotate(-90)" font-size="4.6" font-weight="bold" text-anchor="middle" fill="#2a2a2a" stroke="#2a2a2a" stroke-width="0.18">p4 (0)</text><text transform="translate(1446.5,195) rotate(-90)" font-size="4.1" font-weight="bold" text-anchor="middle" fill="#111" stroke="#111" stroke-width="0.1">W</text>
<rect x="1433.1" y="227" width="20" height="22" fill="#fffff5" fill-opacity="0.62"/><rect x="1438.6" y="227" width="4" height="22" fill="url(#pMB)" stroke="#2a1208" stroke-width="0.3"/><text transform="translate(1437.5,238.2) rotate(-90)" font-size="4.6" font-weight="bold" text-anchor="middle" fill="#2a2a2a" stroke="#2a2a2a" stroke-width="0.18">p5 (18)</text><text transform="translate(1446.5,238) rotate(-90)" font-size="4.1" font-weight="bold" text-anchor="middle" fill="#111" stroke="#111" stroke-width="0.1">MB</text>
<rect x="1433.1" y="270" width="20" height="22" fill="#fffff5" fill-opacity="0.62"/><rect x="1438.6" y="270" width="4" height="22" fill="url(#pWAB)" stroke="#3a3a3a" stroke-width="0.45"/><text transform="translate(1437.5,281.2) rotate(-90)" font-size="4.6" font-weight="bold" text-anchor="middle" fill="#2a2a2a" stroke="#2a2a2a" stroke-width="0.18">p6 (18)</text><text transform="translate(1446.5,281) rotate(-90)" font-size="4.1" font-weight="bold" text-anchor="middle" fill="#111" stroke="#111" stroke-width="0.1">WAB</text>
<rect x="1479.6" y="55" width="20" height="22" fill="#fffff5" fill-opacity="0.62"/><rect x="1485.1" y="55" width="4" height="22" fill="url(#pW)" stroke="#3a3a3a" stroke-width="0.45"/><text transform="translate(1484.0,66.2) rotate(-90)" font-size="4.6" font-weight="bold" text-anchor="middle" fill="#2a2a2a" stroke="#2a2a2a" stroke-width="0.18">p1 (8)</text><text transform="translate(1493.0,66) rotate(-90)" font-size="4.1" font-weight="bold" text-anchor="middle" fill="#111" stroke="#111" stroke-width="0.1">W</text>
<rect x="1479.6" y="98" width="20" height="22" fill="#fffff5" fill-opacity="0.62"/><rect x="1485.1" y="98" width="4" height="22" fill="url(#pAB)" stroke="#2a1208" stroke-width="0.3"/><text transform="translate(1484.0,109.2) rotate(-90)" font-size="4.6" font-weight="bold" text-anchor="middle" fill="#2a2a2a" stroke="#2a2a2a" stroke-width="0.18">p2 (33)</text><text transform="translate(1493.0,109) rotate(-90)" font-size="4.1" font-weight="bold" text-anchor="middle" fill="#111" stroke="#111" stroke-width="0.1">AB</text>
<rect x="1479.6" y="141" width="20" height="22" fill="#fffff5" fill-opacity="0.62"/><rect x="1485.1" y="141" width="4" height="22" fill="url(#pWAB)" stroke="#3a3a3a" stroke-width="0.45"/><text transform="translate(1484.0,152.2) rotate(-90)" font-size="4.6" font-weight="bold" text-anchor="middle" fill="#2a2a2a" stroke="#2a2a2a" stroke-width="0.18">p3 (38)</text><text transform="translate(1493.0,152) rotate(-90)" font-size="4.1" font-weight="bold" text-anchor="middle" fill="#111" stroke="#111" stroke-width="0.1">WAB</text>
<rect x="1526.2" y="55" width="20" height="22" fill="#fffff5" fill-opacity="0.62"/><rect x="1531.7" y="55" width="4" height="22" fill="url(#pW)" stroke="#3a3a3a" stroke-width="0.45"/><text transform="translate(1530.6,66.2) rotate(-90)" font-size="4.6" font-weight="bold" text-anchor="middle" fill="#2a2a2a" stroke="#2a2a2a" stroke-width="0.18">p1 (8)</text><text transform="translate(1539.6,66) rotate(-90)" font-size="4.1" font-weight="bold" text-anchor="middle" fill="#111" stroke="#111" stroke-width="0.1">W</text>
<rect x="1526.1" y="98.1" width="20.4" height="22.2" rx="0.8" fill="#fff" stroke="#505050" stroke-width="0.8"/><rect x="1541.4" y="98.6" width="5.0" height="21.2" fill="#e6c12e" stroke="#736017" stroke-width="0.35"/><text transform="translate(1545.2,109) rotate(-90)" font-size="3.8" font-weight="bold" text-anchor="middle" fill="#1a3a10">→p196</text><path d="M1546.96 100.30L1548.16 99.10L1549.36 100.30L1548.16 101.50Z" fill="#8a731b"/><rect x="1531.7" y="98" width="4" height="22" fill="url(#pAB)" stroke="#2a1208" stroke-width="0.3"/><text transform="translate(1530.6,109.2) rotate(-90)" font-size="4.6" font-weight="bold" text-anchor="middle" fill="#2a2a2a" stroke="#2a2a2a" stroke-width="0.18">p2 (25)</text><text transform="translate(1539.6,109) rotate(-90)" font-size="4.1" font-weight="bold" text-anchor="middle" fill="#111" stroke="#111" stroke-width="0.1">AB</text>
<rect x="1526.2" y="141" width="20" height="22" fill="#fffff5" fill-opacity="0.62"/><rect x="1531.7" y="141" width="4" height="22" fill="url(#pWAB)" stroke="#3a3a3a" stroke-width="0.45"/><text transform="translate(1530.6,152.2) rotate(-90)" font-size="4.6" font-weight="bold" text-anchor="middle" fill="#2a2a2a" stroke="#2a2a2a" stroke-width="0.18">p3 (4)</text><text transform="translate(1539.6,152) rotate(-90)" font-size="4.1" font-weight="bold" text-anchor="middle" fill="#111" stroke="#111" stroke-width="0.1">WAB</text>
<rect x="1526.2" y="184" width="20" height="22" fill="#fffff5" fill-opacity="0.62"/><rect x="1531.7" y="184" width="4" height="22" fill="url(#pWAB)" stroke="#3a3a3a" stroke-width="0.45"/><text transform="translate(1530.6,195.2) rotate(-90)" font-size="4.6" font-weight="bold" text-anchor="middle" fill="#2a2a2a" stroke="#2a2a2a" stroke-width="0.18">p4 (4)</text><text transform="translate(1539.6,195) rotate(-90)" font-size="4.1" font-weight="bold" text-anchor="middle" fill="#111" stroke="#111" stroke-width="0.1">WAB</text>
<rect x="1572.7" y="55" width="20" height="22" fill="#fffff5" fill-opacity="0.62"/><rect x="1578.2" y="55" width="4" height="22" fill="url(#pW)" stroke="#3a3a3a" stroke-width="0.45"/><text transform="translate(1577.1,66.2) rotate(-90)" font-size="4.6" font-weight="bold" text-anchor="middle" fill="#2a2a2a" stroke="#2a2a2a" stroke-width="0.18">p1 (2)</text><text transform="translate(1586.1,66) rotate(-90)" font-size="4.1" font-weight="bold" text-anchor="middle" fill="#111" stroke="#111" stroke-width="0.1">W</text>
<rect x="1572.7" y="98" width="20" height="22" fill="#fffff5" fill-opacity="0.62"/><rect x="1578.2" y="98" width="4" height="22" fill="url(#pAB)" stroke="#2a1208" stroke-width="0.3"/><text transform="translate(1577.1,109.2) rotate(-90)" font-size="4.6" font-weight="bold" text-anchor="middle" fill="#2a2a2a" stroke="#2a2a2a" stroke-width="0.18">p2 (10)</text><text transform="translate(1586.1,109) rotate(-90)" font-size="4.1" font-weight="bold" text-anchor="middle" fill="#111" stroke="#111" stroke-width="0.1">AB</text>
<rect x="1572.7" y="141" width="20" height="22" fill="#fffff5" fill-opacity="0.62"/><rect x="1578.2" y="141" width="4" height="22" fill="url(#pWAB)" stroke="#3a3a3a" stroke-width="0.45"/><text transform="translate(1577.1,152.2) rotate(-90)" font-size="4.6" font-weight="bold" text-anchor="middle" fill="#2a2a2a" stroke="#2a2a2a" stroke-width="0.18">p3 (1)</text><text transform="translate(1586.1,152) rotate(-90)" font-size="4.1" font-weight="bold" text-anchor="middle" fill="#111" stroke="#111" stroke-width="0.1">WAB</text>
<rect x="1619.3" y="55" width="20" height="22" fill="#fffff5" fill-opacity="0.62"/><rect x="1624.8" y="55" width="4" height="22" fill="url(#pW)" stroke="#3a3a3a" stroke-width="0.45"/><text transform="translate(1623.7,66.2) rotate(-90)" font-size="4.6" font-weight="bold" text-anchor="middle" fill="#2a2a2a" stroke="#2a2a2a" stroke-width="0.18">p1 (15)</text><text transform="translate(1632.7,66) rotate(-90)" font-size="4.1" font-weight="bold" text-anchor="middle" fill="#111" stroke="#111" stroke-width="0.1">W</text>
<rect x="1619.3" y="98" width="20" height="22" fill="#fffff5" fill-opacity="0.62"/><rect x="1624.8" y="98" width="4" height="22" fill="url(#pMB)" stroke="#2a1208" stroke-width="0.3"/><text transform="translate(1623.7,109.2) rotate(-90)" font-size="4.6" font-weight="bold" text-anchor="middle" fill="#2a2a2a" stroke="#2a2a2a" stroke-width="0.18">p2 (16)</text><text transform="translate(1632.7,109) rotate(-90)" font-size="4.1" font-weight="bold" text-anchor="middle" fill="#111" stroke="#111" stroke-width="0.1">MB</text>
<rect x="1619.3" y="141" width="20" height="22" fill="#fffff5" fill-opacity="0.62"/><rect x="1624.8" y="141" width="4" height="22" fill="url(#pWAB)" stroke="#3a3a3a" stroke-width="0.45"/><text transform="translate(1623.7,152.2) rotate(-90)" font-size="4.6" font-weight="bold" text-anchor="middle" fill="#2a2a2a" stroke="#2a2a2a" stroke-width="0.18">p3 (28)</text><text transform="translate(1632.7,152) rotate(-90)" font-size="4.1" font-weight="bold" text-anchor="middle" fill="#111" stroke="#111" stroke-width="0.1">WAB</text>
<rect x="1619.3" y="184" width="20" height="22" fill="#fffff5" fill-opacity="0.62"/><rect x="1624.8" y="184" width="4" height="22" fill="url(#pMB)" stroke="#2a1208" stroke-width="0.3"/><text transform="translate(1623.7,195.2) rotate(-90)" font-size="4.6" font-weight="bold" text-anchor="middle" fill="#2a2a2a" stroke="#2a2a2a" stroke-width="0.18">p4 (28)</text><text transform="translate(1632.7,195) rotate(-90)" font-size="4.1" font-weight="bold" text-anchor="middle" fill="#111" stroke="#111" stroke-width="0.1">MB</text>
<rect x="1665.8" y="55" width="20" height="22" fill="#fffff5" fill-opacity="0.62"/><rect x="1671.3" y="55" width="4" height="22" fill="url(#pW)" stroke="#3a3a3a" stroke-width="0.45"/><text transform="translate(1670.2,66.2) rotate(-90)" font-size="4.6" font-weight="bold" text-anchor="middle" fill="#2a2a2a" stroke="#2a2a2a" stroke-width="0.18">p1 (18)</text><text transform="translate(1679.2,66) rotate(-90)" font-size="4.1" font-weight="bold" text-anchor="middle" fill="#111" stroke="#111" stroke-width="0.1">W</text>
<rect x="1665.8" y="98" width="20" height="22" fill="#fffff5" fill-opacity="0.62"/><rect x="1671.3" y="98" width="4" height="22" fill="url(#pAB)" stroke="#2a1208" stroke-width="0.3"/><text transform="translate(1670.2,109.2) rotate(-90)" font-size="4.6" font-weight="bold" text-anchor="middle" fill="#2a2a2a" stroke="#2a2a2a" stroke-width="0.18">p2 (0)</text><text transform="translate(1679.2,109) rotate(-90)" font-size="4.1" font-weight="bold" text-anchor="middle" fill="#111" stroke="#111" stroke-width="0.1">AB</text>
<rect x="1665.8" y="141" width="20" height="22" fill="#fffff5" fill-opacity="0.62"/><rect x="1671.3" y="141" width="4" height="22" fill="url(#pWAB)" stroke="#3a3a3a" stroke-width="0.45"/><text transform="translate(1670.2,152.2) rotate(-90)" font-size="4.6" font-weight="bold" text-anchor="middle" fill="#2a2a2a" stroke="#2a2a2a" stroke-width="0.18">p3 (28)</text><text transform="translate(1679.2,152) rotate(-90)" font-size="4.1" font-weight="bold" text-anchor="middle" fill="#111" stroke="#111" stroke-width="0.1">WAB</text>
<rect x="1712.4" y="55" width="20" height="22" fill="#fffff5" fill-opacity="0.62"/><rect x="1717.9" y="55" width="4" height="22" fill="url(#pWAB)" stroke="#3a3a3a" stroke-width="0.45"/><text transform="translate(1716.8,66.2) rotate(-90)" font-size="4.6" font-weight="bold" text-anchor="middle" fill="#2a2a2a" stroke="#2a2a2a" stroke-width="0.18">p1 (28)</text><text transform="translate(1725.8,66) rotate(-90)" font-size="4.1" font-weight="bold" text-anchor="middle" fill="#111" stroke="#111" stroke-width="0.1">WAB</text>
<rect x="1758.9" y="55" width="20" height="22" fill="#fffff5" fill-opacity="0.62"/><rect x="1764.4" y="55" width="4" height="22" fill="url(#pW)" stroke="#3a3a3a" stroke-width="0.45"/><text transform="translate(1763.3,66.2) rotate(-90)" font-size="4.6" font-weight="bold" text-anchor="middle" fill="#2a2a2a" stroke="#2a2a2a" stroke-width="0.18">p1 (12)</text><text transform="translate(1772.3,66) rotate(-90)" font-size="4.1" font-weight="bold" text-anchor="middle" fill="#111" stroke="#111" stroke-width="0.1">W</text>
<rect x="1758.9" y="98" width="20" height="22" fill="#fffff5" fill-opacity="0.62"/><rect x="1764.4" y="98" width="4" height="22" fill="url(#pMB)" stroke="#2a1208" stroke-width="0.3"/><text transform="translate(1763.3,109.2) rotate(-90)" font-size="4.6" font-weight="bold" text-anchor="middle" fill="#2a2a2a" stroke="#2a2a2a" stroke-width="0.18">p2 (15)</text><text transform="translate(1772.3,109) rotate(-90)" font-size="4.1" font-weight="bold" text-anchor="middle" fill="#111" stroke="#111" stroke-width="0.1">MB</text>
<rect x="1758.9" y="141" width="20" height="22" fill="#fffff5" fill-opacity="0.62"/><rect x="1764.4" y="141" width="4" height="22" fill="url(#pWAB)" stroke="#3a3a3a" stroke-width="0.45"/><text transform="translate(1763.3,152.2) rotate(-90)" font-size="4.6" font-weight="bold" text-anchor="middle" fill="#2a2a2a" stroke="#2a2a2a" stroke-width="0.18">p3 (28)</text><text transform="translate(1772.3,152) rotate(-90)" font-size="4.1" font-weight="bold" text-anchor="middle" fill="#111" stroke="#111" stroke-width="0.1">WAB</text>
<rect x="1758.8" y="184.1" width="20.4" height="22.2" rx="0.8" fill="#fff" stroke="#505050" stroke-width="0.8"/><rect x="1774.1" y="184.6" width="5.0" height="21.2" fill="#5b55da" stroke="#2d2a6d" stroke-width="0.35"/><text transform="translate(1777.9,195) rotate(-90)" font-size="3.8" font-weight="bold" text-anchor="middle" fill="#fff">→p198</text><path d="M1779.74 186.30L1780.94 185.10L1782.14 186.30L1780.94 187.50Z" fill="#363382"/><rect x="1764.4" y="184" width="4" height="22" fill="url(#pWAB)" stroke="#3a3a3a" stroke-width="0.45"/><text transform="translate(1763.3,195.2) rotate(-90)" font-size="4.6" font-weight="bold" text-anchor="middle" fill="#2a2a2a" stroke="#2a2a2a" stroke-width="0.18">p4 (28)</text><text transform="translate(1772.3,195) rotate(-90)" font-size="4.1" font-weight="bold" text-anchor="middle" fill="#111" stroke="#111" stroke-width="0.1">WAB</text>
<rect x="1758.9" y="227" width="20" height="22" fill="#fffff5" fill-opacity="0.62"/><rect x="1764.4" y="227" width="4" height="22" fill="url(#pW)" stroke="#3a3a3a" stroke-width="0.45"/><text transform="translate(1763.3,238.2) rotate(-90)" font-size="4.6" font-weight="bold" text-anchor="middle" fill="#2a2a2a" stroke="#2a2a2a" stroke-width="0.18">p5 (0)</text><text transform="translate(1772.3,238) rotate(-90)" font-size="4.1" font-weight="bold" text-anchor="middle" fill="#111" stroke="#111" stroke-width="0.1">W</text>
<rect x="1758.9" y="270" width="20" height="22" fill="#fffff5" fill-opacity="0.62"/><rect x="1764.4" y="270" width="4" height="22" fill="url(#pAB)" stroke="#2a1208" stroke-width="0.3"/><text transform="translate(1763.3,281.2) rotate(-90)" font-size="4.6" font-weight="bold" text-anchor="middle" fill="#2a2a2a" stroke="#2a2a2a" stroke-width="0.18">p6 (15)</text><text transform="translate(1772.3,281) rotate(-90)" font-size="4.1" font-weight="bold" text-anchor="middle" fill="#111" stroke="#111" stroke-width="0.1">AB</text>
<rect x="1758.9" y="313" width="20" height="22" fill="#fffff5" fill-opacity="0.62"/><rect x="1764.4" y="313" width="4" height="22" fill="url(#pWAB)" stroke="#3a3a3a" stroke-width="0.45"/><text transform="translate(1763.3,324.2) rotate(-90)" font-size="4.6" font-weight="bold" text-anchor="middle" fill="#2a2a2a" stroke="#2a2a2a" stroke-width="0.18">p7 (28)</text><text transform="translate(1772.3,324) rotate(-90)" font-size="4.1" font-weight="bold" text-anchor="middle" fill="#111" stroke="#111" stroke-width="0.1">WAB</text>
<rect x="1758.8" y="356.1" width="20.4" height="22.2" rx="0.8" fill="#fff" stroke="#505050" stroke-width="0.8"/><rect x="1774.1" y="356.6" width="5.0" height="21.2" fill="#5b55da" stroke="#2d2a6d" stroke-width="0.35"/><text transform="translate(1777.9,367) rotate(-90)" font-size="3.8" font-weight="bold" text-anchor="middle" fill="#fff">→p200</text><path d="M1779.74 358.30L1780.94 357.10L1782.14 358.30L1780.94 359.50Z" fill="#363382"/><rect x="1764.4" y="356" width="4" height="22" fill="url(#pW)" stroke="#3a3a3a" stroke-width="0.45"/><text transform="translate(1763.3,367.2) rotate(-90)" font-size="4.6" font-weight="bold" text-anchor="middle" fill="#2a2a2a" stroke="#2a2a2a" stroke-width="0.18">p8 (15)</text><text transform="translate(1772.3,367) rotate(-90)" font-size="4.1" font-weight="bold" text-anchor="middle" fill="#111" stroke="#111" stroke-width="0.1">W</text>
<g opacity="0.16"><rect x="1805.5" y="55" width="20" height="22" fill="#fffff5" fill-opacity="0.62"/><rect x="1811.0" y="55" width="4" height="22" fill="url(#pW)" stroke="#3a3a3a" stroke-width="0.45"/><text transform="translate(1809.9,66.2) rotate(-90)" font-size="4.6" font-weight="bold" text-anchor="middle" fill="#2a2a2a" stroke="#2a2a2a" stroke-width="0.18">p1 (0)</text><text transform="translate(1818.9,66) rotate(-90)" font-size="4.1" font-weight="bold" text-anchor="middle" fill="#111" stroke="#111" stroke-width="0.1">W</text></g>
<rect x="1852.0" y="55" width="20" height="22" fill="#fffff5" fill-opacity="0.62"/><rect x="1857.5" y="55" width="4" height="22" fill="url(#pW)" stroke="#3a3a3a" stroke-width="0.45"/><text transform="translate(1856.4,66.2) rotate(-90)" font-size="4.6" font-weight="bold" text-anchor="middle" fill="#2a2a2a" stroke="#2a2a2a" stroke-width="0.18">p1 (2)</text><text transform="translate(1865.4,66) rotate(-90)" font-size="4.1" font-weight="bold" text-anchor="middle" fill="#111" stroke="#111" stroke-width="0.1">W</text>
<rect x="1852.0" y="98" width="20" height="22" fill="#fffff5" fill-opacity="0.62"/><rect x="1857.5" y="98" width="4" height="22" fill="url(#pAB)" stroke="#2a1208" stroke-width="0.3"/><text transform="translate(1856.4,109.2) rotate(-90)" font-size="4.6" font-weight="bold" text-anchor="middle" fill="#2a2a2a" stroke="#2a2a2a" stroke-width="0.18">p2 (8)</text><text transform="translate(1865.4,109) rotate(-90)" font-size="4.1" font-weight="bold" text-anchor="middle" fill="#111" stroke="#111" stroke-width="0.1">AB</text>
<rect x="1852.0" y="141" width="20" height="22" fill="#fffff5" fill-opacity="0.62"/><rect x="1857.5" y="141" width="4" height="22" fill="url(#pAB)" stroke="#2a1208" stroke-width="0.3"/><text transform="translate(1856.4,152.2) rotate(-90)" font-size="4.6" font-weight="bold" text-anchor="middle" fill="#2a2a2a" stroke="#2a2a2a" stroke-width="0.18">p3 (2)</text><text transform="translate(1865.4,152) rotate(-90)" font-size="4.1" font-weight="bold" text-anchor="middle" fill="#111" stroke="#111" stroke-width="0.1">AB</text>
<g opacity="0.16"><rect x="1898.6" y="55" width="20" height="22" fill="#fffff5" fill-opacity="0.62"/><rect x="1904.1" y="55" width="4" height="22" fill="url(#pW)" stroke="#3a3a3a" stroke-width="0.45"/><text transform="translate(1903.0,66.2) rotate(-90)" font-size="4.6" font-weight="bold" text-anchor="middle" fill="#2a2a2a" stroke="#2a2a2a" stroke-width="0.18">p1 (0)</text><text transform="translate(1912.0,66) rotate(-90)" font-size="4.1" font-weight="bold" text-anchor="middle" fill="#111" stroke="#111" stroke-width="0.1">W</text></g>
<g opacity="0.16"><rect x="1898.6" y="98" width="20" height="22" fill="#fffff5" fill-opacity="0.62"/><rect x="1904.1" y="98" width="4" height="22" fill="url(#pAB)" stroke="#2a1208" stroke-width="0.3"/><text transform="translate(1903.0,109.2) rotate(-90)" font-size="4.6" font-weight="bold" text-anchor="middle" fill="#2a2a2a" stroke="#2a2a2a" stroke-width="0.18">p2 (0)</text><text transform="translate(1912.0,109) rotate(-90)" font-size="4.1" font-weight="bold" text-anchor="middle" fill="#111" stroke="#111" stroke-width="0.1">AB</text></g>
<g opacity="0.16"><rect x="1898.6" y="141" width="20" height="22" fill="#fffff5" fill-opacity="0.62"/><rect x="1904.1" y="141" width="4" height="22" fill="url(#pAB)" stroke="#2a1208" stroke-width="0.3"/><text transform="translate(1903.0,152.2) rotate(-90)" font-size="4.6" font-weight="bold" text-anchor="middle" fill="#2a2a2a" stroke="#2a2a2a" stroke-width="0.18">p3 (0)</text><text transform="translate(1912.0,152) rotate(-90)" font-size="4.1" font-weight="bold" text-anchor="middle" fill="#111" stroke="#111" stroke-width="0.1">AB</text></g>
<rect x="1945.2" y="55" width="20" height="22" fill="#fffff5" fill-opacity="0.62"/><rect x="1950.7" y="55" width="4" height="22" fill="url(#pAB)" stroke="#2a1208" stroke-width="0.3"/><text transform="translate(1949.6,66.2) rotate(-90)" font-size="4.6" font-weight="bold" text-anchor="middle" fill="#2a2a2a" stroke="#2a2a2a" stroke-width="0.18">p1 (8)</text><text transform="translate(1958.6,66) rotate(-90)" font-size="4.1" font-weight="bold" text-anchor="middle" fill="#111" stroke="#111" stroke-width="0.1">AB</text>
<rect x="1945.2" y="98" width="20" height="22" fill="#fffff5" fill-opacity="0.62"/><rect x="1950.7" y="98" width="4" height="22" fill="url(#pW)" stroke="#3a3a3a" stroke-width="0.45"/><text transform="translate(1949.6,109.2) rotate(-90)" font-size="4.6" font-weight="bold" text-anchor="middle" fill="#2a2a2a" stroke="#2a2a2a" stroke-width="0.18">p2 (0)</text><text transform="translate(1958.6,109) rotate(-90)" font-size="4.1" font-weight="bold" text-anchor="middle" fill="#111" stroke="#111" stroke-width="0.1">W</text>
<rect x="1945.2" y="141" width="20" height="22" fill="#fffff5" fill-opacity="0.62"/><rect x="1950.7" y="141" width="4" height="22" fill="url(#pW)" stroke="#3a3a3a" stroke-width="0.45"/><text transform="translate(1949.6,152.2) rotate(-90)" font-size="4.6" font-weight="bold" text-anchor="middle" fill="#2a2a2a" stroke="#2a2a2a" stroke-width="0.18">p3 (0)</text><text transform="translate(1958.6,152) rotate(-90)" font-size="4.1" font-weight="bold" text-anchor="middle" fill="#111" stroke="#111" stroke-width="0.1">W</text>
<rect x="1945.2" y="184" width="20" height="22" fill="#fffff5" fill-opacity="0.62"/><rect x="1950.7" y="184" width="4" height="22" fill="url(#pAB)" stroke="#2a1208" stroke-width="0.3"/><text transform="translate(1949.6,195.2) rotate(-90)" font-size="4.6" font-weight="bold" text-anchor="middle" fill="#2a2a2a" stroke="#2a2a2a" stroke-width="0.18">p4 (7)</text><text transform="translate(1958.6,195) rotate(-90)" font-size="4.1" font-weight="bold" text-anchor="middle" fill="#111" stroke="#111" stroke-width="0.1">AB</text>
<rect x="1945.2" y="227" width="20" height="22" fill="#fffff5" fill-opacity="0.62"/><rect x="1950.7" y="227" width="4" height="22" fill="url(#pW)" stroke="#3a3a3a" stroke-width="0.45"/><text transform="translate(1949.6,238.2) rotate(-90)" font-size="4.6" font-weight="bold" text-anchor="middle" fill="#2a2a2a" stroke="#2a2a2a" stroke-width="0.18">p5 (4)</text><text transform="translate(1958.6,238) rotate(-90)" font-size="4.1" font-weight="bold" text-anchor="middle" fill="#111" stroke="#111" stroke-width="0.1">W</text>
<g opacity="0.16"><rect x="1991.7" y="55" width="20" height="22" fill="#fffff5" fill-opacity="0.62"/><rect x="1997.2" y="55" width="4" height="22" fill="url(#pW)" stroke="#3a3a3a" stroke-width="0.45"/><text transform="translate(1996.1,66.2) rotate(-90)" font-size="4.6" font-weight="bold" text-anchor="middle" fill="#2a2a2a" stroke="#2a2a2a" stroke-width="0.18">p1 (0)</text><text transform="translate(2005.1,66) rotate(-90)" font-size="4.1" font-weight="bold" text-anchor="middle" fill="#111" stroke="#111" stroke-width="0.1">W</text></g>
<rect x="298.0" y="98.5" width="17.6" height="4.2" fill="#8e8ef2" stroke="#3f3f6c" stroke-width="0.45"/>
<path d="M294.88 100.60L295.93 99.55L296.98 100.60L295.93 101.65Z" fill="#555591"/>
<text x="306.8" y="101.8" font-size="3.9" font-weight="bold" text-anchor="middle" fill="#fff" textLength="14.5" lengthAdjust="spacingAndGlyphs">→p24</text>
<rect x="298.0" y="184.5" width="17.6" height="4.2" fill="#8e8ef2" stroke="#3f3f6c" stroke-width="0.45"/>
<path d="M294.88 186.60L295.93 185.55L296.98 186.60L295.93 187.65Z" fill="#555591"/>
<text x="306.8" y="187.8" font-size="3.9" font-weight="bold" text-anchor="middle" fill="#fff" textLength="14.5" lengthAdjust="spacingAndGlyphs">→p22</text>
<rect x="344.6" y="141.5" width="17.6" height="4.2" fill="#8e8ef2" stroke="#3f3f6c" stroke-width="0.45"/>
<path d="M341.43 143.60L342.48 142.55L343.53 143.60L342.48 144.65Z" fill="#555591"/>
<text x="353.4" y="144.8" font-size="3.9" font-weight="bold" text-anchor="middle" fill="#fff" textLength="14.5" lengthAdjust="spacingAndGlyphs">→p20</text>
<rect x="344.6" y="184.5" width="17.6" height="4.2" fill="#4a86e8" stroke="#213c68" stroke-width="0.45"/>
<path d="M341.43 186.60L342.48 185.55L343.53 186.60L342.48 187.65Z" fill="#2c508b"/>
<text x="353.4" y="187.8" font-size="3.9" font-weight="bold" text-anchor="middle" fill="#fff" textLength="14.5" lengthAdjust="spacingAndGlyphs">→p36</text>
<rect x="344.6" y="227.5" width="17.6" height="4.2" fill="#52d35a" stroke="#245e28" stroke-width="0.45"/>
<path d="M341.43 229.60L342.48 228.55L343.53 229.60L342.48 230.65Z" fill="#317e36"/>
<text x="353.4" y="230.8" font-size="3.9" font-weight="bold" text-anchor="middle" fill="#1a3a10" textLength="14.5" lengthAdjust="spacingAndGlyphs">→p26</text>
<rect x="391.1" y="141.5" width="17.6" height="4.2" fill="#7d4fc1" stroke="#382356" stroke-width="0.45"/>
<path d="M387.99 143.60L389.04 142.55L390.09 143.60L389.04 144.65Z" fill="#4b2f73"/>
<text x="399.9" y="144.8" font-size="3.9" font-weight="bold" text-anchor="middle" fill="#fff" textLength="14.5" lengthAdjust="spacingAndGlyphs">→p38</text>
<rect x="437.7" y="98.5" width="17.6" height="4.2" fill="#4a86e8" stroke="#213c68" stroke-width="0.45"/>
<path d="M434.54 100.60L435.59 99.55L436.64 100.60L435.59 101.65Z" fill="#2c508b"/>
<text x="446.5" y="101.8" font-size="3.9" font-weight="bold" text-anchor="middle" fill="#fff" textLength="14.5" lengthAdjust="spacingAndGlyphs">→p31</text>
<rect x="437.7" y="184.5" width="17.6" height="4.2" fill="#7d4fc1" stroke="#382356" stroke-width="0.45"/>
<path d="M434.54 186.60L435.59 185.55L436.64 186.60L435.59 187.65Z" fill="#4b2f73"/>
<text x="446.5" y="187.8" font-size="3.9" font-weight="bold" text-anchor="middle" fill="#fff" textLength="14.5" lengthAdjust="spacingAndGlyphs">→p42</text>
<rect x="484.2" y="55.5" width="17.6" height="4.2" fill="#52d35a" stroke="#245e28" stroke-width="0.45"/>
<path d="M481.10 57.60L482.15 56.55L483.20 57.60L482.15 58.65Z" fill="#317e36"/>
<text x="493.1" y="58.8" font-size="3.9" font-weight="bold" text-anchor="middle" fill="#1a3a10" textLength="14.5" lengthAdjust="spacingAndGlyphs">→p28</text>
<rect x="530.8" y="270.5" width="17.6" height="4.2" fill="#438f6e" stroke="#1e4031" stroke-width="0.45"/>
<path d="M527.66 272.60L528.71 271.55L529.75 272.60L528.71 273.65Z" fill="#285542"/>
<text x="539.6" y="273.8" font-size="3.9" font-weight="bold" text-anchor="middle" fill="#fff" textLength="14.5" lengthAdjust="spacingAndGlyphs">→p60</text>
<rect x="577.4" y="141.5" width="17.6" height="4.2" fill="#9ade55" stroke="#456326" stroke-width="0.45"/>
<path d="M574.21 143.60L575.26 142.55L576.31 143.60L575.26 144.65Z" fill="#5c8533"/>
<text x="586.2" y="144.8" font-size="3.9" font-weight="bold" text-anchor="middle" fill="#1a3a10" textLength="14.5" lengthAdjust="spacingAndGlyphs">→p66</text>
<rect x="577.4" y="184.5" width="17.6" height="4.2" fill="#db7a2c" stroke="#623613" stroke-width="0.45"/>
<path d="M574.21 186.60L575.26 185.55L576.31 186.60L575.26 187.65Z" fill="#83491a"/>
<text x="586.2" y="187.8" font-size="3.9" font-weight="bold" text-anchor="middle" fill="#fff" textLength="14.5" lengthAdjust="spacingAndGlyphs">→p52</text>
<rect x="623.9" y="55.5" width="17.6" height="4.2" fill="#52d35a" stroke="#245e28" stroke-width="0.45"/>
<path d="M620.77 57.60L621.82 56.55L622.87 57.60L621.82 58.65Z" fill="#317e36"/>
<text x="632.7" y="58.8" font-size="3.9" font-weight="bold" text-anchor="middle" fill="#1a3a10" textLength="14.5" lengthAdjust="spacingAndGlyphs">→p27</text>
<rect x="623.9" y="59.9" width="17.6" height="4.2" fill="#45bfc9" stroke="#1f555a" stroke-width="0.45"/>
<path d="M620.77 62.00L621.82 60.95L622.87 62.00L621.82 63.05Z" fill="#297278"/>
<text x="632.7" y="63.2" font-size="3.9" font-weight="bold" text-anchor="middle" fill="#fff" textLength="14.5" lengthAdjust="spacingAndGlyphs">→p70</text>
<rect x="623.9" y="141.5" width="17.6" height="4.2" fill="#d8399d" stroke="#611946" stroke-width="0.45"/>
<path d="M620.77 143.60L621.82 142.55L622.87 143.60L621.82 144.65Z" fill="#81225e"/>
<text x="632.7" y="144.8" font-size="3.9" font-weight="bold" text-anchor="middle" fill="#fff" textLength="14.5" lengthAdjust="spacingAndGlyphs">→p16</text>
<rect x="623.9" y="145.9" width="17.6" height="4.2" fill="#4a86e8" stroke="#213c68" stroke-width="0.45"/>
<path d="M620.77 148.00L621.82 146.95L622.87 148.00L621.82 149.05Z" fill="#2c508b"/>
<text x="632.7" y="149.2" font-size="3.9" font-weight="bold" text-anchor="middle" fill="#fff" textLength="14.5" lengthAdjust="spacingAndGlyphs">→p32</text>
<rect x="623.9" y="150.3" width="17.6" height="4.2" fill="#9ade55" stroke="#456326" stroke-width="0.45"/>
<path d="M620.77 152.40L621.82 151.35L622.87 152.40L621.82 153.45Z" fill="#5c8533"/>
<text x="632.7" y="153.6" font-size="3.9" font-weight="bold" text-anchor="middle" fill="#1a3a10" textLength="14.5" lengthAdjust="spacingAndGlyphs">→p64</text>
<rect x="623.9" y="184.5" width="17.6" height="4.2" fill="#438f6e" stroke="#1e4031" stroke-width="0.45"/>
<path d="M620.77 186.60L621.82 185.55L622.87 186.60L621.82 187.65Z" fill="#285542"/>
<text x="632.7" y="187.8" font-size="3.9" font-weight="bold" text-anchor="middle" fill="#fff" textLength="14.5" lengthAdjust="spacingAndGlyphs">→p58</text>
<rect x="670.5" y="141.5" width="17.6" height="4.2" fill="#45bfc9" stroke="#1f555a" stroke-width="0.45"/>
<path d="M667.32 143.60L668.37 142.55L669.42 143.60L668.37 144.65Z" fill="#297278"/>
<text x="679.3" y="144.8" font-size="3.9" font-weight="bold" text-anchor="middle" fill="#fff" textLength="14.5" lengthAdjust="spacingAndGlyphs">→p68</text>
<rect x="717.0" y="356.5" width="17.6" height="4.2" fill="#5b55da" stroke="#282662" stroke-width="0.45"/>
<path d="M713.88 358.60L714.93 357.55L715.98 358.60L714.93 359.65Z" fill="#363382"/>
<text x="725.8" y="359.8" font-size="3.9" font-weight="bold" text-anchor="middle" fill="#fff" textLength="14.5" lengthAdjust="spacingAndGlyphs">→p75</text>
<rect x="717.0" y="399.5" width="17.6" height="4.2" fill="#db7a2c" stroke="#623613" stroke-width="0.45"/>
<path d="M713.88 401.60L714.93 400.55L715.98 401.60L714.93 402.65Z" fill="#83491a"/>
<text x="725.8" y="402.8" font-size="3.9" font-weight="bold" text-anchor="middle" fill="#fff" textLength="14.5" lengthAdjust="spacingAndGlyphs">→p81</text>
<rect x="763.6" y="141.5" width="17.6" height="4.2" fill="#438f6e" stroke="#1e4031" stroke-width="0.45"/>
<path d="M760.43 143.60L761.48 142.55L762.53 143.60L761.48 144.65Z" fill="#285542"/>
<text x="772.4" y="144.8" font-size="3.9" font-weight="bold" text-anchor="middle" fill="#fff" textLength="14.5" lengthAdjust="spacingAndGlyphs">→p56</text>
<rect x="763.6" y="356.5" width="17.6" height="4.2" fill="#9ade55" stroke="#456326" stroke-width="0.45"/>
<path d="M760.43 358.60L761.48 357.55L762.53 358.60L761.48 359.65Z" fill="#5c8533"/>
<text x="772.4" y="359.8" font-size="3.9" font-weight="bold" text-anchor="middle" fill="#1a3a10" textLength="14.5" lengthAdjust="spacingAndGlyphs">→p62</text>
<rect x="763.6" y="399.5" width="17.6" height="4.2" fill="#db7a2c" stroke="#623613" stroke-width="0.45"/>
<path d="M760.43 401.60L761.48 400.55L762.53 401.60L761.48 402.65Z" fill="#83491a"/>
<text x="772.4" y="402.8" font-size="3.9" font-weight="bold" text-anchor="middle" fill="#fff" textLength="14.5" lengthAdjust="spacingAndGlyphs">→p79</text>
<rect x="949.8" y="184.5" width="17.6" height="4.2" fill="#5b55da" stroke="#282662" stroke-width="0.45"/>
<path d="M946.65 186.60L947.70 185.55L948.75 186.60L947.70 187.65Z" fill="#363382"/>
<text x="958.6" y="187.8" font-size="3.9" font-weight="bold" text-anchor="middle" fill="#fff" textLength="14.5" lengthAdjust="spacingAndGlyphs">→p77</text>
<rect x="949.8" y="227.5" width="17.6" height="4.2" fill="#d8399d" stroke="#611946" stroke-width="0.45"/>
<path d="M946.65 229.60L947.70 228.55L948.75 229.60L947.70 230.65Z" fill="#81225e"/>
<text x="958.6" y="230.8" font-size="3.9" font-weight="bold" text-anchor="middle" fill="#fff" textLength="14.5" lengthAdjust="spacingAndGlyphs">→p85</text>
<rect x="949.8" y="270.5" width="17.6" height="4.2" fill="#52d35a" stroke="#245e28" stroke-width="0.45"/>
<path d="M946.65 272.60L947.70 271.55L948.75 272.60L947.70 273.65Z" fill="#317e36"/>
<text x="958.6" y="273.8" font-size="3.9" font-weight="bold" text-anchor="middle" fill="#1a3a10" textLength="14.5" lengthAdjust="spacingAndGlyphs">→p107</text>
<rect x="1042.9" y="98.5" width="17.6" height="4.2" fill="#52d35a" stroke="#245e28" stroke-width="0.45"/>
<path d="M1039.76 100.60L1040.81 99.55L1041.86 100.60L1040.81 101.65Z" fill="#317e36"/>
<text x="1051.7" y="101.8" font-size="3.9" font-weight="bold" text-anchor="middle" fill="#1a3a10" textLength="14.5" lengthAdjust="spacingAndGlyphs">→p106</text>
<rect x="1136.0" y="98.5" width="17.6" height="4.2" fill="#e6c12e" stroke="#675614" stroke-width="0.45"/>
<path d="M1132.87 100.60L1133.92 99.55L1134.97 100.60L1133.92 101.65Z" fill="#8a731b"/>
<text x="1144.8" y="101.8" font-size="3.9" font-weight="bold" text-anchor="middle" fill="#1a3a10" textLength="14.5" lengthAdjust="spacingAndGlyphs">→p132</text>
<rect x="1182.6" y="98.5" width="17.6" height="4.2" fill="#7d4fc1" stroke="#382356" stroke-width="0.45"/>
<path d="M1179.43 100.60L1180.48 99.55L1181.53 100.60L1180.48 101.65Z" fill="#4b2f73"/>
<text x="1191.4" y="101.8" font-size="3.9" font-weight="bold" text-anchor="middle" fill="#fff" textLength="14.5" lengthAdjust="spacingAndGlyphs">→p123</text>
<rect x="1275.7" y="184.5" width="17.6" height="4.2" fill="#db7a2c" stroke="#623613" stroke-width="0.45"/>
<path d="M1272.54 186.60L1273.59 185.55L1274.63 186.60L1273.59 187.65Z" fill="#83491a"/>
<text x="1284.5" y="187.8" font-size="3.9" font-weight="bold" text-anchor="middle" fill="#fff" textLength="14.5" lengthAdjust="spacingAndGlyphs">→p136</text>
<rect x="1322.2" y="55.5" width="17.6" height="4.2" fill="#52d35a" stroke="#245e28" stroke-width="0.45"/>
<path d="M1319.09 57.60L1320.14 56.55L1321.19 57.60L1320.14 58.65Z" fill="#317e36"/>
<text x="1331.0" y="58.8" font-size="3.9" font-weight="bold" text-anchor="middle" fill="#1a3a10" textLength="14.5" lengthAdjust="spacingAndGlyphs">→p108</text>
<rect x="1322.2" y="184.5" width="17.6" height="4.2" fill="#8e8ef2" stroke="#3f3f6c" stroke-width="0.45"/>
<path d="M1319.09 186.60L1320.14 185.55L1321.19 186.60L1320.14 187.65Z" fill="#555591"/>
<text x="1331.0" y="187.8" font-size="3.9" font-weight="bold" text-anchor="middle" fill="#fff" textLength="14.5" lengthAdjust="spacingAndGlyphs">→p21</text>
<rect x="1322.2" y="188.9" width="17.6" height="4.2" fill="#52d35a" stroke="#245e28" stroke-width="0.45"/>
<path d="M1319.09 191.00L1320.14 189.95L1321.19 191.00L1320.14 192.05Z" fill="#317e36"/>
<text x="1331.0" y="192.2" font-size="3.9" font-weight="bold" text-anchor="middle" fill="#1a3a10" textLength="14.5" lengthAdjust="spacingAndGlyphs">→p30</text>
<rect x="1322.2" y="193.3" width="17.6" height="4.2" fill="#9ade55" stroke="#456326" stroke-width="0.45"/>
<path d="M1319.09 195.40L1320.14 194.35L1321.19 195.40L1320.14 196.45Z" fill="#5c8533"/>
<text x="1331.0" y="196.6" font-size="3.9" font-weight="bold" text-anchor="middle" fill="#1a3a10" textLength="14.5" lengthAdjust="spacingAndGlyphs">→p144</text>
<rect x="1368.8" y="141.5" width="17.6" height="4.2" fill="#4a86e8" stroke="#213c68" stroke-width="0.45"/>
<path d="M1365.65 143.60L1366.70 142.55L1367.75 143.60L1366.70 144.65Z" fill="#2c508b"/>
<text x="1377.6" y="144.8" font-size="3.9" font-weight="bold" text-anchor="middle" fill="#fff" textLength="14.5" lengthAdjust="spacingAndGlyphs">→p111</text>
<rect x="1368.8" y="145.9" width="17.6" height="4.2" fill="#7d4fc1" stroke="#382356" stroke-width="0.45"/>
<path d="M1365.65 148.00L1366.70 146.95L1367.75 148.00L1366.70 149.05Z" fill="#4b2f73"/>
<text x="1377.6" y="149.2" font-size="3.9" font-weight="bold" text-anchor="middle" fill="#fff" textLength="14.5" lengthAdjust="spacingAndGlyphs">→p121</text>
<rect x="1368.8" y="150.3" width="17.6" height="4.2" fill="#45bfc9" stroke="#1f555a" stroke-width="0.45"/>
<path d="M1365.65 152.40L1366.70 151.35L1367.75 152.40L1366.70 153.45Z" fill="#297278"/>
<text x="1377.6" y="153.6" font-size="3.9" font-weight="bold" text-anchor="middle" fill="#fff" textLength="14.5" lengthAdjust="spacingAndGlyphs">→p146</text>
<rect x="1415.4" y="141.5" width="17.6" height="4.2" fill="#5b55da" stroke="#282662" stroke-width="0.45"/>
<path d="M1412.20 143.60L1413.25 142.55L1414.30 143.60L1413.25 144.65Z" fill="#363382"/>
<text x="1424.2" y="144.8" font-size="3.9" font-weight="bold" text-anchor="middle" fill="#fff" textLength="14.5" lengthAdjust="spacingAndGlyphs">→p150</text>
<rect x="1415.4" y="145.9" width="17.6" height="4.2" fill="#d8399d" stroke="#611946" stroke-width="0.45"/>
<path d="M1412.20 148.00L1413.25 146.95L1414.30 148.00L1413.25 149.05Z" fill="#81225e"/>
<text x="1424.2" y="149.2" font-size="3.9" font-weight="bold" text-anchor="middle" fill="#fff" textLength="14.5" lengthAdjust="spacingAndGlyphs">→p156</text>
<rect x="1415.4" y="184.5" width="17.6" height="4.2" fill="#8e8ef2" stroke="#3f3f6c" stroke-width="0.45"/>
<path d="M1412.20 186.60L1413.25 185.55L1414.30 186.60L1413.25 187.65Z" fill="#555591"/>
<text x="1424.2" y="187.8" font-size="3.9" font-weight="bold" text-anchor="middle" fill="#fff" textLength="14.5" lengthAdjust="spacingAndGlyphs">→p162</text>
<rect x="1415.4" y="188.9" width="17.6" height="4.2" fill="#52d35a" stroke="#245e28" stroke-width="0.45"/>
<path d="M1412.20 191.00L1413.25 189.95L1414.30 191.00L1413.25 192.05Z" fill="#317e36"/>
<text x="1424.2" y="192.2" font-size="3.9" font-weight="bold" text-anchor="middle" fill="#1a3a10" textLength="14.5" lengthAdjust="spacingAndGlyphs">→p166</text>
<rect x="1461.9" y="98.5" width="17.6" height="4.2" fill="#8e8ef2" stroke="#3f3f6c" stroke-width="0.45"/>
<path d="M1458.76 100.60L1459.81 99.55L1460.86 100.60L1459.81 101.65Z" fill="#555591"/>
<text x="1470.7" y="101.8" font-size="3.9" font-weight="bold" text-anchor="middle" fill="#fff" textLength="14.5" lengthAdjust="spacingAndGlyphs">→p160</text>
<rect x="1461.9" y="141.5" width="17.6" height="4.2" fill="#5b55da" stroke="#282662" stroke-width="0.45"/>
<path d="M1458.76 143.60L1459.81 142.55L1460.86 143.60L1459.81 144.65Z" fill="#363382"/>
<text x="1470.7" y="144.8" font-size="3.9" font-weight="bold" text-anchor="middle" fill="#fff" textLength="14.5" lengthAdjust="spacingAndGlyphs">→p149</text>
<rect x="1508.5" y="98.5" width="17.6" height="4.2" fill="#db7a2c" stroke="#623613" stroke-width="0.45"/>
<path d="M1505.31 100.60L1506.36 99.55L1507.41 100.60L1506.36 101.65Z" fill="#83491a"/>
<text x="1517.3" y="101.8" font-size="3.9" font-weight="bold" text-anchor="middle" fill="#fff" textLength="14.5" lengthAdjust="spacingAndGlyphs">→p82</text>
<rect x="1508.5" y="141.5" width="17.6" height="4.2" fill="#438f6e" stroke="#1e4031" stroke-width="0.45"/>
<path d="M1505.31 143.60L1506.36 142.55L1507.41 143.60L1506.36 144.65Z" fill="#285542"/>
<text x="1517.3" y="144.8" font-size="3.9" font-weight="bold" text-anchor="middle" fill="#fff" textLength="14.5" lengthAdjust="spacingAndGlyphs">→p140</text>
<rect x="1508.5" y="145.9" width="17.6" height="4.2" fill="#8e8ef2" stroke="#3f3f6c" stroke-width="0.45"/>
<path d="M1505.31 148.00L1506.36 146.95L1507.41 148.00L1506.36 149.05Z" fill="#555591"/>
<text x="1517.3" y="149.2" font-size="3.9" font-weight="bold" text-anchor="middle" fill="#fff" textLength="14.5" lengthAdjust="spacingAndGlyphs">→p163</text>
<rect x="1555.0" y="55.5" width="17.6" height="4.2" fill="#9ade55" stroke="#456326" stroke-width="0.45"/>
<path d="M1551.87 57.60L1552.92 56.55L1553.97 57.60L1552.92 58.65Z" fill="#5c8533"/>
<text x="1563.8" y="58.8" font-size="3.9" font-weight="bold" text-anchor="middle" fill="#1a3a10" textLength="14.5" lengthAdjust="spacingAndGlyphs">→p143</text>
<rect x="1555.0" y="98.5" width="17.6" height="4.2" fill="#db7a2c" stroke="#623613" stroke-width="0.45"/>
<path d="M1551.87 100.60L1552.92 99.55L1553.97 100.60L1552.92 101.65Z" fill="#83491a"/>
<text x="1563.8" y="101.8" font-size="3.9" font-weight="bold" text-anchor="middle" fill="#fff" textLength="14.5" lengthAdjust="spacingAndGlyphs">→p155</text>
<rect x="1601.6" y="55.5" width="17.6" height="4.2" fill="#5b55da" stroke="#282662" stroke-width="0.45"/>
<path d="M1598.42 57.60L1599.47 56.55L1600.52 57.60L1599.47 58.65Z" fill="#363382"/>
<text x="1610.4" y="58.8" font-size="3.9" font-weight="bold" text-anchor="middle" fill="#fff" textLength="14.5" lengthAdjust="spacingAndGlyphs">→p152</text>
<rect x="1601.6" y="141.5" width="17.6" height="4.2" fill="#52d35a" stroke="#245e28" stroke-width="0.45"/>
<path d="M1598.42 143.60L1599.47 142.55L1600.52 143.60L1599.47 144.65Z" fill="#317e36"/>
<text x="1610.4" y="144.8" font-size="3.9" font-weight="bold" text-anchor="middle" fill="#1a3a10" textLength="14.5" lengthAdjust="spacingAndGlyphs">→p104</text>
<rect x="1741.2" y="55.5" width="17.6" height="4.2" fill="#52d35a" stroke="#245e28" stroke-width="0.45"/>
<path d="M1738.09 57.60L1739.14 56.55L1740.19 57.60L1739.14 58.65Z" fill="#317e36"/>
<text x="1750.0" y="58.8" font-size="3.9" font-weight="bold" text-anchor="middle" fill="#1a3a10" textLength="14.5" lengthAdjust="spacingAndGlyphs">→p105</text>
<rect x="1741.2" y="270.5" width="17.6" height="4.2" fill="#e6c12e" stroke="#675614" stroke-width="0.45"/>
<path d="M1738.09 272.60L1739.14 271.55L1740.19 272.60L1739.14 273.65Z" fill="#8a731b"/>
<text x="1750.0" y="273.8" font-size="3.9" font-weight="bold" text-anchor="middle" fill="#1a3a10" textLength="14.5" lengthAdjust="spacingAndGlyphs">→p177</text>
<rect x="1741.2" y="356.5" width="17.6" height="4.2" fill="#5b55da" stroke="#282662" stroke-width="0.45"/>
<path d="M1738.09 358.60L1739.14 357.55L1740.19 358.60L1739.14 359.65Z" fill="#363382"/>
<text x="1750.0" y="359.8" font-size="3.9" font-weight="bold" text-anchor="middle" fill="#fff" textLength="14.5" lengthAdjust="spacingAndGlyphs">→p194</text>
<rect x="1834.3" y="55.5" width="17.6" height="4.2" fill="#5b55da" stroke="#282662" stroke-width="0.45"/>
<path d="M1831.20 57.60L1832.25 56.55L1833.30 57.60L1832.25 58.65Z" fill="#363382"/>
<text x="1843.1" y="58.8" font-size="3.9" font-weight="bold" text-anchor="middle" fill="#fff" textLength="14.5" lengthAdjust="spacingAndGlyphs">→p198</text>
<rect x="1834.3" y="98.5" width="17.6" height="4.2" fill="#db7a2c" stroke="#623613" stroke-width="0.45"/>
<path d="M1831.20 100.60L1832.25 99.55L1833.30 100.60L1832.25 101.65Z" fill="#83491a"/>
<text x="1843.1" y="101.8" font-size="3.9" font-weight="bold" text-anchor="middle" fill="#fff" textLength="14.5" lengthAdjust="spacingAndGlyphs">→p153</text>
<rect x="1927.5" y="55.5" width="17.6" height="4.2" fill="#db7a2c" stroke="#623613" stroke-width="0.45"/>
<path d="M1924.31 57.60L1925.36 56.55L1926.40 57.60L1925.36 58.65Z" fill="#83491a"/>
<text x="1936.3" y="58.8" font-size="3.9" font-weight="bold" text-anchor="middle" fill="#fff" textLength="14.5" lengthAdjust="spacingAndGlyphs">→p134</text>
<rect x="1927.5" y="184.5" width="17.6" height="4.2" fill="#d8399d" stroke="#611946" stroke-width="0.45"/>
<path d="M1924.31 186.60L1925.36 185.55L1926.40 186.60L1925.36 187.65Z" fill="#81225e"/>
<text x="1936.3" y="187.8" font-size="3.9" font-weight="bold" text-anchor="middle" fill="#fff" textLength="14.5" lengthAdjust="spacingAndGlyphs">→p90</text>
</svg></body></html>
